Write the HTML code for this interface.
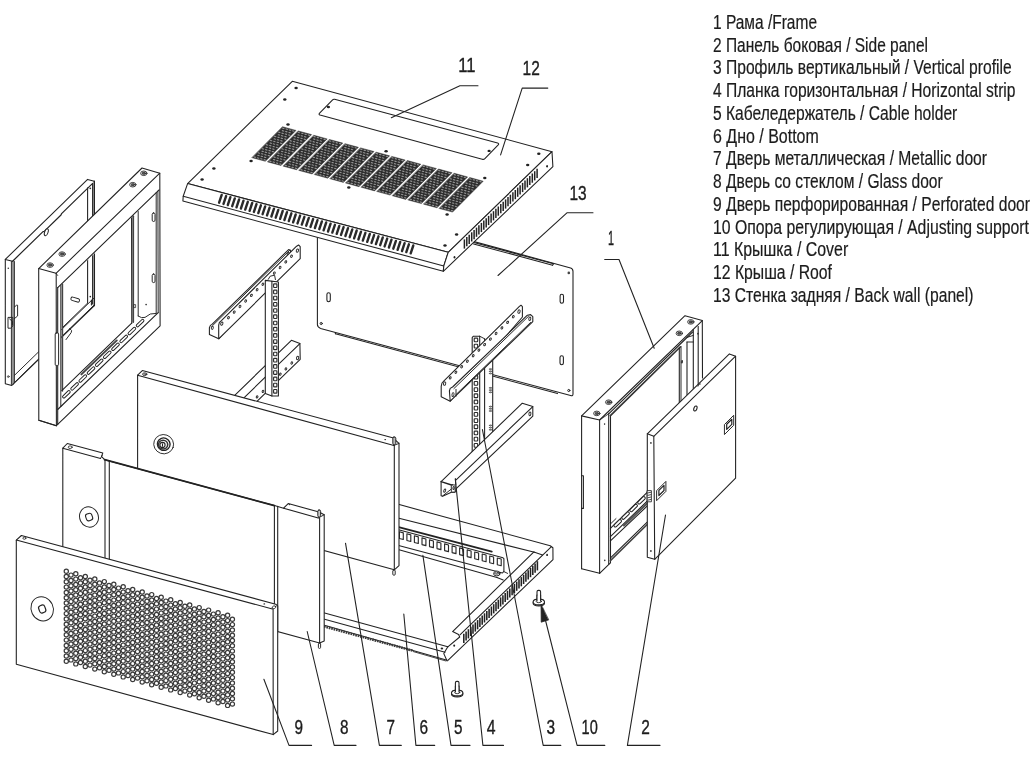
<!DOCTYPE html>
<html><head><meta charset="utf-8"><title>Exploded view</title>
<style>
html,body{margin:0;padding:0;background:#fff;}
body{width:1035px;height:763px;overflow:hidden;font-family:"Liberation Sans",sans-serif;}
svg{display:block;position:absolute;left:0;top:0;filter:grayscale(1);}
.lg text{font-family:"Liberation Sans",sans-serif;font-size:19.7px;fill:#1c1c1c;stroke:#1c1c1c;stroke-width:0.2px;}
.nm text{font-family:"Liberation Sans",sans-serif;font-size:19.5px;fill:#1c1c1c;stroke:#1c1c1c;stroke-width:0.35px;}
</style></head><body>
<svg width="1035" height="763" viewBox="0 0 1035 763" stroke-linecap="round" stroke-linejoin="round">
<rect width="1035" height="763" fill="#fff"/>
<g id="drawing">
<path d="M317.4 199 L317.4 324.6 Q317.4 327.2 320.6 328.4 L570.6 395.5 Q573 396.2 573 394 L573 271.4 Q573 268.6 570.6 267.9 L317.4 199 Z" fill="#fff" stroke="#222" stroke-width="1.08"/>
<line x1="335.4" y1="333.8" x2="557.5" y2="393.6" stroke="#222" stroke-width="1.08" />
<line x1="335.4" y1="332.6" x2="335.4" y2="333.8" stroke="#222" stroke-width="1.08" />
<line x1="472.8" y1="242.2" x2="553.5" y2="263.8" stroke="#222" stroke-width="1.08" />
<line x1="473.6" y1="243.9" x2="552.6" y2="265.2" stroke="#222" stroke-width="1.08" />
<line x1="553.5" y1="263.8" x2="552.6" y2="265.2" stroke="#222" stroke-width="1.08" />
<rect x="326.9" y="292.7" width="3.4" height="9" rx="1.7" fill="#fff" stroke="#222" stroke-width="1.08"/>
<rect x="560.1" y="294.3" width="3.4" height="9" rx="1.7" fill="#fff" stroke="#222" stroke-width="1.08"/>
<rect x="560.0" y="355.7" width="3.4" height="9" rx="1.7" fill="#fff" stroke="#222" stroke-width="1.08"/>
<ellipse cx="321.2" cy="323.5" rx="1.10" ry="1.10" fill="#fff" stroke="#222" stroke-width="0.96"/>
<ellipse cx="568.8" cy="272.9" rx="1.30" ry="1.30" fill="#444" stroke="none" stroke-width="0.96"/>
<ellipse cx="568.8" cy="390.5" rx="1.10" ry="1.10" fill="#fff" stroke="#222" stroke-width="0.96"/>
<path d="M209.4 327.6 L210.4 325.4 L212.0 324.4 L288.6 249.6 L290.6 250.2 L290.6 256.0 L218.7 338.8 L209.4 334.6 Z" fill="#fff" stroke="#222" stroke-width="1.08" />
<line x1="212.6" y1="325.6" x2="289.6" y2="250.4" stroke="#222" stroke-width="0.96" />
<ellipse cx="212.3" cy="327.8" rx="1.00" ry="1.60" fill="#fff" stroke="#2a2a2a" stroke-width="0.96" transform="rotate(10.0 212.3 327.8)"/>
<ellipse cx="288.2" cy="253.8" rx="1.00" ry="1.60" fill="#fff" stroke="#2a2a2a" stroke-width="0.96" transform="rotate(10.0 288.2 253.8)"/>
<path d="M218.7 325.2 L219.4 322.4 L221.4 320.6 L296.6 246.2 L298.6 245.0 L300.2 246.6 L300.2 258.7 L218.7 338.8 Z" fill="#fff" stroke="#222" stroke-width="1.08" />
<ellipse cx="228.5" cy="317.7" rx="0.85" ry="1.25" fill="#fff" stroke="#2a2a2a" stroke-width="0.96" transform="rotate(25.0 228.5 317.7)"/>
<ellipse cx="234.2" cy="312.1" rx="0.85" ry="1.25" fill="#fff" stroke="#2a2a2a" stroke-width="0.96" transform="rotate(25.0 234.2 312.1)"/>
<ellipse cx="240.0" cy="306.5" rx="0.85" ry="1.25" fill="#fff" stroke="#2a2a2a" stroke-width="0.96" transform="rotate(25.0 240.0 306.5)"/>
<ellipse cx="245.7" cy="301.0" rx="0.85" ry="1.25" fill="#fff" stroke="#2a2a2a" stroke-width="0.96" transform="rotate(25.0 245.7 301.0)"/>
<ellipse cx="251.4" cy="295.4" rx="0.85" ry="1.25" fill="#fff" stroke="#2a2a2a" stroke-width="0.96" transform="rotate(25.0 251.4 295.4)"/>
<ellipse cx="257.1" cy="289.8" rx="0.85" ry="1.25" fill="#fff" stroke="#2a2a2a" stroke-width="0.96" transform="rotate(25.0 257.1 289.8)"/>
<ellipse cx="262.9" cy="284.2" rx="0.85" ry="1.25" fill="#fff" stroke="#2a2a2a" stroke-width="0.96" transform="rotate(25.0 262.9 284.2)"/>
<ellipse cx="274.3" cy="273.1" rx="0.85" ry="1.25" fill="#fff" stroke="#2a2a2a" stroke-width="0.96" transform="rotate(25.0 274.3 273.1)"/>
<ellipse cx="280.1" cy="267.5" rx="0.85" ry="1.25" fill="#fff" stroke="#2a2a2a" stroke-width="0.96" transform="rotate(25.0 280.1 267.5)"/>
<ellipse cx="285.8" cy="261.9" rx="0.85" ry="1.25" fill="#fff" stroke="#2a2a2a" stroke-width="0.96" transform="rotate(25.0 285.8 261.9)"/>
<ellipse cx="291.5" cy="256.3" rx="0.85" ry="1.25" fill="#fff" stroke="#2a2a2a" stroke-width="0.96" transform="rotate(25.0 291.5 256.3)"/>
<ellipse cx="221.8" cy="323.6" rx="1.10" ry="1.70" fill="#fff" stroke="#2a2a2a" stroke-width="0.96" transform="rotate(15.0 221.8 323.6)"/>
<ellipse cx="297.4" cy="250.6" rx="1.10" ry="1.70" fill="#fff" stroke="#2a2a2a" stroke-width="0.96" transform="rotate(15.0 297.4 250.6)"/>
<path d="M291.4 340.3 L299.9 343.6 L300.2 359.3 L250.0 408.0 L225.0 404.7 Z" fill="#fff" stroke="none" stroke-width="1.08" />
<path d="M228.0 401.8 L291.4 340.3 L299.9 343.6 L300.2 359.3 L252.0 406.1" fill="none" stroke="#222" stroke-width="1.08" />
<line x1="299.9" y1="343.6" x2="240.0" y2="401.7" stroke="#222" stroke-width="1.08" />
<ellipse cx="297.6" cy="358.0" rx="1.10" ry="1.70" fill="#fff" stroke="#2a2a2a" stroke-width="0.96" transform="rotate(10.0 297.6 358.0)"/>
<ellipse cx="291.8" cy="363.0" rx="0.80" ry="1.20" fill="#fff" stroke="#2a2a2a" stroke-width="0.96" transform="rotate(25.0 291.8 363.0)"/>
<ellipse cx="285.9" cy="368.9" rx="0.80" ry="1.20" fill="#fff" stroke="#2a2a2a" stroke-width="0.96" transform="rotate(25.0 285.9 368.9)"/>
<ellipse cx="280.3" cy="374.2" rx="0.80" ry="1.20" fill="#fff" stroke="#2a2a2a" stroke-width="0.96" transform="rotate(25.0 280.3 374.2)"/>
<ellipse cx="263.0" cy="391.4" rx="0.80" ry="1.20" fill="#fff" stroke="#2a2a2a" stroke-width="0.96" transform="rotate(25.0 263.0 391.4)"/>
<ellipse cx="257.1" cy="396.9" rx="0.80" ry="1.20" fill="#fff" stroke="#2a2a2a" stroke-width="0.96" transform="rotate(25.0 257.1 396.9)"/>
<path d="M265.3 280.4 L278.4 282.0 L278.4 396.0 L271.9 396.0 L265.3 393.4 Z" fill="#fff" stroke="#222" stroke-width="1.08" />
<line x1="271.9" y1="281.2" x2="271.9" y2="396.0" stroke="#222" stroke-width="1.08" />
<rect x="273.6" y="283.9" width="3.3" height="3.6" rx="0.7" fill="#fff" stroke="#2a2a2a" stroke-width="1.14"/>
<rect x="273.6" y="290.1" width="3.3" height="3.6" rx="0.7" fill="#fff" stroke="#2a2a2a" stroke-width="1.14"/>
<rect x="273.6" y="296.3" width="3.3" height="3.6" rx="0.7" fill="#fff" stroke="#2a2a2a" stroke-width="1.14"/>
<rect x="273.6" y="302.5" width="3.3" height="3.6" rx="0.7" fill="#fff" stroke="#2a2a2a" stroke-width="1.14"/>
<rect x="273.6" y="308.7" width="3.3" height="3.6" rx="0.7" fill="#fff" stroke="#2a2a2a" stroke-width="1.14"/>
<rect x="273.6" y="314.9" width="3.3" height="3.6" rx="0.7" fill="#fff" stroke="#2a2a2a" stroke-width="1.14"/>
<rect x="273.6" y="321.2" width="3.3" height="3.6" rx="0.7" fill="#fff" stroke="#2a2a2a" stroke-width="1.14"/>
<rect x="273.6" y="327.4" width="3.3" height="3.6" rx="0.7" fill="#fff" stroke="#2a2a2a" stroke-width="1.14"/>
<rect x="273.6" y="333.6" width="3.3" height="3.6" rx="0.7" fill="#fff" stroke="#2a2a2a" stroke-width="1.14"/>
<rect x="273.6" y="339.8" width="3.3" height="3.6" rx="0.7" fill="#fff" stroke="#2a2a2a" stroke-width="1.14"/>
<rect x="273.6" y="346.0" width="3.3" height="3.6" rx="0.7" fill="#fff" stroke="#2a2a2a" stroke-width="1.14"/>
<rect x="273.6" y="352.2" width="3.3" height="3.6" rx="0.7" fill="#fff" stroke="#2a2a2a" stroke-width="1.14"/>
<rect x="273.6" y="358.4" width="3.3" height="3.6" rx="0.7" fill="#fff" stroke="#2a2a2a" stroke-width="1.14"/>
<rect x="273.6" y="364.6" width="3.3" height="3.6" rx="0.7" fill="#fff" stroke="#2a2a2a" stroke-width="1.14"/>
<rect x="273.6" y="370.8" width="3.3" height="3.6" rx="0.7" fill="#fff" stroke="#2a2a2a" stroke-width="1.14"/>
<rect x="273.6" y="377.1" width="3.3" height="3.6" rx="0.7" fill="#fff" stroke="#2a2a2a" stroke-width="1.14"/>
<rect x="273.6" y="383.3" width="3.3" height="3.6" rx="0.7" fill="#fff" stroke="#2a2a2a" stroke-width="1.14"/>
<rect x="273.6" y="389.5" width="3.3" height="3.6" rx="0.7" fill="#fff" stroke="#2a2a2a" stroke-width="1.14"/>
<path d="M268.2 279.4 L270.2 276.2 L274.6 275.2 L275.4 279.6" fill="none" stroke="#222" stroke-width="0.96" />
<path d="M472.2 337.6 L473.4 336.2 L480.0 336.2 L485.4 339.2 L492.7 339.2 L492.7 440.0 L472.2 456.0 Z" fill="#fff" stroke="none" stroke-width="1.08" />
<path d="M472.2 456.0 L472.2 337.6 L473.4 336.2 L479.7 336.2 L479.7 452.0" fill="none" stroke="#222" stroke-width="1.08" />
<line x1="479.7" y1="336.2" x2="485.0" y2="339.0" stroke="#222" stroke-width="0.96" />
<line x1="484.6" y1="339.0" x2="484.6" y2="446.0" stroke="#222" stroke-width="1.08" />
<line x1="492.7" y1="356.0" x2="492.7" y2="436.0" stroke="#222" stroke-width="1.08" />
<rect x="474.2" y="338.1" width="3.5" height="3.7" rx="0.7" fill="#fff" stroke="#2a2a2a" stroke-width="1.14"/>
<rect x="474.2" y="344.3" width="3.5" height="3.7" rx="0.7" fill="#fff" stroke="#2a2a2a" stroke-width="1.14"/>
<rect x="474.2" y="350.5" width="3.5" height="3.7" rx="0.7" fill="#fff" stroke="#2a2a2a" stroke-width="1.14"/>
<rect x="474.2" y="356.8" width="3.5" height="3.7" rx="0.7" fill="#fff" stroke="#2a2a2a" stroke-width="1.14"/>
<rect x="474.2" y="362.9" width="3.5" height="3.7" rx="0.7" fill="#fff" stroke="#2a2a2a" stroke-width="1.14"/>
<rect x="474.2" y="369.1" width="3.5" height="3.7" rx="0.7" fill="#fff" stroke="#2a2a2a" stroke-width="1.14"/>
<rect x="474.2" y="375.3" width="3.5" height="3.7" rx="0.7" fill="#fff" stroke="#2a2a2a" stroke-width="1.14"/>
<rect x="474.2" y="381.5" width="3.5" height="3.7" rx="0.7" fill="#fff" stroke="#2a2a2a" stroke-width="1.14"/>
<rect x="474.2" y="387.8" width="3.5" height="3.7" rx="0.7" fill="#fff" stroke="#2a2a2a" stroke-width="1.14"/>
<rect x="474.2" y="393.9" width="3.5" height="3.7" rx="0.7" fill="#fff" stroke="#2a2a2a" stroke-width="1.14"/>
<rect x="474.2" y="400.1" width="3.5" height="3.7" rx="0.7" fill="#fff" stroke="#2a2a2a" stroke-width="1.14"/>
<rect x="474.2" y="406.3" width="3.5" height="3.7" rx="0.7" fill="#fff" stroke="#2a2a2a" stroke-width="1.14"/>
<rect x="474.2" y="412.5" width="3.5" height="3.7" rx="0.7" fill="#fff" stroke="#2a2a2a" stroke-width="1.14"/>
<rect x="474.2" y="418.8" width="3.5" height="3.7" rx="0.7" fill="#fff" stroke="#2a2a2a" stroke-width="1.14"/>
<rect x="474.2" y="424.9" width="3.5" height="3.7" rx="0.7" fill="#fff" stroke="#2a2a2a" stroke-width="1.14"/>
<rect x="474.2" y="431.1" width="3.5" height="3.7" rx="0.7" fill="#fff" stroke="#2a2a2a" stroke-width="1.14"/>
<rect x="474.2" y="437.3" width="3.5" height="3.7" rx="0.7" fill="#fff" stroke="#2a2a2a" stroke-width="1.14"/>
<rect x="474.2" y="443.5" width="3.5" height="3.7" rx="0.7" fill="#fff" stroke="#2a2a2a" stroke-width="1.14"/>
<rect x="474.2" y="449.8" width="3.5" height="3.7" rx="0.7" fill="#fff" stroke="#2a2a2a" stroke-width="1.14"/>
<path d="M489.6 369.1 q1.6 -1.2 2.2 0 q-0.6 1.2 -2.2 0Z" fill="none" stroke="#333" stroke-width="0.72"/>
<path d="M489.6 371.3 q1.6 -1.2 2.2 0 q-0.6 1.2 -2.2 0Z" fill="none" stroke="#333" stroke-width="0.72"/>
<path d="M489.6 373.5 q1.6 -1.2 2.2 0 q-0.6 1.2 -2.2 0Z" fill="none" stroke="#333" stroke-width="0.72"/>
<path d="M489.6 387.9 q1.6 -1.2 2.2 0 q-0.6 1.2 -2.2 0Z" fill="none" stroke="#333" stroke-width="0.72"/>
<path d="M489.6 390.1 q1.6 -1.2 2.2 0 q-0.6 1.2 -2.2 0Z" fill="none" stroke="#333" stroke-width="0.72"/>
<path d="M489.6 392.3 q1.6 -1.2 2.2 0 q-0.6 1.2 -2.2 0Z" fill="none" stroke="#333" stroke-width="0.72"/>
<path d="M489.6 406.6 q1.6 -1.2 2.2 0 q-0.6 1.2 -2.2 0Z" fill="none" stroke="#333" stroke-width="0.72"/>
<path d="M489.6 408.8 q1.6 -1.2 2.2 0 q-0.6 1.2 -2.2 0Z" fill="none" stroke="#333" stroke-width="0.72"/>
<path d="M489.6 411.0 q1.6 -1.2 2.2 0 q-0.6 1.2 -2.2 0Z" fill="none" stroke="#333" stroke-width="0.72"/>
<path d="M489.6 425.4 q1.6 -1.2 2.2 0 q-0.6 1.2 -2.2 0Z" fill="none" stroke="#333" stroke-width="0.72"/>
<path d="M489.6 427.6 q1.6 -1.2 2.2 0 q-0.6 1.2 -2.2 0Z" fill="none" stroke="#333" stroke-width="0.72"/>
<path d="M489.6 429.8 q1.6 -1.2 2.2 0 q-0.6 1.2 -2.2 0Z" fill="none" stroke="#333" stroke-width="0.72"/>
<path d="M441.2 386.4 L442.0 383.0 L444.2 380.6 L519.4 306.4 L521.0 305.2 L522.4 306.6 L522.4 317.0 L450.2 401.2 L441.2 396.8 Z" fill="#fff" stroke="#222" stroke-width="1.08" />
<ellipse cx="450.2" cy="377.9" rx="0.85" ry="1.25" fill="#fff" stroke="#2a2a2a" stroke-width="0.96" transform="rotate(25.0 450.2 377.9)"/>
<ellipse cx="455.9" cy="372.3" rx="0.85" ry="1.25" fill="#fff" stroke="#2a2a2a" stroke-width="0.96" transform="rotate(25.0 455.9 372.3)"/>
<ellipse cx="461.7" cy="366.8" rx="0.85" ry="1.25" fill="#fff" stroke="#2a2a2a" stroke-width="0.96" transform="rotate(25.0 461.7 366.8)"/>
<ellipse cx="467.4" cy="361.2" rx="0.85" ry="1.25" fill="#fff" stroke="#2a2a2a" stroke-width="0.96" transform="rotate(25.0 467.4 361.2)"/>
<ellipse cx="473.2" cy="355.7" rx="0.85" ry="1.25" fill="#fff" stroke="#2a2a2a" stroke-width="0.96" transform="rotate(25.0 473.2 355.7)"/>
<ellipse cx="478.9" cy="350.1" rx="0.85" ry="1.25" fill="#fff" stroke="#2a2a2a" stroke-width="0.96" transform="rotate(25.0 478.9 350.1)"/>
<ellipse cx="484.6" cy="344.6" rx="0.85" ry="1.25" fill="#fff" stroke="#2a2a2a" stroke-width="0.96" transform="rotate(25.0 484.6 344.6)"/>
<ellipse cx="490.4" cy="339.1" rx="0.85" ry="1.25" fill="#fff" stroke="#2a2a2a" stroke-width="0.96" transform="rotate(25.0 490.4 339.1)"/>
<ellipse cx="496.1" cy="333.5" rx="0.85" ry="1.25" fill="#fff" stroke="#2a2a2a" stroke-width="0.96" transform="rotate(25.0 496.1 333.5)"/>
<ellipse cx="501.9" cy="327.9" rx="0.85" ry="1.25" fill="#fff" stroke="#2a2a2a" stroke-width="0.96" transform="rotate(25.0 501.9 327.9)"/>
<ellipse cx="507.6" cy="322.4" rx="0.85" ry="1.25" fill="#fff" stroke="#2a2a2a" stroke-width="0.96" transform="rotate(25.0 507.6 322.4)"/>
<ellipse cx="513.3" cy="316.8" rx="0.85" ry="1.25" fill="#fff" stroke="#2a2a2a" stroke-width="0.96" transform="rotate(25.0 513.3 316.8)"/>
<ellipse cx="444.6" cy="383.6" rx="1.10" ry="1.80" fill="#fff" stroke="#2a2a2a" stroke-width="0.96" transform="rotate(15.0 444.6 383.6)"/>
<ellipse cx="519.0" cy="311.6" rx="1.10" ry="1.80" fill="#fff" stroke="#2a2a2a" stroke-width="0.96" transform="rotate(15.0 519.0 311.6)"/>
<path d="M449.4 391.0 L450.2 388.4 L452.6 387.0 L527.4 315.2 L530.6 314.6 L532.8 316.6 L532.8 321.6 L450.2 401.2 Z" fill="#fff" stroke="#222" stroke-width="1.08" />
<line x1="453.9" y1="388.6" x2="528.6" y2="316.2" stroke="#222" stroke-width="0.96" />
<line x1="456.0" y1="394.6" x2="530.6" y2="322.4" stroke="#222" stroke-width="0.96" />
<line x1="456.0" y1="389.4" x2="456.0" y2="396.2" stroke="#222" stroke-width="0.96" />
<ellipse cx="453.0" cy="394.6" rx="1.00" ry="2.00" fill="#fff" stroke="#2a2a2a" stroke-width="0.96" transform="rotate(8.0 453.0 394.6)"/>
<ellipse cx="529.8" cy="318.8" rx="1.00" ry="1.80" fill="#fff" stroke="#2a2a2a" stroke-width="0.96" transform="rotate(8.0 529.8 318.8)"/>
<path d="M441.1 481.6 L522.3 403.2 L532.8 406.6 L532.8 416.2 L456.2 488.6 L455.2 492.2 L451.4 492.2 L442.6 496.2 L441.1 495.7 Z" fill="#fff" stroke="#222" stroke-width="1.08" />
<line x1="455.6" y1="480.4" x2="532.8" y2="406.6" stroke="#222" stroke-width="1.08" />
<path d="M441.1 481.6 L452.3 485.2" fill="none" stroke="#222" stroke-width="1.44" />
<line x1="442.6" y1="496.0" x2="451.6" y2="488.8" stroke="#222" stroke-width="0.96" />
<rect x="451.3" y="484.9" width="3.9" height="7.2" rx="0.8" fill="#fff" stroke="#222" stroke-width="0.96"/>
<ellipse cx="453.6" cy="488.0" rx="0.70" ry="1.60" fill="#fff" stroke="#2a2a2a" stroke-width="0.96" transform="rotate(8.0 453.6 488.0)"/>
<ellipse cx="444.7" cy="490.6" rx="0.90" ry="1.70" fill="#fff" stroke="#2a2a2a" stroke-width="0.96" transform="rotate(20.0 444.7 490.6)"/>
<line x1="455.4" y1="478.6" x2="455.8" y2="484.6" stroke="#222" stroke-width="0.96" />
<ellipse cx="529.9" cy="413.8" rx="1.00" ry="1.90" fill="#fff" stroke="#2a2a2a" stroke-width="0.96" transform="rotate(8.0 529.9 413.8)"/>
<path d="M392.0 502.6 L550.2 545.7 L552.8 547.6 L553.0 559.6 L447.1 661.0 L443.8 653.6 L320.0 618.6 L320.0 560.0 Z" fill="#fff" stroke="none" stroke-width="1.08" />
<path d="M392.0 502.6 L550.2 545.7 L552.9 547.8 L553.0 559.6 L447.9 660.4" fill="none" stroke="#222" stroke-width="1.08" />
<line x1="392.0" y1="516.6" x2="534.5" y2="552.3" stroke="#222" stroke-width="1.08" />
<line x1="392.0" y1="525.4" x2="491.8" y2="551.6" stroke="#222" stroke-width="1.80" />
<path d="M392.0 528.1 L503.0 557.8 L503.9 558.6 L503.9 571.4 L502.4 573.0 L392.0 543.8" fill="none" stroke="#222" stroke-width="1.08" />
<path d="M391.9 529.8 l3.9 1.05 v6.7 l-3.9 -1.05 Z" fill="#fff" stroke="#2a2a2a" stroke-width="1.14"/>
<path d="M399.4 531.8 l3.9 1.05 v6.7 l-3.9 -1.05 Z" fill="#fff" stroke="#2a2a2a" stroke-width="1.14"/>
<path d="M406.9 533.8 l3.9 1.05 v6.7 l-3.9 -1.05 Z" fill="#fff" stroke="#2a2a2a" stroke-width="1.14"/>
<path d="M414.4 535.8 l3.9 1.05 v6.7 l-3.9 -1.05 Z" fill="#fff" stroke="#2a2a2a" stroke-width="1.14"/>
<path d="M422.0 537.9 l3.9 1.05 v6.7 l-3.9 -1.05 Z" fill="#fff" stroke="#2a2a2a" stroke-width="1.14"/>
<path d="M429.5 539.9 l3.9 1.05 v6.7 l-3.9 -1.05 Z" fill="#fff" stroke="#2a2a2a" stroke-width="1.14"/>
<path d="M437.0 541.9 l3.9 1.05 v6.7 l-3.9 -1.05 Z" fill="#fff" stroke="#2a2a2a" stroke-width="1.14"/>
<path d="M444.6 543.9 l3.9 1.05 v6.7 l-3.9 -1.05 Z" fill="#fff" stroke="#2a2a2a" stroke-width="1.14"/>
<path d="M452.1 545.9 l3.9 1.05 v6.7 l-3.9 -1.05 Z" fill="#fff" stroke="#2a2a2a" stroke-width="1.14"/>
<path d="M459.6 547.9 l3.9 1.05 v6.7 l-3.9 -1.05 Z" fill="#fff" stroke="#2a2a2a" stroke-width="1.14"/>
<path d="M467.2 549.9 l3.9 1.05 v6.7 l-3.9 -1.05 Z" fill="#fff" stroke="#2a2a2a" stroke-width="1.14"/>
<path d="M474.7 552.0 l3.9 1.05 v6.7 l-3.9 -1.05 Z" fill="#fff" stroke="#2a2a2a" stroke-width="1.14"/>
<path d="M482.2 554.0 l3.9 1.05 v6.7 l-3.9 -1.05 Z" fill="#fff" stroke="#2a2a2a" stroke-width="1.14"/>
<path d="M489.7 556.0 l3.9 1.05 v6.7 l-3.9 -1.05 Z" fill="#fff" stroke="#2a2a2a" stroke-width="1.14"/>
<path d="M497.3 558.0 l3.9 1.05 v6.7 l-3.9 -1.05 Z" fill="#fff" stroke="#2a2a2a" stroke-width="1.14"/>
<line x1="392.0" y1="547.8" x2="497.0" y2="577.4" stroke="#222" stroke-width="1.08" />
<line x1="497.0" y1="577.4" x2="503.2" y2="580.0" stroke="#222" stroke-width="1.08" />
<ellipse cx="496.8" cy="573.8" rx="3.20" ry="2.10" fill="#fff" stroke="#222" stroke-width="0.96"/>
<ellipse cx="496.8" cy="572.6" rx="2.60" ry="1.60" fill="#fff" stroke="#222" stroke-width="0.84"/>
<ellipse cx="496.8" cy="572.4" rx="1.20" ry="0.80" fill="#fff" stroke="#222" stroke-width="0.72"/>
<line x1="551.2" y1="546.8" x2="460.2" y2="634.6" stroke="#222" stroke-width="1.08" />
<path d="M542.5 555.0 L533.9 551.9 L452.6 631.6 L458.6 634.5 L459.7 637.0 L447.8 646.8" fill="none" stroke="#222" stroke-width="1.08" />
<line x1="503.9" y1="571.6" x2="507.6" y2="573.4" stroke="#222" stroke-width="0.96" />
<line x1="537.4" y1="561.2" x2="537.4" y2="570.4" stroke="#222" stroke-width="1.56" stroke-linecap="butt"/>
<line x1="535.1" y1="563.5" x2="535.1" y2="572.7" stroke="#222" stroke-width="1.56" stroke-linecap="butt"/>
<line x1="532.8" y1="565.7" x2="532.8" y2="574.9" stroke="#222" stroke-width="1.56" stroke-linecap="butt"/>
<line x1="530.5" y1="568.0" x2="530.5" y2="577.2" stroke="#222" stroke-width="1.56" stroke-linecap="butt"/>
<line x1="528.2" y1="570.3" x2="528.2" y2="579.5" stroke="#222" stroke-width="1.56" stroke-linecap="butt"/>
<line x1="525.9" y1="572.5" x2="525.9" y2="581.7" stroke="#222" stroke-width="1.56" stroke-linecap="butt"/>
<line x1="523.6" y1="574.8" x2="523.6" y2="584.0" stroke="#222" stroke-width="1.56" stroke-linecap="butt"/>
<line x1="521.3" y1="577.1" x2="521.3" y2="586.3" stroke="#222" stroke-width="1.56" stroke-linecap="butt"/>
<line x1="519.0" y1="579.3" x2="519.0" y2="588.5" stroke="#222" stroke-width="1.56" stroke-linecap="butt"/>
<line x1="516.7" y1="581.6" x2="516.7" y2="590.8" stroke="#222" stroke-width="1.56" stroke-linecap="butt"/>
<line x1="514.4" y1="583.9" x2="514.4" y2="593.1" stroke="#222" stroke-width="1.56" stroke-linecap="butt"/>
<line x1="512.1" y1="586.1" x2="512.1" y2="595.3" stroke="#222" stroke-width="1.56" stroke-linecap="butt"/>
<line x1="509.8" y1="588.4" x2="509.8" y2="597.6" stroke="#222" stroke-width="1.56" stroke-linecap="butt"/>
<line x1="507.5" y1="590.7" x2="507.5" y2="599.9" stroke="#222" stroke-width="1.56" stroke-linecap="butt"/>
<line x1="505.2" y1="592.9" x2="505.2" y2="602.1" stroke="#222" stroke-width="1.56" stroke-linecap="butt"/>
<line x1="502.9" y1="595.2" x2="502.9" y2="604.4" stroke="#222" stroke-width="1.56" stroke-linecap="butt"/>
<line x1="500.6" y1="597.4" x2="500.6" y2="606.6" stroke="#222" stroke-width="1.56" stroke-linecap="butt"/>
<line x1="498.3" y1="599.7" x2="498.3" y2="608.9" stroke="#222" stroke-width="1.56" stroke-linecap="butt"/>
<line x1="496.0" y1="602.0" x2="496.0" y2="611.2" stroke="#222" stroke-width="1.56" stroke-linecap="butt"/>
<line x1="493.7" y1="604.2" x2="493.7" y2="613.4" stroke="#222" stroke-width="1.56" stroke-linecap="butt"/>
<line x1="491.4" y1="606.5" x2="491.4" y2="615.7" stroke="#222" stroke-width="1.56" stroke-linecap="butt"/>
<line x1="489.1" y1="608.8" x2="489.1" y2="618.0" stroke="#222" stroke-width="1.56" stroke-linecap="butt"/>
<line x1="486.8" y1="611.0" x2="486.8" y2="620.2" stroke="#222" stroke-width="1.56" stroke-linecap="butt"/>
<line x1="484.5" y1="613.3" x2="484.5" y2="622.5" stroke="#222" stroke-width="1.56" stroke-linecap="butt"/>
<line x1="482.2" y1="615.6" x2="482.2" y2="624.8" stroke="#222" stroke-width="1.56" stroke-linecap="butt"/>
<line x1="479.9" y1="617.8" x2="479.9" y2="627.0" stroke="#222" stroke-width="1.56" stroke-linecap="butt"/>
<line x1="477.6" y1="620.1" x2="477.6" y2="629.3" stroke="#222" stroke-width="1.56" stroke-linecap="butt"/>
<line x1="475.3" y1="622.4" x2="475.3" y2="631.6" stroke="#222" stroke-width="1.56" stroke-linecap="butt"/>
<line x1="473.0" y1="624.6" x2="473.0" y2="633.8" stroke="#222" stroke-width="1.56" stroke-linecap="butt"/>
<line x1="470.7" y1="626.9" x2="470.7" y2="636.1" stroke="#222" stroke-width="1.56" stroke-linecap="butt"/>
<line x1="468.4" y1="629.2" x2="468.4" y2="638.4" stroke="#222" stroke-width="1.56" stroke-linecap="butt"/>
<line x1="466.1" y1="631.4" x2="466.1" y2="640.6" stroke="#222" stroke-width="1.56" stroke-linecap="butt"/>
<line x1="463.8" y1="633.7" x2="463.8" y2="642.9" stroke="#222" stroke-width="1.56" stroke-linecap="butt"/>
<ellipse cx="547.1" cy="554.9" rx="0.90" ry="1.20" fill="#222" stroke="none" stroke-width="0.96"/>
<ellipse cx="454.2" cy="645.6" rx="0.90" ry="1.20" fill="#222" stroke="none" stroke-width="0.96"/>
<ellipse cx="441.9" cy="648.4" rx="1.30" ry="1.00" fill="#222" stroke="none" stroke-width="0.96"/>
<line x1="320.0" y1="611.8" x2="447.8" y2="646.8" stroke="#222" stroke-width="1.08" />
<line x1="320.0" y1="618.0" x2="445.1" y2="652.2" stroke="#222" stroke-width="1.08" />
<line x1="320.0" y1="623.9" x2="447.1" y2="660.3" stroke="#222" stroke-width="1.08" />
<line x1="324.0" y1="626.4" x2="413.3" y2="650.8" stroke="#3a3a3a" stroke-width="2.52" stroke-linecap="butt" stroke-dasharray="1.7 0.8"/>
<line x1="413.3" y1="651.6" x2="445.6" y2="660.9" stroke="#222" stroke-width="0.84" />
<path d="M447.8 646.8 L443.8 653.6 L447.1 661.0" fill="none" stroke="#222" stroke-width="1.08" />
<path d="M187.6 183.6 L292.3 81.3 L552.0 151.7 L448.2 252.3 Z" fill="#fff" stroke="#222" stroke-width="1.08" />
<path d="M187.6 183.6 L183.2 196.3 L182.9 201.1 L443.3 271.3 L443.8 265.9 L448.2 252.3 Z" fill="#fff" stroke="#222" stroke-width="1.08" />
<line x1="183.2" y1="196.3" x2="443.8" y2="265.9" stroke="#222" stroke-width="1.08" />
<path d="M448.2 252.3 L552.0 151.7 L552.9 166.7 L443.3 271.3 L443.8 265.9 Z" fill="#fff" stroke="#222" stroke-width="1.08" />
<ellipse cx="296.1" cy="88.1" rx="1.70" ry="1.25" fill="#222" stroke="none" stroke-width="0.96"/>
<ellipse cx="284.8" cy="99.4" rx="1.70" ry="1.25" fill="#222" stroke="none" stroke-width="0.96"/>
<ellipse cx="288.0" cy="124.5" rx="1.70" ry="1.25" fill="#222" stroke="none" stroke-width="0.96"/>
<ellipse cx="251.1" cy="161.0" rx="1.70" ry="1.25" fill="#222" stroke="none" stroke-width="0.96"/>
<ellipse cx="213.9" cy="168.5" rx="1.70" ry="1.25" fill="#222" stroke="none" stroke-width="0.96"/>
<ellipse cx="202.1" cy="179.6" rx="1.70" ry="1.25" fill="#222" stroke="none" stroke-width="0.96"/>
<ellipse cx="386.1" cy="151.2" rx="1.70" ry="1.25" fill="#222" stroke="none" stroke-width="0.96"/>
<ellipse cx="348.8" cy="187.6" rx="1.70" ry="1.25" fill="#222" stroke="none" stroke-width="0.96"/>
<ellipse cx="538.8" cy="153.7" rx="1.70" ry="1.25" fill="#222" stroke="none" stroke-width="0.96"/>
<ellipse cx="527.7" cy="165.0" rx="1.70" ry="1.25" fill="#222" stroke="none" stroke-width="0.96"/>
<ellipse cx="484.8" cy="178.0" rx="1.70" ry="1.25" fill="#222" stroke="none" stroke-width="0.96"/>
<ellipse cx="447.1" cy="214.5" rx="1.70" ry="1.25" fill="#222" stroke="none" stroke-width="0.96"/>
<ellipse cx="456.6" cy="234.5" rx="1.70" ry="1.25" fill="#222" stroke="none" stroke-width="0.96"/>
<ellipse cx="445.0" cy="245.5" rx="1.70" ry="1.25" fill="#222" stroke="none" stroke-width="0.96"/>
<ellipse cx="547.1" cy="166.2" rx="0.90" ry="1.20" fill="#222" stroke="none" stroke-width="0.96"/>
<ellipse cx="454.5" cy="257.2" rx="0.90" ry="1.20" fill="#222" stroke="none" stroke-width="0.96"/>
<path d="M334.6 99.3 L497.6 143.1 Q499.4 143.6 498.2 144.9 L484.9 158.6 Q483.8 159.7 482.2 159.2 L320 115 Q318.4 114.5 319.6 113.2 L332.6 99.8 Q333.4 99 334.6 99.3 Z" fill="#fff" stroke="#222" stroke-width="1.08"/>
<ellipse cx="328.4" cy="107.0" rx="1.60" ry="1.20" fill="#222" stroke="none" stroke-width="0.96"/>
<ellipse cx="489.1" cy="150.9" rx="1.60" ry="1.20" fill="#222" stroke="none" stroke-width="0.96"/>
<path d="M282.7 126.8 L296.0 130.4 L265.4 161.3 L252.1 157.7 Z" fill="#2e2e2e" stroke="#2e2e2e" stroke-width="0.48" />
<ellipse cx="283.3" cy="128.3" rx="1.35" ry="0.60" fill="#969696" stroke="none" stroke-width="0.96" transform="rotate(15.0 283.3 128.3)"/>
<ellipse cx="286.7" cy="129.2" rx="1.35" ry="0.60" fill="#969696" stroke="none" stroke-width="0.96" transform="rotate(15.0 286.7 129.2)"/>
<ellipse cx="290.0" cy="130.1" rx="1.35" ry="0.60" fill="#969696" stroke="none" stroke-width="0.96" transform="rotate(15.0 290.0 130.1)"/>
<ellipse cx="293.3" cy="131.0" rx="1.35" ry="0.60" fill="#969696" stroke="none" stroke-width="0.96" transform="rotate(15.0 293.3 131.0)"/>
<ellipse cx="283.0" cy="130.8" rx="1.35" ry="0.60" fill="#969696" stroke="none" stroke-width="0.96" transform="rotate(15.0 283.0 130.8)"/>
<ellipse cx="286.3" cy="131.7" rx="1.35" ry="0.60" fill="#969696" stroke="none" stroke-width="0.96" transform="rotate(15.0 286.3 131.7)"/>
<ellipse cx="289.6" cy="132.6" rx="1.35" ry="0.60" fill="#969696" stroke="none" stroke-width="0.96" transform="rotate(15.0 289.6 132.6)"/>
<ellipse cx="279.3" cy="132.4" rx="1.35" ry="0.60" fill="#969696" stroke="none" stroke-width="0.96" transform="rotate(15.0 279.3 132.4)"/>
<ellipse cx="282.6" cy="133.3" rx="1.35" ry="0.60" fill="#969696" stroke="none" stroke-width="0.96" transform="rotate(15.0 282.6 133.3)"/>
<ellipse cx="285.9" cy="134.2" rx="1.35" ry="0.60" fill="#969696" stroke="none" stroke-width="0.96" transform="rotate(15.0 285.9 134.2)"/>
<ellipse cx="289.2" cy="135.1" rx="1.35" ry="0.60" fill="#969696" stroke="none" stroke-width="0.96" transform="rotate(15.0 289.2 135.1)"/>
<ellipse cx="278.9" cy="134.9" rx="1.35" ry="0.60" fill="#969696" stroke="none" stroke-width="0.96" transform="rotate(15.0 278.9 134.9)"/>
<ellipse cx="282.2" cy="135.8" rx="1.35" ry="0.60" fill="#969696" stroke="none" stroke-width="0.96" transform="rotate(15.0 282.2 135.8)"/>
<ellipse cx="285.5" cy="136.7" rx="1.35" ry="0.60" fill="#969696" stroke="none" stroke-width="0.96" transform="rotate(15.0 285.5 136.7)"/>
<ellipse cx="275.2" cy="136.5" rx="1.35" ry="0.60" fill="#969696" stroke="none" stroke-width="0.96" transform="rotate(15.0 275.2 136.5)"/>
<ellipse cx="278.5" cy="137.4" rx="1.35" ry="0.60" fill="#969696" stroke="none" stroke-width="0.96" transform="rotate(15.0 278.5 137.4)"/>
<ellipse cx="281.8" cy="138.3" rx="1.35" ry="0.60" fill="#969696" stroke="none" stroke-width="0.96" transform="rotate(15.0 281.8 138.3)"/>
<ellipse cx="285.2" cy="139.2" rx="1.35" ry="0.60" fill="#969696" stroke="none" stroke-width="0.96" transform="rotate(15.0 285.2 139.2)"/>
<ellipse cx="274.8" cy="139.0" rx="1.35" ry="0.60" fill="#969696" stroke="none" stroke-width="0.96" transform="rotate(15.0 274.8 139.0)"/>
<ellipse cx="278.1" cy="139.9" rx="1.35" ry="0.60" fill="#969696" stroke="none" stroke-width="0.96" transform="rotate(15.0 278.1 139.9)"/>
<ellipse cx="281.5" cy="140.8" rx="1.35" ry="0.60" fill="#969696" stroke="none" stroke-width="0.96" transform="rotate(15.0 281.5 140.8)"/>
<ellipse cx="271.1" cy="140.6" rx="1.35" ry="0.60" fill="#969696" stroke="none" stroke-width="0.96" transform="rotate(15.0 271.1 140.6)"/>
<ellipse cx="274.4" cy="141.5" rx="1.35" ry="0.60" fill="#969696" stroke="none" stroke-width="0.96" transform="rotate(15.0 274.4 141.5)"/>
<ellipse cx="277.8" cy="142.4" rx="1.35" ry="0.60" fill="#969696" stroke="none" stroke-width="0.96" transform="rotate(15.0 277.8 142.4)"/>
<ellipse cx="281.1" cy="143.3" rx="1.35" ry="0.60" fill="#969696" stroke="none" stroke-width="0.96" transform="rotate(15.0 281.1 143.3)"/>
<ellipse cx="270.7" cy="143.2" rx="1.35" ry="0.60" fill="#969696" stroke="none" stroke-width="0.96" transform="rotate(15.0 270.7 143.2)"/>
<ellipse cx="274.0" cy="144.0" rx="1.35" ry="0.60" fill="#969696" stroke="none" stroke-width="0.96" transform="rotate(15.0 274.0 144.0)"/>
<ellipse cx="277.4" cy="144.9" rx="1.35" ry="0.60" fill="#969696" stroke="none" stroke-width="0.96" transform="rotate(15.0 277.4 144.9)"/>
<ellipse cx="267.0" cy="144.8" rx="1.35" ry="0.60" fill="#969696" stroke="none" stroke-width="0.96" transform="rotate(15.0 267.0 144.8)"/>
<ellipse cx="270.3" cy="145.7" rx="1.35" ry="0.60" fill="#969696" stroke="none" stroke-width="0.96" transform="rotate(15.0 270.3 145.7)"/>
<ellipse cx="273.7" cy="146.6" rx="1.35" ry="0.60" fill="#969696" stroke="none" stroke-width="0.96" transform="rotate(15.0 273.7 146.6)"/>
<ellipse cx="277.0" cy="147.5" rx="1.35" ry="0.60" fill="#969696" stroke="none" stroke-width="0.96" transform="rotate(15.0 277.0 147.5)"/>
<ellipse cx="266.6" cy="147.3" rx="1.35" ry="0.60" fill="#969696" stroke="none" stroke-width="0.96" transform="rotate(15.0 266.6 147.3)"/>
<ellipse cx="270.0" cy="148.2" rx="1.35" ry="0.60" fill="#969696" stroke="none" stroke-width="0.96" transform="rotate(15.0 270.0 148.2)"/>
<ellipse cx="273.3" cy="149.1" rx="1.35" ry="0.60" fill="#969696" stroke="none" stroke-width="0.96" transform="rotate(15.0 273.3 149.1)"/>
<ellipse cx="262.9" cy="148.9" rx="1.35" ry="0.60" fill="#969696" stroke="none" stroke-width="0.96" transform="rotate(15.0 262.9 148.9)"/>
<ellipse cx="266.3" cy="149.8" rx="1.35" ry="0.60" fill="#969696" stroke="none" stroke-width="0.96" transform="rotate(15.0 266.3 149.8)"/>
<ellipse cx="269.6" cy="150.7" rx="1.35" ry="0.60" fill="#969696" stroke="none" stroke-width="0.96" transform="rotate(15.0 269.6 150.7)"/>
<ellipse cx="272.9" cy="151.6" rx="1.35" ry="0.60" fill="#969696" stroke="none" stroke-width="0.96" transform="rotate(15.0 272.9 151.6)"/>
<ellipse cx="262.6" cy="151.4" rx="1.35" ry="0.60" fill="#969696" stroke="none" stroke-width="0.96" transform="rotate(15.0 262.6 151.4)"/>
<ellipse cx="265.9" cy="152.3" rx="1.35" ry="0.60" fill="#969696" stroke="none" stroke-width="0.96" transform="rotate(15.0 265.9 152.3)"/>
<ellipse cx="269.2" cy="153.2" rx="1.35" ry="0.60" fill="#969696" stroke="none" stroke-width="0.96" transform="rotate(15.0 269.2 153.2)"/>
<ellipse cx="258.9" cy="153.0" rx="1.35" ry="0.60" fill="#969696" stroke="none" stroke-width="0.96" transform="rotate(15.0 258.9 153.0)"/>
<ellipse cx="262.2" cy="153.9" rx="1.35" ry="0.60" fill="#969696" stroke="none" stroke-width="0.96" transform="rotate(15.0 262.2 153.9)"/>
<ellipse cx="265.5" cy="154.8" rx="1.35" ry="0.60" fill="#969696" stroke="none" stroke-width="0.96" transform="rotate(15.0 265.5 154.8)"/>
<ellipse cx="268.8" cy="155.7" rx="1.35" ry="0.60" fill="#969696" stroke="none" stroke-width="0.96" transform="rotate(15.0 268.8 155.7)"/>
<ellipse cx="258.5" cy="155.5" rx="1.35" ry="0.60" fill="#969696" stroke="none" stroke-width="0.96" transform="rotate(15.0 258.5 155.5)"/>
<ellipse cx="261.8" cy="156.4" rx="1.35" ry="0.60" fill="#969696" stroke="none" stroke-width="0.96" transform="rotate(15.0 261.8 156.4)"/>
<ellipse cx="265.1" cy="157.3" rx="1.35" ry="0.60" fill="#969696" stroke="none" stroke-width="0.96" transform="rotate(15.0 265.1 157.3)"/>
<ellipse cx="254.8" cy="157.1" rx="1.35" ry="0.60" fill="#969696" stroke="none" stroke-width="0.96" transform="rotate(15.0 254.8 157.1)"/>
<ellipse cx="258.1" cy="158.0" rx="1.35" ry="0.60" fill="#969696" stroke="none" stroke-width="0.96" transform="rotate(15.0 258.1 158.0)"/>
<ellipse cx="261.4" cy="158.9" rx="1.35" ry="0.60" fill="#969696" stroke="none" stroke-width="0.96" transform="rotate(15.0 261.4 158.9)"/>
<ellipse cx="264.8" cy="159.8" rx="1.35" ry="0.60" fill="#969696" stroke="none" stroke-width="0.96" transform="rotate(15.0 264.8 159.8)"/>
<path d="M298.3 131.0 L311.6 134.6 L281.0 165.5 L267.7 161.9 Z" fill="#2e2e2e" stroke="#2e2e2e" stroke-width="0.48" />
<ellipse cx="298.9" cy="132.5" rx="1.35" ry="0.60" fill="#969696" stroke="none" stroke-width="0.96" transform="rotate(15.0 298.9 132.5)"/>
<ellipse cx="302.3" cy="133.4" rx="1.35" ry="0.60" fill="#969696" stroke="none" stroke-width="0.96" transform="rotate(15.0 302.3 133.4)"/>
<ellipse cx="305.6" cy="134.3" rx="1.35" ry="0.60" fill="#969696" stroke="none" stroke-width="0.96" transform="rotate(15.0 305.6 134.3)"/>
<ellipse cx="308.9" cy="135.2" rx="1.35" ry="0.60" fill="#969696" stroke="none" stroke-width="0.96" transform="rotate(15.0 308.9 135.2)"/>
<ellipse cx="298.6" cy="135.0" rx="1.35" ry="0.60" fill="#969696" stroke="none" stroke-width="0.96" transform="rotate(15.0 298.6 135.0)"/>
<ellipse cx="301.9" cy="135.9" rx="1.35" ry="0.60" fill="#969696" stroke="none" stroke-width="0.96" transform="rotate(15.0 301.9 135.9)"/>
<ellipse cx="305.2" cy="136.8" rx="1.35" ry="0.60" fill="#969696" stroke="none" stroke-width="0.96" transform="rotate(15.0 305.2 136.8)"/>
<ellipse cx="294.9" cy="136.6" rx="1.35" ry="0.60" fill="#969696" stroke="none" stroke-width="0.96" transform="rotate(15.0 294.9 136.6)"/>
<ellipse cx="298.2" cy="137.5" rx="1.35" ry="0.60" fill="#969696" stroke="none" stroke-width="0.96" transform="rotate(15.0 298.2 137.5)"/>
<ellipse cx="301.5" cy="138.4" rx="1.35" ry="0.60" fill="#969696" stroke="none" stroke-width="0.96" transform="rotate(15.0 301.5 138.4)"/>
<ellipse cx="304.8" cy="139.3" rx="1.35" ry="0.60" fill="#969696" stroke="none" stroke-width="0.96" transform="rotate(15.0 304.8 139.3)"/>
<ellipse cx="294.5" cy="139.1" rx="1.35" ry="0.60" fill="#969696" stroke="none" stroke-width="0.96" transform="rotate(15.0 294.5 139.1)"/>
<ellipse cx="297.8" cy="140.0" rx="1.35" ry="0.60" fill="#969696" stroke="none" stroke-width="0.96" transform="rotate(15.0 297.8 140.0)"/>
<ellipse cx="301.1" cy="140.9" rx="1.35" ry="0.60" fill="#969696" stroke="none" stroke-width="0.96" transform="rotate(15.0 301.1 140.9)"/>
<ellipse cx="290.8" cy="140.8" rx="1.35" ry="0.60" fill="#969696" stroke="none" stroke-width="0.96" transform="rotate(15.0 290.8 140.8)"/>
<ellipse cx="294.1" cy="141.7" rx="1.35" ry="0.60" fill="#969696" stroke="none" stroke-width="0.96" transform="rotate(15.0 294.1 141.7)"/>
<ellipse cx="297.4" cy="142.6" rx="1.35" ry="0.60" fill="#969696" stroke="none" stroke-width="0.96" transform="rotate(15.0 297.4 142.6)"/>
<ellipse cx="300.8" cy="143.5" rx="1.35" ry="0.60" fill="#969696" stroke="none" stroke-width="0.96" transform="rotate(15.0 300.8 143.5)"/>
<ellipse cx="290.4" cy="143.3" rx="1.35" ry="0.60" fill="#969696" stroke="none" stroke-width="0.96" transform="rotate(15.0 290.4 143.3)"/>
<ellipse cx="293.7" cy="144.2" rx="1.35" ry="0.60" fill="#969696" stroke="none" stroke-width="0.96" transform="rotate(15.0 293.7 144.2)"/>
<ellipse cx="297.1" cy="145.1" rx="1.35" ry="0.60" fill="#969696" stroke="none" stroke-width="0.96" transform="rotate(15.0 297.1 145.1)"/>
<ellipse cx="286.7" cy="144.9" rx="1.35" ry="0.60" fill="#969696" stroke="none" stroke-width="0.96" transform="rotate(15.0 286.7 144.9)"/>
<ellipse cx="290.0" cy="145.8" rx="1.35" ry="0.60" fill="#969696" stroke="none" stroke-width="0.96" transform="rotate(15.0 290.0 145.8)"/>
<ellipse cx="293.4" cy="146.7" rx="1.35" ry="0.60" fill="#969696" stroke="none" stroke-width="0.96" transform="rotate(15.0 293.4 146.7)"/>
<ellipse cx="296.7" cy="147.6" rx="1.35" ry="0.60" fill="#969696" stroke="none" stroke-width="0.96" transform="rotate(15.0 296.7 147.6)"/>
<ellipse cx="286.3" cy="147.4" rx="1.35" ry="0.60" fill="#969696" stroke="none" stroke-width="0.96" transform="rotate(15.0 286.3 147.4)"/>
<ellipse cx="289.6" cy="148.3" rx="1.35" ry="0.60" fill="#969696" stroke="none" stroke-width="0.96" transform="rotate(15.0 289.6 148.3)"/>
<ellipse cx="293.0" cy="149.2" rx="1.35" ry="0.60" fill="#969696" stroke="none" stroke-width="0.96" transform="rotate(15.0 293.0 149.2)"/>
<ellipse cx="282.6" cy="149.0" rx="1.35" ry="0.60" fill="#969696" stroke="none" stroke-width="0.96" transform="rotate(15.0 282.6 149.0)"/>
<ellipse cx="285.9" cy="149.9" rx="1.35" ry="0.60" fill="#969696" stroke="none" stroke-width="0.96" transform="rotate(15.0 285.9 149.9)"/>
<ellipse cx="289.3" cy="150.8" rx="1.35" ry="0.60" fill="#969696" stroke="none" stroke-width="0.96" transform="rotate(15.0 289.3 150.8)"/>
<ellipse cx="292.6" cy="151.7" rx="1.35" ry="0.60" fill="#969696" stroke="none" stroke-width="0.96" transform="rotate(15.0 292.6 151.7)"/>
<ellipse cx="282.2" cy="151.5" rx="1.35" ry="0.60" fill="#969696" stroke="none" stroke-width="0.96" transform="rotate(15.0 282.2 151.5)"/>
<ellipse cx="285.6" cy="152.4" rx="1.35" ry="0.60" fill="#969696" stroke="none" stroke-width="0.96" transform="rotate(15.0 285.6 152.4)"/>
<ellipse cx="288.9" cy="153.3" rx="1.35" ry="0.60" fill="#969696" stroke="none" stroke-width="0.96" transform="rotate(15.0 288.9 153.3)"/>
<ellipse cx="278.5" cy="153.1" rx="1.35" ry="0.60" fill="#969696" stroke="none" stroke-width="0.96" transform="rotate(15.0 278.5 153.1)"/>
<ellipse cx="281.9" cy="154.0" rx="1.35" ry="0.60" fill="#969696" stroke="none" stroke-width="0.96" transform="rotate(15.0 281.9 154.0)"/>
<ellipse cx="285.2" cy="154.9" rx="1.35" ry="0.60" fill="#969696" stroke="none" stroke-width="0.96" transform="rotate(15.0 285.2 154.9)"/>
<ellipse cx="288.5" cy="155.8" rx="1.35" ry="0.60" fill="#969696" stroke="none" stroke-width="0.96" transform="rotate(15.0 288.5 155.8)"/>
<ellipse cx="278.2" cy="155.6" rx="1.35" ry="0.60" fill="#969696" stroke="none" stroke-width="0.96" transform="rotate(15.0 278.2 155.6)"/>
<ellipse cx="281.5" cy="156.5" rx="1.35" ry="0.60" fill="#969696" stroke="none" stroke-width="0.96" transform="rotate(15.0 281.5 156.5)"/>
<ellipse cx="284.8" cy="157.4" rx="1.35" ry="0.60" fill="#969696" stroke="none" stroke-width="0.96" transform="rotate(15.0 284.8 157.4)"/>
<ellipse cx="274.5" cy="157.2" rx="1.35" ry="0.60" fill="#969696" stroke="none" stroke-width="0.96" transform="rotate(15.0 274.5 157.2)"/>
<ellipse cx="277.8" cy="158.1" rx="1.35" ry="0.60" fill="#969696" stroke="none" stroke-width="0.96" transform="rotate(15.0 277.8 158.1)"/>
<ellipse cx="281.1" cy="159.0" rx="1.35" ry="0.60" fill="#969696" stroke="none" stroke-width="0.96" transform="rotate(15.0 281.1 159.0)"/>
<ellipse cx="284.4" cy="159.9" rx="1.35" ry="0.60" fill="#969696" stroke="none" stroke-width="0.96" transform="rotate(15.0 284.4 159.9)"/>
<ellipse cx="274.1" cy="159.7" rx="1.35" ry="0.60" fill="#969696" stroke="none" stroke-width="0.96" transform="rotate(15.0 274.1 159.7)"/>
<ellipse cx="277.4" cy="160.6" rx="1.35" ry="0.60" fill="#969696" stroke="none" stroke-width="0.96" transform="rotate(15.0 277.4 160.6)"/>
<ellipse cx="280.7" cy="161.5" rx="1.35" ry="0.60" fill="#969696" stroke="none" stroke-width="0.96" transform="rotate(15.0 280.7 161.5)"/>
<ellipse cx="270.4" cy="161.3" rx="1.35" ry="0.60" fill="#969696" stroke="none" stroke-width="0.96" transform="rotate(15.0 270.4 161.3)"/>
<ellipse cx="273.7" cy="162.2" rx="1.35" ry="0.60" fill="#969696" stroke="none" stroke-width="0.96" transform="rotate(15.0 273.7 162.2)"/>
<ellipse cx="277.0" cy="163.2" rx="1.35" ry="0.60" fill="#969696" stroke="none" stroke-width="0.96" transform="rotate(15.0 277.0 163.2)"/>
<ellipse cx="280.4" cy="164.1" rx="1.35" ry="0.60" fill="#969696" stroke="none" stroke-width="0.96" transform="rotate(15.0 280.4 164.1)"/>
<path d="M313.9 135.3 L327.2 138.9 L296.6 169.8 L283.3 166.2 Z" fill="#2e2e2e" stroke="#2e2e2e" stroke-width="0.48" />
<ellipse cx="314.5" cy="136.7" rx="1.35" ry="0.60" fill="#969696" stroke="none" stroke-width="0.96" transform="rotate(15.0 314.5 136.7)"/>
<ellipse cx="317.9" cy="137.6" rx="1.35" ry="0.60" fill="#969696" stroke="none" stroke-width="0.96" transform="rotate(15.0 317.9 137.6)"/>
<ellipse cx="321.2" cy="138.5" rx="1.35" ry="0.60" fill="#969696" stroke="none" stroke-width="0.96" transform="rotate(15.0 321.2 138.5)"/>
<ellipse cx="324.5" cy="139.4" rx="1.35" ry="0.60" fill="#969696" stroke="none" stroke-width="0.96" transform="rotate(15.0 324.5 139.4)"/>
<ellipse cx="314.2" cy="139.2" rx="1.35" ry="0.60" fill="#969696" stroke="none" stroke-width="0.96" transform="rotate(15.0 314.2 139.2)"/>
<ellipse cx="317.5" cy="140.2" rx="1.35" ry="0.60" fill="#969696" stroke="none" stroke-width="0.96" transform="rotate(15.0 317.5 140.2)"/>
<ellipse cx="320.8" cy="141.0" rx="1.35" ry="0.60" fill="#969696" stroke="none" stroke-width="0.96" transform="rotate(15.0 320.8 141.0)"/>
<ellipse cx="310.5" cy="140.9" rx="1.35" ry="0.60" fill="#969696" stroke="none" stroke-width="0.96" transform="rotate(15.0 310.5 140.9)"/>
<ellipse cx="313.8" cy="141.8" rx="1.35" ry="0.60" fill="#969696" stroke="none" stroke-width="0.96" transform="rotate(15.0 313.8 141.8)"/>
<ellipse cx="317.1" cy="142.7" rx="1.35" ry="0.60" fill="#969696" stroke="none" stroke-width="0.96" transform="rotate(15.0 317.1 142.7)"/>
<ellipse cx="320.4" cy="143.6" rx="1.35" ry="0.60" fill="#969696" stroke="none" stroke-width="0.96" transform="rotate(15.0 320.4 143.6)"/>
<ellipse cx="310.1" cy="143.4" rx="1.35" ry="0.60" fill="#969696" stroke="none" stroke-width="0.96" transform="rotate(15.0 310.1 143.4)"/>
<ellipse cx="313.4" cy="144.3" rx="1.35" ry="0.60" fill="#969696" stroke="none" stroke-width="0.96" transform="rotate(15.0 313.4 144.3)"/>
<ellipse cx="316.7" cy="145.2" rx="1.35" ry="0.60" fill="#969696" stroke="none" stroke-width="0.96" transform="rotate(15.0 316.7 145.2)"/>
<ellipse cx="306.4" cy="145.0" rx="1.35" ry="0.60" fill="#969696" stroke="none" stroke-width="0.96" transform="rotate(15.0 306.4 145.0)"/>
<ellipse cx="309.7" cy="145.9" rx="1.35" ry="0.60" fill="#969696" stroke="none" stroke-width="0.96" transform="rotate(15.0 309.7 145.9)"/>
<ellipse cx="313.0" cy="146.8" rx="1.35" ry="0.60" fill="#969696" stroke="none" stroke-width="0.96" transform="rotate(15.0 313.0 146.8)"/>
<ellipse cx="316.4" cy="147.7" rx="1.35" ry="0.60" fill="#969696" stroke="none" stroke-width="0.96" transform="rotate(15.0 316.4 147.7)"/>
<ellipse cx="306.0" cy="147.5" rx="1.35" ry="0.60" fill="#969696" stroke="none" stroke-width="0.96" transform="rotate(15.0 306.0 147.5)"/>
<ellipse cx="309.3" cy="148.4" rx="1.35" ry="0.60" fill="#969696" stroke="none" stroke-width="0.96" transform="rotate(15.0 309.3 148.4)"/>
<ellipse cx="312.7" cy="149.3" rx="1.35" ry="0.60" fill="#969696" stroke="none" stroke-width="0.96" transform="rotate(15.0 312.7 149.3)"/>
<ellipse cx="302.3" cy="149.1" rx="1.35" ry="0.60" fill="#969696" stroke="none" stroke-width="0.96" transform="rotate(15.0 302.3 149.1)"/>
<ellipse cx="305.6" cy="150.0" rx="1.35" ry="0.60" fill="#969696" stroke="none" stroke-width="0.96" transform="rotate(15.0 305.6 150.0)"/>
<ellipse cx="309.0" cy="150.9" rx="1.35" ry="0.60" fill="#969696" stroke="none" stroke-width="0.96" transform="rotate(15.0 309.0 150.9)"/>
<ellipse cx="312.3" cy="151.8" rx="1.35" ry="0.60" fill="#969696" stroke="none" stroke-width="0.96" transform="rotate(15.0 312.3 151.8)"/>
<ellipse cx="301.9" cy="151.6" rx="1.35" ry="0.60" fill="#969696" stroke="none" stroke-width="0.96" transform="rotate(15.0 301.9 151.6)"/>
<ellipse cx="305.2" cy="152.5" rx="1.35" ry="0.60" fill="#969696" stroke="none" stroke-width="0.96" transform="rotate(15.0 305.2 152.5)"/>
<ellipse cx="308.6" cy="153.4" rx="1.35" ry="0.60" fill="#969696" stroke="none" stroke-width="0.96" transform="rotate(15.0 308.6 153.4)"/>
<ellipse cx="298.2" cy="153.2" rx="1.35" ry="0.60" fill="#969696" stroke="none" stroke-width="0.96" transform="rotate(15.0 298.2 153.2)"/>
<ellipse cx="301.5" cy="154.1" rx="1.35" ry="0.60" fill="#969696" stroke="none" stroke-width="0.96" transform="rotate(15.0 301.5 154.1)"/>
<ellipse cx="304.9" cy="155.0" rx="1.35" ry="0.60" fill="#969696" stroke="none" stroke-width="0.96" transform="rotate(15.0 304.9 155.0)"/>
<ellipse cx="308.2" cy="155.9" rx="1.35" ry="0.60" fill="#969696" stroke="none" stroke-width="0.96" transform="rotate(15.0 308.2 155.9)"/>
<ellipse cx="297.8" cy="155.7" rx="1.35" ry="0.60" fill="#969696" stroke="none" stroke-width="0.96" transform="rotate(15.0 297.8 155.7)"/>
<ellipse cx="301.2" cy="156.6" rx="1.35" ry="0.60" fill="#969696" stroke="none" stroke-width="0.96" transform="rotate(15.0 301.2 156.6)"/>
<ellipse cx="304.5" cy="157.5" rx="1.35" ry="0.60" fill="#969696" stroke="none" stroke-width="0.96" transform="rotate(15.0 304.5 157.5)"/>
<ellipse cx="294.1" cy="157.3" rx="1.35" ry="0.60" fill="#969696" stroke="none" stroke-width="0.96" transform="rotate(15.0 294.1 157.3)"/>
<ellipse cx="297.5" cy="158.2" rx="1.35" ry="0.60" fill="#969696" stroke="none" stroke-width="0.96" transform="rotate(15.0 297.5 158.2)"/>
<ellipse cx="300.8" cy="159.1" rx="1.35" ry="0.60" fill="#969696" stroke="none" stroke-width="0.96" transform="rotate(15.0 300.8 159.1)"/>
<ellipse cx="304.1" cy="160.0" rx="1.35" ry="0.60" fill="#969696" stroke="none" stroke-width="0.96" transform="rotate(15.0 304.1 160.0)"/>
<ellipse cx="293.8" cy="159.8" rx="1.35" ry="0.60" fill="#969696" stroke="none" stroke-width="0.96" transform="rotate(15.0 293.8 159.8)"/>
<ellipse cx="297.1" cy="160.8" rx="1.35" ry="0.60" fill="#969696" stroke="none" stroke-width="0.96" transform="rotate(15.0 297.1 160.8)"/>
<ellipse cx="300.4" cy="161.6" rx="1.35" ry="0.60" fill="#969696" stroke="none" stroke-width="0.96" transform="rotate(15.0 300.4 161.6)"/>
<ellipse cx="290.1" cy="161.5" rx="1.35" ry="0.60" fill="#969696" stroke="none" stroke-width="0.96" transform="rotate(15.0 290.1 161.5)"/>
<ellipse cx="293.4" cy="162.4" rx="1.35" ry="0.60" fill="#969696" stroke="none" stroke-width="0.96" transform="rotate(15.0 293.4 162.4)"/>
<ellipse cx="296.7" cy="163.3" rx="1.35" ry="0.60" fill="#969696" stroke="none" stroke-width="0.96" transform="rotate(15.0 296.7 163.3)"/>
<ellipse cx="300.0" cy="164.2" rx="1.35" ry="0.60" fill="#969696" stroke="none" stroke-width="0.96" transform="rotate(15.0 300.0 164.2)"/>
<ellipse cx="289.7" cy="164.0" rx="1.35" ry="0.60" fill="#969696" stroke="none" stroke-width="0.96" transform="rotate(15.0 289.7 164.0)"/>
<ellipse cx="293.0" cy="164.9" rx="1.35" ry="0.60" fill="#969696" stroke="none" stroke-width="0.96" transform="rotate(15.0 293.0 164.9)"/>
<ellipse cx="296.3" cy="165.8" rx="1.35" ry="0.60" fill="#969696" stroke="none" stroke-width="0.96" transform="rotate(15.0 296.3 165.8)"/>
<ellipse cx="286.0" cy="165.6" rx="1.35" ry="0.60" fill="#969696" stroke="none" stroke-width="0.96" transform="rotate(15.0 286.0 165.6)"/>
<ellipse cx="289.3" cy="166.5" rx="1.35" ry="0.60" fill="#969696" stroke="none" stroke-width="0.96" transform="rotate(15.0 289.3 166.5)"/>
<ellipse cx="292.6" cy="167.4" rx="1.35" ry="0.60" fill="#969696" stroke="none" stroke-width="0.96" transform="rotate(15.0 292.6 167.4)"/>
<ellipse cx="296.0" cy="168.3" rx="1.35" ry="0.60" fill="#969696" stroke="none" stroke-width="0.96" transform="rotate(15.0 296.0 168.3)"/>
<path d="M329.5 139.5 L342.8 143.1 L312.2 174.0 L298.9 170.4 Z" fill="#2e2e2e" stroke="#2e2e2e" stroke-width="0.48" />
<ellipse cx="330.1" cy="141.0" rx="1.35" ry="0.60" fill="#969696" stroke="none" stroke-width="0.96" transform="rotate(15.0 330.1 141.0)"/>
<ellipse cx="333.5" cy="141.9" rx="1.35" ry="0.60" fill="#969696" stroke="none" stroke-width="0.96" transform="rotate(15.0 333.5 141.9)"/>
<ellipse cx="336.8" cy="142.8" rx="1.35" ry="0.60" fill="#969696" stroke="none" stroke-width="0.96" transform="rotate(15.0 336.8 142.8)"/>
<ellipse cx="340.1" cy="143.7" rx="1.35" ry="0.60" fill="#969696" stroke="none" stroke-width="0.96" transform="rotate(15.0 340.1 143.7)"/>
<ellipse cx="329.8" cy="143.5" rx="1.35" ry="0.60" fill="#969696" stroke="none" stroke-width="0.96" transform="rotate(15.0 329.8 143.5)"/>
<ellipse cx="333.1" cy="144.4" rx="1.35" ry="0.60" fill="#969696" stroke="none" stroke-width="0.96" transform="rotate(15.0 333.1 144.4)"/>
<ellipse cx="336.4" cy="145.3" rx="1.35" ry="0.60" fill="#969696" stroke="none" stroke-width="0.96" transform="rotate(15.0 336.4 145.3)"/>
<ellipse cx="326.1" cy="145.1" rx="1.35" ry="0.60" fill="#969696" stroke="none" stroke-width="0.96" transform="rotate(15.0 326.1 145.1)"/>
<ellipse cx="329.4" cy="146.0" rx="1.35" ry="0.60" fill="#969696" stroke="none" stroke-width="0.96" transform="rotate(15.0 329.4 146.0)"/>
<ellipse cx="332.7" cy="146.9" rx="1.35" ry="0.60" fill="#969696" stroke="none" stroke-width="0.96" transform="rotate(15.0 332.7 146.9)"/>
<ellipse cx="336.0" cy="147.8" rx="1.35" ry="0.60" fill="#969696" stroke="none" stroke-width="0.96" transform="rotate(15.0 336.0 147.8)"/>
<ellipse cx="325.7" cy="147.6" rx="1.35" ry="0.60" fill="#969696" stroke="none" stroke-width="0.96" transform="rotate(15.0 325.7 147.6)"/>
<ellipse cx="329.0" cy="148.5" rx="1.35" ry="0.60" fill="#969696" stroke="none" stroke-width="0.96" transform="rotate(15.0 329.0 148.5)"/>
<ellipse cx="332.3" cy="149.4" rx="1.35" ry="0.60" fill="#969696" stroke="none" stroke-width="0.96" transform="rotate(15.0 332.3 149.4)"/>
<ellipse cx="322.0" cy="149.2" rx="1.35" ry="0.60" fill="#969696" stroke="none" stroke-width="0.96" transform="rotate(15.0 322.0 149.2)"/>
<ellipse cx="325.3" cy="150.1" rx="1.35" ry="0.60" fill="#969696" stroke="none" stroke-width="0.96" transform="rotate(15.0 325.3 150.1)"/>
<ellipse cx="328.6" cy="151.0" rx="1.35" ry="0.60" fill="#969696" stroke="none" stroke-width="0.96" transform="rotate(15.0 328.6 151.0)"/>
<ellipse cx="332.0" cy="151.9" rx="1.35" ry="0.60" fill="#969696" stroke="none" stroke-width="0.96" transform="rotate(15.0 332.0 151.9)"/>
<ellipse cx="321.6" cy="151.7" rx="1.35" ry="0.60" fill="#969696" stroke="none" stroke-width="0.96" transform="rotate(15.0 321.6 151.7)"/>
<ellipse cx="324.9" cy="152.6" rx="1.35" ry="0.60" fill="#969696" stroke="none" stroke-width="0.96" transform="rotate(15.0 324.9 152.6)"/>
<ellipse cx="328.3" cy="153.5" rx="1.35" ry="0.60" fill="#969696" stroke="none" stroke-width="0.96" transform="rotate(15.0 328.3 153.5)"/>
<ellipse cx="317.9" cy="153.3" rx="1.35" ry="0.60" fill="#969696" stroke="none" stroke-width="0.96" transform="rotate(15.0 317.9 153.3)"/>
<ellipse cx="321.2" cy="154.2" rx="1.35" ry="0.60" fill="#969696" stroke="none" stroke-width="0.96" transform="rotate(15.0 321.2 154.2)"/>
<ellipse cx="324.6" cy="155.1" rx="1.35" ry="0.60" fill="#969696" stroke="none" stroke-width="0.96" transform="rotate(15.0 324.6 155.1)"/>
<ellipse cx="327.9" cy="156.0" rx="1.35" ry="0.60" fill="#969696" stroke="none" stroke-width="0.96" transform="rotate(15.0 327.9 156.0)"/>
<ellipse cx="317.5" cy="155.8" rx="1.35" ry="0.60" fill="#969696" stroke="none" stroke-width="0.96" transform="rotate(15.0 317.5 155.8)"/>
<ellipse cx="320.8" cy="156.7" rx="1.35" ry="0.60" fill="#969696" stroke="none" stroke-width="0.96" transform="rotate(15.0 320.8 156.7)"/>
<ellipse cx="324.2" cy="157.6" rx="1.35" ry="0.60" fill="#969696" stroke="none" stroke-width="0.96" transform="rotate(15.0 324.2 157.6)"/>
<ellipse cx="313.8" cy="157.4" rx="1.35" ry="0.60" fill="#969696" stroke="none" stroke-width="0.96" transform="rotate(15.0 313.8 157.4)"/>
<ellipse cx="317.1" cy="158.3" rx="1.35" ry="0.60" fill="#969696" stroke="none" stroke-width="0.96" transform="rotate(15.0 317.1 158.3)"/>
<ellipse cx="320.5" cy="159.2" rx="1.35" ry="0.60" fill="#969696" stroke="none" stroke-width="0.96" transform="rotate(15.0 320.5 159.2)"/>
<ellipse cx="323.8" cy="160.2" rx="1.35" ry="0.60" fill="#969696" stroke="none" stroke-width="0.96" transform="rotate(15.0 323.8 160.2)"/>
<ellipse cx="313.4" cy="160.0" rx="1.35" ry="0.60" fill="#969696" stroke="none" stroke-width="0.96" transform="rotate(15.0 313.4 160.0)"/>
<ellipse cx="316.8" cy="160.9" rx="1.35" ry="0.60" fill="#969696" stroke="none" stroke-width="0.96" transform="rotate(15.0 316.8 160.9)"/>
<ellipse cx="320.1" cy="161.8" rx="1.35" ry="0.60" fill="#969696" stroke="none" stroke-width="0.96" transform="rotate(15.0 320.1 161.8)"/>
<ellipse cx="309.7" cy="161.6" rx="1.35" ry="0.60" fill="#969696" stroke="none" stroke-width="0.96" transform="rotate(15.0 309.7 161.6)"/>
<ellipse cx="313.1" cy="162.5" rx="1.35" ry="0.60" fill="#969696" stroke="none" stroke-width="0.96" transform="rotate(15.0 313.1 162.5)"/>
<ellipse cx="316.4" cy="163.4" rx="1.35" ry="0.60" fill="#969696" stroke="none" stroke-width="0.96" transform="rotate(15.0 316.4 163.4)"/>
<ellipse cx="319.7" cy="164.3" rx="1.35" ry="0.60" fill="#969696" stroke="none" stroke-width="0.96" transform="rotate(15.0 319.7 164.3)"/>
<ellipse cx="309.4" cy="164.1" rx="1.35" ry="0.60" fill="#969696" stroke="none" stroke-width="0.96" transform="rotate(15.0 309.4 164.1)"/>
<ellipse cx="312.7" cy="165.0" rx="1.35" ry="0.60" fill="#969696" stroke="none" stroke-width="0.96" transform="rotate(15.0 312.7 165.0)"/>
<ellipse cx="316.0" cy="165.9" rx="1.35" ry="0.60" fill="#969696" stroke="none" stroke-width="0.96" transform="rotate(15.0 316.0 165.9)"/>
<ellipse cx="305.7" cy="165.7" rx="1.35" ry="0.60" fill="#969696" stroke="none" stroke-width="0.96" transform="rotate(15.0 305.7 165.7)"/>
<ellipse cx="309.0" cy="166.6" rx="1.35" ry="0.60" fill="#969696" stroke="none" stroke-width="0.96" transform="rotate(15.0 309.0 166.6)"/>
<ellipse cx="312.3" cy="167.5" rx="1.35" ry="0.60" fill="#969696" stroke="none" stroke-width="0.96" transform="rotate(15.0 312.3 167.5)"/>
<ellipse cx="315.6" cy="168.4" rx="1.35" ry="0.60" fill="#969696" stroke="none" stroke-width="0.96" transform="rotate(15.0 315.6 168.4)"/>
<ellipse cx="305.3" cy="168.2" rx="1.35" ry="0.60" fill="#969696" stroke="none" stroke-width="0.96" transform="rotate(15.0 305.3 168.2)"/>
<ellipse cx="308.6" cy="169.1" rx="1.35" ry="0.60" fill="#969696" stroke="none" stroke-width="0.96" transform="rotate(15.0 308.6 169.1)"/>
<ellipse cx="311.9" cy="170.0" rx="1.35" ry="0.60" fill="#969696" stroke="none" stroke-width="0.96" transform="rotate(15.0 311.9 170.0)"/>
<ellipse cx="301.6" cy="169.8" rx="1.35" ry="0.60" fill="#969696" stroke="none" stroke-width="0.96" transform="rotate(15.0 301.6 169.8)"/>
<ellipse cx="304.9" cy="170.7" rx="1.35" ry="0.60" fill="#969696" stroke="none" stroke-width="0.96" transform="rotate(15.0 304.9 170.7)"/>
<ellipse cx="308.2" cy="171.6" rx="1.35" ry="0.60" fill="#969696" stroke="none" stroke-width="0.96" transform="rotate(15.0 308.2 171.6)"/>
<ellipse cx="311.6" cy="172.5" rx="1.35" ry="0.60" fill="#969696" stroke="none" stroke-width="0.96" transform="rotate(15.0 311.6 172.5)"/>
<path d="M345.1 143.7 L358.4 147.3 L327.8 178.2 L314.5 174.6 Z" fill="#2e2e2e" stroke="#2e2e2e" stroke-width="0.48" />
<ellipse cx="345.7" cy="145.2" rx="1.35" ry="0.60" fill="#969696" stroke="none" stroke-width="0.96" transform="rotate(15.0 345.7 145.2)"/>
<ellipse cx="349.1" cy="146.1" rx="1.35" ry="0.60" fill="#969696" stroke="none" stroke-width="0.96" transform="rotate(15.0 349.1 146.1)"/>
<ellipse cx="352.4" cy="147.0" rx="1.35" ry="0.60" fill="#969696" stroke="none" stroke-width="0.96" transform="rotate(15.0 352.4 147.0)"/>
<ellipse cx="355.7" cy="147.9" rx="1.35" ry="0.60" fill="#969696" stroke="none" stroke-width="0.96" transform="rotate(15.0 355.7 147.9)"/>
<ellipse cx="345.4" cy="147.7" rx="1.35" ry="0.60" fill="#969696" stroke="none" stroke-width="0.96" transform="rotate(15.0 345.4 147.7)"/>
<ellipse cx="348.7" cy="148.6" rx="1.35" ry="0.60" fill="#969696" stroke="none" stroke-width="0.96" transform="rotate(15.0 348.7 148.6)"/>
<ellipse cx="352.0" cy="149.5" rx="1.35" ry="0.60" fill="#969696" stroke="none" stroke-width="0.96" transform="rotate(15.0 352.0 149.5)"/>
<ellipse cx="341.7" cy="149.3" rx="1.35" ry="0.60" fill="#969696" stroke="none" stroke-width="0.96" transform="rotate(15.0 341.7 149.3)"/>
<ellipse cx="345.0" cy="150.2" rx="1.35" ry="0.60" fill="#969696" stroke="none" stroke-width="0.96" transform="rotate(15.0 345.0 150.2)"/>
<ellipse cx="348.3" cy="151.1" rx="1.35" ry="0.60" fill="#969696" stroke="none" stroke-width="0.96" transform="rotate(15.0 348.3 151.1)"/>
<ellipse cx="351.6" cy="152.0" rx="1.35" ry="0.60" fill="#969696" stroke="none" stroke-width="0.96" transform="rotate(15.0 351.6 152.0)"/>
<ellipse cx="341.3" cy="151.8" rx="1.35" ry="0.60" fill="#969696" stroke="none" stroke-width="0.96" transform="rotate(15.0 341.3 151.8)"/>
<ellipse cx="344.6" cy="152.7" rx="1.35" ry="0.60" fill="#969696" stroke="none" stroke-width="0.96" transform="rotate(15.0 344.6 152.7)"/>
<ellipse cx="347.9" cy="153.6" rx="1.35" ry="0.60" fill="#969696" stroke="none" stroke-width="0.96" transform="rotate(15.0 347.9 153.6)"/>
<ellipse cx="337.6" cy="153.4" rx="1.35" ry="0.60" fill="#969696" stroke="none" stroke-width="0.96" transform="rotate(15.0 337.6 153.4)"/>
<ellipse cx="340.9" cy="154.3" rx="1.35" ry="0.60" fill="#969696" stroke="none" stroke-width="0.96" transform="rotate(15.0 340.9 154.3)"/>
<ellipse cx="344.2" cy="155.2" rx="1.35" ry="0.60" fill="#969696" stroke="none" stroke-width="0.96" transform="rotate(15.0 344.2 155.2)"/>
<ellipse cx="347.6" cy="156.1" rx="1.35" ry="0.60" fill="#969696" stroke="none" stroke-width="0.96" transform="rotate(15.0 347.6 156.1)"/>
<ellipse cx="337.2" cy="155.9" rx="1.35" ry="0.60" fill="#969696" stroke="none" stroke-width="0.96" transform="rotate(15.0 337.2 155.9)"/>
<ellipse cx="340.5" cy="156.9" rx="1.35" ry="0.60" fill="#969696" stroke="none" stroke-width="0.96" transform="rotate(15.0 340.5 156.9)"/>
<ellipse cx="343.9" cy="157.8" rx="1.35" ry="0.60" fill="#969696" stroke="none" stroke-width="0.96" transform="rotate(15.0 343.9 157.8)"/>
<ellipse cx="333.5" cy="157.6" rx="1.35" ry="0.60" fill="#969696" stroke="none" stroke-width="0.96" transform="rotate(15.0 333.5 157.6)"/>
<ellipse cx="336.8" cy="158.5" rx="1.35" ry="0.60" fill="#969696" stroke="none" stroke-width="0.96" transform="rotate(15.0 336.8 158.5)"/>
<ellipse cx="340.2" cy="159.4" rx="1.35" ry="0.60" fill="#969696" stroke="none" stroke-width="0.96" transform="rotate(15.0 340.2 159.4)"/>
<ellipse cx="343.5" cy="160.3" rx="1.35" ry="0.60" fill="#969696" stroke="none" stroke-width="0.96" transform="rotate(15.0 343.5 160.3)"/>
<ellipse cx="333.1" cy="160.1" rx="1.35" ry="0.60" fill="#969696" stroke="none" stroke-width="0.96" transform="rotate(15.0 333.1 160.1)"/>
<ellipse cx="336.4" cy="161.0" rx="1.35" ry="0.60" fill="#969696" stroke="none" stroke-width="0.96" transform="rotate(15.0 336.4 161.0)"/>
<ellipse cx="339.8" cy="161.9" rx="1.35" ry="0.60" fill="#969696" stroke="none" stroke-width="0.96" transform="rotate(15.0 339.8 161.9)"/>
<ellipse cx="329.4" cy="161.7" rx="1.35" ry="0.60" fill="#969696" stroke="none" stroke-width="0.96" transform="rotate(15.0 329.4 161.7)"/>
<ellipse cx="332.7" cy="162.6" rx="1.35" ry="0.60" fill="#969696" stroke="none" stroke-width="0.96" transform="rotate(15.0 332.7 162.6)"/>
<ellipse cx="336.1" cy="163.5" rx="1.35" ry="0.60" fill="#969696" stroke="none" stroke-width="0.96" transform="rotate(15.0 336.1 163.5)"/>
<ellipse cx="339.4" cy="164.4" rx="1.35" ry="0.60" fill="#969696" stroke="none" stroke-width="0.96" transform="rotate(15.0 339.4 164.4)"/>
<ellipse cx="329.0" cy="164.2" rx="1.35" ry="0.60" fill="#969696" stroke="none" stroke-width="0.96" transform="rotate(15.0 329.0 164.2)"/>
<ellipse cx="332.4" cy="165.1" rx="1.35" ry="0.60" fill="#969696" stroke="none" stroke-width="0.96" transform="rotate(15.0 332.4 165.1)"/>
<ellipse cx="335.7" cy="166.0" rx="1.35" ry="0.60" fill="#969696" stroke="none" stroke-width="0.96" transform="rotate(15.0 335.7 166.0)"/>
<ellipse cx="325.3" cy="165.8" rx="1.35" ry="0.60" fill="#969696" stroke="none" stroke-width="0.96" transform="rotate(15.0 325.3 165.8)"/>
<ellipse cx="328.7" cy="166.7" rx="1.35" ry="0.60" fill="#969696" stroke="none" stroke-width="0.96" transform="rotate(15.0 328.7 166.7)"/>
<ellipse cx="332.0" cy="167.6" rx="1.35" ry="0.60" fill="#969696" stroke="none" stroke-width="0.96" transform="rotate(15.0 332.0 167.6)"/>
<ellipse cx="335.3" cy="168.5" rx="1.35" ry="0.60" fill="#969696" stroke="none" stroke-width="0.96" transform="rotate(15.0 335.3 168.5)"/>
<ellipse cx="325.0" cy="168.3" rx="1.35" ry="0.60" fill="#969696" stroke="none" stroke-width="0.96" transform="rotate(15.0 325.0 168.3)"/>
<ellipse cx="328.3" cy="169.2" rx="1.35" ry="0.60" fill="#969696" stroke="none" stroke-width="0.96" transform="rotate(15.0 328.3 169.2)"/>
<ellipse cx="331.6" cy="170.1" rx="1.35" ry="0.60" fill="#969696" stroke="none" stroke-width="0.96" transform="rotate(15.0 331.6 170.1)"/>
<ellipse cx="321.3" cy="169.9" rx="1.35" ry="0.60" fill="#969696" stroke="none" stroke-width="0.96" transform="rotate(15.0 321.3 169.9)"/>
<ellipse cx="324.6" cy="170.8" rx="1.35" ry="0.60" fill="#969696" stroke="none" stroke-width="0.96" transform="rotate(15.0 324.6 170.8)"/>
<ellipse cx="327.9" cy="171.7" rx="1.35" ry="0.60" fill="#969696" stroke="none" stroke-width="0.96" transform="rotate(15.0 327.9 171.7)"/>
<ellipse cx="331.2" cy="172.6" rx="1.35" ry="0.60" fill="#969696" stroke="none" stroke-width="0.96" transform="rotate(15.0 331.2 172.6)"/>
<ellipse cx="320.9" cy="172.4" rx="1.35" ry="0.60" fill="#969696" stroke="none" stroke-width="0.96" transform="rotate(15.0 320.9 172.4)"/>
<ellipse cx="324.2" cy="173.3" rx="1.35" ry="0.60" fill="#969696" stroke="none" stroke-width="0.96" transform="rotate(15.0 324.2 173.3)"/>
<ellipse cx="327.5" cy="174.2" rx="1.35" ry="0.60" fill="#969696" stroke="none" stroke-width="0.96" transform="rotate(15.0 327.5 174.2)"/>
<ellipse cx="317.2" cy="174.0" rx="1.35" ry="0.60" fill="#969696" stroke="none" stroke-width="0.96" transform="rotate(15.0 317.2 174.0)"/>
<ellipse cx="320.5" cy="174.9" rx="1.35" ry="0.60" fill="#969696" stroke="none" stroke-width="0.96" transform="rotate(15.0 320.5 174.9)"/>
<ellipse cx="323.8" cy="175.8" rx="1.35" ry="0.60" fill="#969696" stroke="none" stroke-width="0.96" transform="rotate(15.0 323.8 175.8)"/>
<ellipse cx="327.2" cy="176.7" rx="1.35" ry="0.60" fill="#969696" stroke="none" stroke-width="0.96" transform="rotate(15.0 327.2 176.7)"/>
<path d="M360.7 147.9 L374.0 151.5 L343.4 182.4 L330.1 178.8 Z" fill="#2e2e2e" stroke="#2e2e2e" stroke-width="0.48" />
<ellipse cx="361.3" cy="149.4" rx="1.35" ry="0.60" fill="#969696" stroke="none" stroke-width="0.96" transform="rotate(15.0 361.3 149.4)"/>
<ellipse cx="364.7" cy="150.3" rx="1.35" ry="0.60" fill="#969696" stroke="none" stroke-width="0.96" transform="rotate(15.0 364.7 150.3)"/>
<ellipse cx="368.0" cy="151.2" rx="1.35" ry="0.60" fill="#969696" stroke="none" stroke-width="0.96" transform="rotate(15.0 368.0 151.2)"/>
<ellipse cx="371.3" cy="152.1" rx="1.35" ry="0.60" fill="#969696" stroke="none" stroke-width="0.96" transform="rotate(15.0 371.3 152.1)"/>
<ellipse cx="361.0" cy="151.9" rx="1.35" ry="0.60" fill="#969696" stroke="none" stroke-width="0.96" transform="rotate(15.0 361.0 151.9)"/>
<ellipse cx="364.3" cy="152.8" rx="1.35" ry="0.60" fill="#969696" stroke="none" stroke-width="0.96" transform="rotate(15.0 364.3 152.8)"/>
<ellipse cx="367.6" cy="153.7" rx="1.35" ry="0.60" fill="#969696" stroke="none" stroke-width="0.96" transform="rotate(15.0 367.6 153.7)"/>
<ellipse cx="357.3" cy="153.5" rx="1.35" ry="0.60" fill="#969696" stroke="none" stroke-width="0.96" transform="rotate(15.0 357.3 153.5)"/>
<ellipse cx="360.6" cy="154.4" rx="1.35" ry="0.60" fill="#969696" stroke="none" stroke-width="0.96" transform="rotate(15.0 360.6 154.4)"/>
<ellipse cx="363.9" cy="155.3" rx="1.35" ry="0.60" fill="#969696" stroke="none" stroke-width="0.96" transform="rotate(15.0 363.9 155.3)"/>
<ellipse cx="367.2" cy="156.2" rx="1.35" ry="0.60" fill="#969696" stroke="none" stroke-width="0.96" transform="rotate(15.0 367.2 156.2)"/>
<ellipse cx="356.9" cy="156.1" rx="1.35" ry="0.60" fill="#969696" stroke="none" stroke-width="0.96" transform="rotate(15.0 356.9 156.1)"/>
<ellipse cx="360.2" cy="157.0" rx="1.35" ry="0.60" fill="#969696" stroke="none" stroke-width="0.96" transform="rotate(15.0 360.2 157.0)"/>
<ellipse cx="363.5" cy="157.9" rx="1.35" ry="0.60" fill="#969696" stroke="none" stroke-width="0.96" transform="rotate(15.0 363.5 157.9)"/>
<ellipse cx="353.2" cy="157.7" rx="1.35" ry="0.60" fill="#969696" stroke="none" stroke-width="0.96" transform="rotate(15.0 353.2 157.7)"/>
<ellipse cx="356.5" cy="158.6" rx="1.35" ry="0.60" fill="#969696" stroke="none" stroke-width="0.96" transform="rotate(15.0 356.5 158.6)"/>
<ellipse cx="359.8" cy="159.5" rx="1.35" ry="0.60" fill="#969696" stroke="none" stroke-width="0.96" transform="rotate(15.0 359.8 159.5)"/>
<ellipse cx="363.2" cy="160.4" rx="1.35" ry="0.60" fill="#969696" stroke="none" stroke-width="0.96" transform="rotate(15.0 363.2 160.4)"/>
<ellipse cx="352.8" cy="160.2" rx="1.35" ry="0.60" fill="#969696" stroke="none" stroke-width="0.96" transform="rotate(15.0 352.8 160.2)"/>
<ellipse cx="356.1" cy="161.1" rx="1.35" ry="0.60" fill="#969696" stroke="none" stroke-width="0.96" transform="rotate(15.0 356.1 161.1)"/>
<ellipse cx="359.5" cy="162.0" rx="1.35" ry="0.60" fill="#969696" stroke="none" stroke-width="0.96" transform="rotate(15.0 359.5 162.0)"/>
<ellipse cx="349.1" cy="161.8" rx="1.35" ry="0.60" fill="#969696" stroke="none" stroke-width="0.96" transform="rotate(15.0 349.1 161.8)"/>
<ellipse cx="352.4" cy="162.7" rx="1.35" ry="0.60" fill="#969696" stroke="none" stroke-width="0.96" transform="rotate(15.0 352.4 162.7)"/>
<ellipse cx="355.8" cy="163.6" rx="1.35" ry="0.60" fill="#969696" stroke="none" stroke-width="0.96" transform="rotate(15.0 355.8 163.6)"/>
<ellipse cx="359.1" cy="164.5" rx="1.35" ry="0.60" fill="#969696" stroke="none" stroke-width="0.96" transform="rotate(15.0 359.1 164.5)"/>
<ellipse cx="348.7" cy="164.3" rx="1.35" ry="0.60" fill="#969696" stroke="none" stroke-width="0.96" transform="rotate(15.0 348.7 164.3)"/>
<ellipse cx="352.0" cy="165.2" rx="1.35" ry="0.60" fill="#969696" stroke="none" stroke-width="0.96" transform="rotate(15.0 352.0 165.2)"/>
<ellipse cx="355.4" cy="166.1" rx="1.35" ry="0.60" fill="#969696" stroke="none" stroke-width="0.96" transform="rotate(15.0 355.4 166.1)"/>
<ellipse cx="345.0" cy="165.9" rx="1.35" ry="0.60" fill="#969696" stroke="none" stroke-width="0.96" transform="rotate(15.0 345.0 165.9)"/>
<ellipse cx="348.3" cy="166.8" rx="1.35" ry="0.60" fill="#969696" stroke="none" stroke-width="0.96" transform="rotate(15.0 348.3 166.8)"/>
<ellipse cx="351.7" cy="167.7" rx="1.35" ry="0.60" fill="#969696" stroke="none" stroke-width="0.96" transform="rotate(15.0 351.7 167.7)"/>
<ellipse cx="355.0" cy="168.6" rx="1.35" ry="0.60" fill="#969696" stroke="none" stroke-width="0.96" transform="rotate(15.0 355.0 168.6)"/>
<ellipse cx="344.6" cy="168.4" rx="1.35" ry="0.60" fill="#969696" stroke="none" stroke-width="0.96" transform="rotate(15.0 344.6 168.4)"/>
<ellipse cx="348.0" cy="169.3" rx="1.35" ry="0.60" fill="#969696" stroke="none" stroke-width="0.96" transform="rotate(15.0 348.0 169.3)"/>
<ellipse cx="351.3" cy="170.2" rx="1.35" ry="0.60" fill="#969696" stroke="none" stroke-width="0.96" transform="rotate(15.0 351.3 170.2)"/>
<ellipse cx="340.9" cy="170.0" rx="1.35" ry="0.60" fill="#969696" stroke="none" stroke-width="0.96" transform="rotate(15.0 340.9 170.0)"/>
<ellipse cx="344.3" cy="170.9" rx="1.35" ry="0.60" fill="#969696" stroke="none" stroke-width="0.96" transform="rotate(15.0 344.3 170.9)"/>
<ellipse cx="347.6" cy="171.8" rx="1.35" ry="0.60" fill="#969696" stroke="none" stroke-width="0.96" transform="rotate(15.0 347.6 171.8)"/>
<ellipse cx="350.9" cy="172.7" rx="1.35" ry="0.60" fill="#969696" stroke="none" stroke-width="0.96" transform="rotate(15.0 350.9 172.7)"/>
<ellipse cx="340.6" cy="172.5" rx="1.35" ry="0.60" fill="#969696" stroke="none" stroke-width="0.96" transform="rotate(15.0 340.6 172.5)"/>
<ellipse cx="343.9" cy="173.4" rx="1.35" ry="0.60" fill="#969696" stroke="none" stroke-width="0.96" transform="rotate(15.0 343.9 173.4)"/>
<ellipse cx="347.2" cy="174.3" rx="1.35" ry="0.60" fill="#969696" stroke="none" stroke-width="0.96" transform="rotate(15.0 347.2 174.3)"/>
<ellipse cx="336.9" cy="174.1" rx="1.35" ry="0.60" fill="#969696" stroke="none" stroke-width="0.96" transform="rotate(15.0 336.9 174.1)"/>
<ellipse cx="340.2" cy="175.0" rx="1.35" ry="0.60" fill="#969696" stroke="none" stroke-width="0.96" transform="rotate(15.0 340.2 175.0)"/>
<ellipse cx="343.5" cy="175.9" rx="1.35" ry="0.60" fill="#969696" stroke="none" stroke-width="0.96" transform="rotate(15.0 343.5 175.9)"/>
<ellipse cx="346.8" cy="176.8" rx="1.35" ry="0.60" fill="#969696" stroke="none" stroke-width="0.96" transform="rotate(15.0 346.8 176.8)"/>
<ellipse cx="336.5" cy="176.7" rx="1.35" ry="0.60" fill="#969696" stroke="none" stroke-width="0.96" transform="rotate(15.0 336.5 176.7)"/>
<ellipse cx="339.8" cy="177.6" rx="1.35" ry="0.60" fill="#969696" stroke="none" stroke-width="0.96" transform="rotate(15.0 339.8 177.6)"/>
<ellipse cx="343.1" cy="178.5" rx="1.35" ry="0.60" fill="#969696" stroke="none" stroke-width="0.96" transform="rotate(15.0 343.1 178.5)"/>
<ellipse cx="332.8" cy="178.3" rx="1.35" ry="0.60" fill="#969696" stroke="none" stroke-width="0.96" transform="rotate(15.0 332.8 178.3)"/>
<ellipse cx="336.1" cy="179.2" rx="1.35" ry="0.60" fill="#969696" stroke="none" stroke-width="0.96" transform="rotate(15.0 336.1 179.2)"/>
<ellipse cx="339.4" cy="180.1" rx="1.35" ry="0.60" fill="#969696" stroke="none" stroke-width="0.96" transform="rotate(15.0 339.4 180.1)"/>
<ellipse cx="342.8" cy="181.0" rx="1.35" ry="0.60" fill="#969696" stroke="none" stroke-width="0.96" transform="rotate(15.0 342.8 181.0)"/>
<path d="M376.3 152.2 L389.6 155.8 L359.0 186.7 L345.7 183.1 Z" fill="#2e2e2e" stroke="#2e2e2e" stroke-width="0.48" />
<ellipse cx="376.9" cy="153.7" rx="1.35" ry="0.60" fill="#969696" stroke="none" stroke-width="0.96" transform="rotate(15.0 376.9 153.7)"/>
<ellipse cx="380.3" cy="154.6" rx="1.35" ry="0.60" fill="#969696" stroke="none" stroke-width="0.96" transform="rotate(15.0 380.3 154.6)"/>
<ellipse cx="383.6" cy="155.5" rx="1.35" ry="0.60" fill="#969696" stroke="none" stroke-width="0.96" transform="rotate(15.0 383.6 155.5)"/>
<ellipse cx="386.9" cy="156.4" rx="1.35" ry="0.60" fill="#969696" stroke="none" stroke-width="0.96" transform="rotate(15.0 386.9 156.4)"/>
<ellipse cx="376.6" cy="156.2" rx="1.35" ry="0.60" fill="#969696" stroke="none" stroke-width="0.96" transform="rotate(15.0 376.6 156.2)"/>
<ellipse cx="379.9" cy="157.1" rx="1.35" ry="0.60" fill="#969696" stroke="none" stroke-width="0.96" transform="rotate(15.0 379.9 157.1)"/>
<ellipse cx="383.2" cy="158.0" rx="1.35" ry="0.60" fill="#969696" stroke="none" stroke-width="0.96" transform="rotate(15.0 383.2 158.0)"/>
<ellipse cx="372.9" cy="157.8" rx="1.35" ry="0.60" fill="#969696" stroke="none" stroke-width="0.96" transform="rotate(15.0 372.9 157.8)"/>
<ellipse cx="376.2" cy="158.7" rx="1.35" ry="0.60" fill="#969696" stroke="none" stroke-width="0.96" transform="rotate(15.0 376.2 158.7)"/>
<ellipse cx="379.5" cy="159.6" rx="1.35" ry="0.60" fill="#969696" stroke="none" stroke-width="0.96" transform="rotate(15.0 379.5 159.6)"/>
<ellipse cx="382.8" cy="160.5" rx="1.35" ry="0.60" fill="#969696" stroke="none" stroke-width="0.96" transform="rotate(15.0 382.8 160.5)"/>
<ellipse cx="372.5" cy="160.3" rx="1.35" ry="0.60" fill="#969696" stroke="none" stroke-width="0.96" transform="rotate(15.0 372.5 160.3)"/>
<ellipse cx="375.8" cy="161.2" rx="1.35" ry="0.60" fill="#969696" stroke="none" stroke-width="0.96" transform="rotate(15.0 375.8 161.2)"/>
<ellipse cx="379.1" cy="162.1" rx="1.35" ry="0.60" fill="#969696" stroke="none" stroke-width="0.96" transform="rotate(15.0 379.1 162.1)"/>
<ellipse cx="368.8" cy="161.9" rx="1.35" ry="0.60" fill="#969696" stroke="none" stroke-width="0.96" transform="rotate(15.0 368.8 161.9)"/>
<ellipse cx="372.1" cy="162.8" rx="1.35" ry="0.60" fill="#969696" stroke="none" stroke-width="0.96" transform="rotate(15.0 372.1 162.8)"/>
<ellipse cx="375.4" cy="163.7" rx="1.35" ry="0.60" fill="#969696" stroke="none" stroke-width="0.96" transform="rotate(15.0 375.4 163.7)"/>
<ellipse cx="378.8" cy="164.6" rx="1.35" ry="0.60" fill="#969696" stroke="none" stroke-width="0.96" transform="rotate(15.0 378.8 164.6)"/>
<ellipse cx="368.4" cy="164.4" rx="1.35" ry="0.60" fill="#969696" stroke="none" stroke-width="0.96" transform="rotate(15.0 368.4 164.4)"/>
<ellipse cx="371.7" cy="165.3" rx="1.35" ry="0.60" fill="#969696" stroke="none" stroke-width="0.96" transform="rotate(15.0 371.7 165.3)"/>
<ellipse cx="375.1" cy="166.2" rx="1.35" ry="0.60" fill="#969696" stroke="none" stroke-width="0.96" transform="rotate(15.0 375.1 166.2)"/>
<ellipse cx="364.7" cy="166.0" rx="1.35" ry="0.60" fill="#969696" stroke="none" stroke-width="0.96" transform="rotate(15.0 364.7 166.0)"/>
<ellipse cx="368.0" cy="166.9" rx="1.35" ry="0.60" fill="#969696" stroke="none" stroke-width="0.96" transform="rotate(15.0 368.0 166.9)"/>
<ellipse cx="371.4" cy="167.8" rx="1.35" ry="0.60" fill="#969696" stroke="none" stroke-width="0.96" transform="rotate(15.0 371.4 167.8)"/>
<ellipse cx="374.7" cy="168.7" rx="1.35" ry="0.60" fill="#969696" stroke="none" stroke-width="0.96" transform="rotate(15.0 374.7 168.7)"/>
<ellipse cx="364.3" cy="168.5" rx="1.35" ry="0.60" fill="#969696" stroke="none" stroke-width="0.96" transform="rotate(15.0 364.3 168.5)"/>
<ellipse cx="367.6" cy="169.4" rx="1.35" ry="0.60" fill="#969696" stroke="none" stroke-width="0.96" transform="rotate(15.0 367.6 169.4)"/>
<ellipse cx="371.0" cy="170.3" rx="1.35" ry="0.60" fill="#969696" stroke="none" stroke-width="0.96" transform="rotate(15.0 371.0 170.3)"/>
<ellipse cx="360.6" cy="170.1" rx="1.35" ry="0.60" fill="#969696" stroke="none" stroke-width="0.96" transform="rotate(15.0 360.6 170.1)"/>
<ellipse cx="363.9" cy="171.0" rx="1.35" ry="0.60" fill="#969696" stroke="none" stroke-width="0.96" transform="rotate(15.0 363.9 171.0)"/>
<ellipse cx="367.3" cy="171.9" rx="1.35" ry="0.60" fill="#969696" stroke="none" stroke-width="0.96" transform="rotate(15.0 367.3 171.9)"/>
<ellipse cx="370.6" cy="172.8" rx="1.35" ry="0.60" fill="#969696" stroke="none" stroke-width="0.96" transform="rotate(15.0 370.6 172.8)"/>
<ellipse cx="360.2" cy="172.7" rx="1.35" ry="0.60" fill="#969696" stroke="none" stroke-width="0.96" transform="rotate(15.0 360.2 172.7)"/>
<ellipse cx="363.6" cy="173.6" rx="1.35" ry="0.60" fill="#969696" stroke="none" stroke-width="0.96" transform="rotate(15.0 363.6 173.6)"/>
<ellipse cx="366.9" cy="174.4" rx="1.35" ry="0.60" fill="#969696" stroke="none" stroke-width="0.96" transform="rotate(15.0 366.9 174.4)"/>
<ellipse cx="356.5" cy="174.3" rx="1.35" ry="0.60" fill="#969696" stroke="none" stroke-width="0.96" transform="rotate(15.0 356.5 174.3)"/>
<ellipse cx="359.9" cy="175.2" rx="1.35" ry="0.60" fill="#969696" stroke="none" stroke-width="0.96" transform="rotate(15.0 359.9 175.2)"/>
<ellipse cx="363.2" cy="176.1" rx="1.35" ry="0.60" fill="#969696" stroke="none" stroke-width="0.96" transform="rotate(15.0 363.2 176.1)"/>
<ellipse cx="366.5" cy="177.0" rx="1.35" ry="0.60" fill="#969696" stroke="none" stroke-width="0.96" transform="rotate(15.0 366.5 177.0)"/>
<ellipse cx="356.2" cy="176.8" rx="1.35" ry="0.60" fill="#969696" stroke="none" stroke-width="0.96" transform="rotate(15.0 356.2 176.8)"/>
<ellipse cx="359.5" cy="177.7" rx="1.35" ry="0.60" fill="#969696" stroke="none" stroke-width="0.96" transform="rotate(15.0 359.5 177.7)"/>
<ellipse cx="362.8" cy="178.6" rx="1.35" ry="0.60" fill="#969696" stroke="none" stroke-width="0.96" transform="rotate(15.0 362.8 178.6)"/>
<ellipse cx="352.5" cy="178.4" rx="1.35" ry="0.60" fill="#969696" stroke="none" stroke-width="0.96" transform="rotate(15.0 352.5 178.4)"/>
<ellipse cx="355.8" cy="179.3" rx="1.35" ry="0.60" fill="#969696" stroke="none" stroke-width="0.96" transform="rotate(15.0 355.8 179.3)"/>
<ellipse cx="359.1" cy="180.2" rx="1.35" ry="0.60" fill="#969696" stroke="none" stroke-width="0.96" transform="rotate(15.0 359.1 180.2)"/>
<ellipse cx="362.4" cy="181.1" rx="1.35" ry="0.60" fill="#969696" stroke="none" stroke-width="0.96" transform="rotate(15.0 362.4 181.1)"/>
<ellipse cx="352.1" cy="180.9" rx="1.35" ry="0.60" fill="#969696" stroke="none" stroke-width="0.96" transform="rotate(15.0 352.1 180.9)"/>
<ellipse cx="355.4" cy="181.8" rx="1.35" ry="0.60" fill="#969696" stroke="none" stroke-width="0.96" transform="rotate(15.0 355.4 181.8)"/>
<ellipse cx="358.7" cy="182.7" rx="1.35" ry="0.60" fill="#969696" stroke="none" stroke-width="0.96" transform="rotate(15.0 358.7 182.7)"/>
<ellipse cx="348.4" cy="182.5" rx="1.35" ry="0.60" fill="#969696" stroke="none" stroke-width="0.96" transform="rotate(15.0 348.4 182.5)"/>
<ellipse cx="351.7" cy="183.4" rx="1.35" ry="0.60" fill="#969696" stroke="none" stroke-width="0.96" transform="rotate(15.0 351.7 183.4)"/>
<ellipse cx="355.0" cy="184.3" rx="1.35" ry="0.60" fill="#969696" stroke="none" stroke-width="0.96" transform="rotate(15.0 355.0 184.3)"/>
<ellipse cx="358.4" cy="185.2" rx="1.35" ry="0.60" fill="#969696" stroke="none" stroke-width="0.96" transform="rotate(15.0 358.4 185.2)"/>
<path d="M391.9 156.4 L405.2 160.0 L374.6 190.9 L361.3 187.3 Z" fill="#2e2e2e" stroke="#2e2e2e" stroke-width="0.48" />
<ellipse cx="392.5" cy="157.9" rx="1.35" ry="0.60" fill="#969696" stroke="none" stroke-width="0.96" transform="rotate(15.0 392.5 157.9)"/>
<ellipse cx="395.9" cy="158.8" rx="1.35" ry="0.60" fill="#969696" stroke="none" stroke-width="0.96" transform="rotate(15.0 395.9 158.8)"/>
<ellipse cx="399.2" cy="159.7" rx="1.35" ry="0.60" fill="#969696" stroke="none" stroke-width="0.96" transform="rotate(15.0 399.2 159.7)"/>
<ellipse cx="402.5" cy="160.6" rx="1.35" ry="0.60" fill="#969696" stroke="none" stroke-width="0.96" transform="rotate(15.0 402.5 160.6)"/>
<ellipse cx="392.2" cy="160.4" rx="1.35" ry="0.60" fill="#969696" stroke="none" stroke-width="0.96" transform="rotate(15.0 392.2 160.4)"/>
<ellipse cx="395.5" cy="161.3" rx="1.35" ry="0.60" fill="#969696" stroke="none" stroke-width="0.96" transform="rotate(15.0 395.5 161.3)"/>
<ellipse cx="398.8" cy="162.2" rx="1.35" ry="0.60" fill="#969696" stroke="none" stroke-width="0.96" transform="rotate(15.0 398.8 162.2)"/>
<ellipse cx="388.5" cy="162.0" rx="1.35" ry="0.60" fill="#969696" stroke="none" stroke-width="0.96" transform="rotate(15.0 388.5 162.0)"/>
<ellipse cx="391.8" cy="162.9" rx="1.35" ry="0.60" fill="#969696" stroke="none" stroke-width="0.96" transform="rotate(15.0 391.8 162.9)"/>
<ellipse cx="395.1" cy="163.8" rx="1.35" ry="0.60" fill="#969696" stroke="none" stroke-width="0.96" transform="rotate(15.0 395.1 163.8)"/>
<ellipse cx="398.4" cy="164.7" rx="1.35" ry="0.60" fill="#969696" stroke="none" stroke-width="0.96" transform="rotate(15.0 398.4 164.7)"/>
<ellipse cx="388.1" cy="164.5" rx="1.35" ry="0.60" fill="#969696" stroke="none" stroke-width="0.96" transform="rotate(15.0 388.1 164.5)"/>
<ellipse cx="391.4" cy="165.4" rx="1.35" ry="0.60" fill="#969696" stroke="none" stroke-width="0.96" transform="rotate(15.0 391.4 165.4)"/>
<ellipse cx="394.7" cy="166.3" rx="1.35" ry="0.60" fill="#969696" stroke="none" stroke-width="0.96" transform="rotate(15.0 394.7 166.3)"/>
<ellipse cx="384.4" cy="166.1" rx="1.35" ry="0.60" fill="#969696" stroke="none" stroke-width="0.96" transform="rotate(15.0 384.4 166.1)"/>
<ellipse cx="387.7" cy="167.0" rx="1.35" ry="0.60" fill="#969696" stroke="none" stroke-width="0.96" transform="rotate(15.0 387.7 167.0)"/>
<ellipse cx="391.0" cy="167.9" rx="1.35" ry="0.60" fill="#969696" stroke="none" stroke-width="0.96" transform="rotate(15.0 391.0 167.9)"/>
<ellipse cx="394.4" cy="168.8" rx="1.35" ry="0.60" fill="#969696" stroke="none" stroke-width="0.96" transform="rotate(15.0 394.4 168.8)"/>
<ellipse cx="384.0" cy="168.6" rx="1.35" ry="0.60" fill="#969696" stroke="none" stroke-width="0.96" transform="rotate(15.0 384.0 168.6)"/>
<ellipse cx="387.3" cy="169.5" rx="1.35" ry="0.60" fill="#969696" stroke="none" stroke-width="0.96" transform="rotate(15.0 387.3 169.5)"/>
<ellipse cx="390.7" cy="170.4" rx="1.35" ry="0.60" fill="#969696" stroke="none" stroke-width="0.96" transform="rotate(15.0 390.7 170.4)"/>
<ellipse cx="380.3" cy="170.2" rx="1.35" ry="0.60" fill="#969696" stroke="none" stroke-width="0.96" transform="rotate(15.0 380.3 170.2)"/>
<ellipse cx="383.6" cy="171.1" rx="1.35" ry="0.60" fill="#969696" stroke="none" stroke-width="0.96" transform="rotate(15.0 383.6 171.1)"/>
<ellipse cx="387.0" cy="172.1" rx="1.35" ry="0.60" fill="#969696" stroke="none" stroke-width="0.96" transform="rotate(15.0 387.0 172.1)"/>
<ellipse cx="390.3" cy="172.9" rx="1.35" ry="0.60" fill="#969696" stroke="none" stroke-width="0.96" transform="rotate(15.0 390.3 172.9)"/>
<ellipse cx="379.9" cy="172.8" rx="1.35" ry="0.60" fill="#969696" stroke="none" stroke-width="0.96" transform="rotate(15.0 379.9 172.8)"/>
<ellipse cx="383.2" cy="173.7" rx="1.35" ry="0.60" fill="#969696" stroke="none" stroke-width="0.96" transform="rotate(15.0 383.2 173.7)"/>
<ellipse cx="386.6" cy="174.6" rx="1.35" ry="0.60" fill="#969696" stroke="none" stroke-width="0.96" transform="rotate(15.0 386.6 174.6)"/>
<ellipse cx="376.2" cy="174.4" rx="1.35" ry="0.60" fill="#969696" stroke="none" stroke-width="0.96" transform="rotate(15.0 376.2 174.4)"/>
<ellipse cx="379.5" cy="175.3" rx="1.35" ry="0.60" fill="#969696" stroke="none" stroke-width="0.96" transform="rotate(15.0 379.5 175.3)"/>
<ellipse cx="382.9" cy="176.2" rx="1.35" ry="0.60" fill="#969696" stroke="none" stroke-width="0.96" transform="rotate(15.0 382.9 176.2)"/>
<ellipse cx="386.2" cy="177.1" rx="1.35" ry="0.60" fill="#969696" stroke="none" stroke-width="0.96" transform="rotate(15.0 386.2 177.1)"/>
<ellipse cx="375.8" cy="176.9" rx="1.35" ry="0.60" fill="#969696" stroke="none" stroke-width="0.96" transform="rotate(15.0 375.8 176.9)"/>
<ellipse cx="379.2" cy="177.8" rx="1.35" ry="0.60" fill="#969696" stroke="none" stroke-width="0.96" transform="rotate(15.0 379.2 177.8)"/>
<ellipse cx="382.5" cy="178.7" rx="1.35" ry="0.60" fill="#969696" stroke="none" stroke-width="0.96" transform="rotate(15.0 382.5 178.7)"/>
<ellipse cx="372.1" cy="178.5" rx="1.35" ry="0.60" fill="#969696" stroke="none" stroke-width="0.96" transform="rotate(15.0 372.1 178.5)"/>
<ellipse cx="375.5" cy="179.4" rx="1.35" ry="0.60" fill="#969696" stroke="none" stroke-width="0.96" transform="rotate(15.0 375.5 179.4)"/>
<ellipse cx="378.8" cy="180.3" rx="1.35" ry="0.60" fill="#969696" stroke="none" stroke-width="0.96" transform="rotate(15.0 378.8 180.3)"/>
<ellipse cx="382.1" cy="181.2" rx="1.35" ry="0.60" fill="#969696" stroke="none" stroke-width="0.96" transform="rotate(15.0 382.1 181.2)"/>
<ellipse cx="371.8" cy="181.0" rx="1.35" ry="0.60" fill="#969696" stroke="none" stroke-width="0.96" transform="rotate(15.0 371.8 181.0)"/>
<ellipse cx="375.1" cy="181.9" rx="1.35" ry="0.60" fill="#969696" stroke="none" stroke-width="0.96" transform="rotate(15.0 375.1 181.9)"/>
<ellipse cx="378.4" cy="182.8" rx="1.35" ry="0.60" fill="#969696" stroke="none" stroke-width="0.96" transform="rotate(15.0 378.4 182.8)"/>
<ellipse cx="368.1" cy="182.6" rx="1.35" ry="0.60" fill="#969696" stroke="none" stroke-width="0.96" transform="rotate(15.0 368.1 182.6)"/>
<ellipse cx="371.4" cy="183.5" rx="1.35" ry="0.60" fill="#969696" stroke="none" stroke-width="0.96" transform="rotate(15.0 371.4 183.5)"/>
<ellipse cx="374.7" cy="184.4" rx="1.35" ry="0.60" fill="#969696" stroke="none" stroke-width="0.96" transform="rotate(15.0 374.7 184.4)"/>
<ellipse cx="378.0" cy="185.3" rx="1.35" ry="0.60" fill="#969696" stroke="none" stroke-width="0.96" transform="rotate(15.0 378.0 185.3)"/>
<ellipse cx="367.7" cy="185.1" rx="1.35" ry="0.60" fill="#969696" stroke="none" stroke-width="0.96" transform="rotate(15.0 367.7 185.1)"/>
<ellipse cx="371.0" cy="186.0" rx="1.35" ry="0.60" fill="#969696" stroke="none" stroke-width="0.96" transform="rotate(15.0 371.0 186.0)"/>
<ellipse cx="374.3" cy="186.9" rx="1.35" ry="0.60" fill="#969696" stroke="none" stroke-width="0.96" transform="rotate(15.0 374.3 186.9)"/>
<ellipse cx="364.0" cy="186.7" rx="1.35" ry="0.60" fill="#969696" stroke="none" stroke-width="0.96" transform="rotate(15.0 364.0 186.7)"/>
<ellipse cx="367.3" cy="187.6" rx="1.35" ry="0.60" fill="#969696" stroke="none" stroke-width="0.96" transform="rotate(15.0 367.3 187.6)"/>
<ellipse cx="370.6" cy="188.5" rx="1.35" ry="0.60" fill="#969696" stroke="none" stroke-width="0.96" transform="rotate(15.0 370.6 188.5)"/>
<ellipse cx="374.0" cy="189.4" rx="1.35" ry="0.60" fill="#969696" stroke="none" stroke-width="0.96" transform="rotate(15.0 374.0 189.4)"/>
<path d="M407.5 160.6 L420.8 164.2 L390.2 195.1 L376.9 191.5 Z" fill="#2e2e2e" stroke="#2e2e2e" stroke-width="0.48" />
<ellipse cx="408.1" cy="162.1" rx="1.35" ry="0.60" fill="#969696" stroke="none" stroke-width="0.96" transform="rotate(15.0 408.1 162.1)"/>
<ellipse cx="411.5" cy="163.0" rx="1.35" ry="0.60" fill="#969696" stroke="none" stroke-width="0.96" transform="rotate(15.0 411.5 163.0)"/>
<ellipse cx="414.8" cy="163.9" rx="1.35" ry="0.60" fill="#969696" stroke="none" stroke-width="0.96" transform="rotate(15.0 414.8 163.9)"/>
<ellipse cx="418.1" cy="164.8" rx="1.35" ry="0.60" fill="#969696" stroke="none" stroke-width="0.96" transform="rotate(15.0 418.1 164.8)"/>
<ellipse cx="407.8" cy="164.6" rx="1.35" ry="0.60" fill="#969696" stroke="none" stroke-width="0.96" transform="rotate(15.0 407.8 164.6)"/>
<ellipse cx="411.1" cy="165.5" rx="1.35" ry="0.60" fill="#969696" stroke="none" stroke-width="0.96" transform="rotate(15.0 411.1 165.5)"/>
<ellipse cx="414.4" cy="166.4" rx="1.35" ry="0.60" fill="#969696" stroke="none" stroke-width="0.96" transform="rotate(15.0 414.4 166.4)"/>
<ellipse cx="404.1" cy="166.2" rx="1.35" ry="0.60" fill="#969696" stroke="none" stroke-width="0.96" transform="rotate(15.0 404.1 166.2)"/>
<ellipse cx="407.4" cy="167.1" rx="1.35" ry="0.60" fill="#969696" stroke="none" stroke-width="0.96" transform="rotate(15.0 407.4 167.1)"/>
<ellipse cx="410.7" cy="168.0" rx="1.35" ry="0.60" fill="#969696" stroke="none" stroke-width="0.96" transform="rotate(15.0 410.7 168.0)"/>
<ellipse cx="414.0" cy="168.9" rx="1.35" ry="0.60" fill="#969696" stroke="none" stroke-width="0.96" transform="rotate(15.0 414.0 168.9)"/>
<ellipse cx="403.7" cy="168.8" rx="1.35" ry="0.60" fill="#969696" stroke="none" stroke-width="0.96" transform="rotate(15.0 403.7 168.8)"/>
<ellipse cx="407.0" cy="169.7" rx="1.35" ry="0.60" fill="#969696" stroke="none" stroke-width="0.96" transform="rotate(15.0 407.0 169.7)"/>
<ellipse cx="410.3" cy="170.5" rx="1.35" ry="0.60" fill="#969696" stroke="none" stroke-width="0.96" transform="rotate(15.0 410.3 170.5)"/>
<ellipse cx="400.0" cy="170.4" rx="1.35" ry="0.60" fill="#969696" stroke="none" stroke-width="0.96" transform="rotate(15.0 400.0 170.4)"/>
<ellipse cx="403.3" cy="171.3" rx="1.35" ry="0.60" fill="#969696" stroke="none" stroke-width="0.96" transform="rotate(15.0 403.3 171.3)"/>
<ellipse cx="406.6" cy="172.2" rx="1.35" ry="0.60" fill="#969696" stroke="none" stroke-width="0.96" transform="rotate(15.0 406.6 172.2)"/>
<ellipse cx="410.0" cy="173.1" rx="1.35" ry="0.60" fill="#969696" stroke="none" stroke-width="0.96" transform="rotate(15.0 410.0 173.1)"/>
<ellipse cx="399.6" cy="172.9" rx="1.35" ry="0.60" fill="#969696" stroke="none" stroke-width="0.96" transform="rotate(15.0 399.6 172.9)"/>
<ellipse cx="402.9" cy="173.8" rx="1.35" ry="0.60" fill="#969696" stroke="none" stroke-width="0.96" transform="rotate(15.0 402.9 173.8)"/>
<ellipse cx="406.3" cy="174.7" rx="1.35" ry="0.60" fill="#969696" stroke="none" stroke-width="0.96" transform="rotate(15.0 406.3 174.7)"/>
<ellipse cx="395.9" cy="174.5" rx="1.35" ry="0.60" fill="#969696" stroke="none" stroke-width="0.96" transform="rotate(15.0 395.9 174.5)"/>
<ellipse cx="399.2" cy="175.4" rx="1.35" ry="0.60" fill="#969696" stroke="none" stroke-width="0.96" transform="rotate(15.0 399.2 175.4)"/>
<ellipse cx="402.6" cy="176.3" rx="1.35" ry="0.60" fill="#969696" stroke="none" stroke-width="0.96" transform="rotate(15.0 402.6 176.3)"/>
<ellipse cx="405.9" cy="177.2" rx="1.35" ry="0.60" fill="#969696" stroke="none" stroke-width="0.96" transform="rotate(15.0 405.9 177.2)"/>
<ellipse cx="395.5" cy="177.0" rx="1.35" ry="0.60" fill="#969696" stroke="none" stroke-width="0.96" transform="rotate(15.0 395.5 177.0)"/>
<ellipse cx="398.8" cy="177.9" rx="1.35" ry="0.60" fill="#969696" stroke="none" stroke-width="0.96" transform="rotate(15.0 398.8 177.9)"/>
<ellipse cx="402.2" cy="178.8" rx="1.35" ry="0.60" fill="#969696" stroke="none" stroke-width="0.96" transform="rotate(15.0 402.2 178.8)"/>
<ellipse cx="391.8" cy="178.6" rx="1.35" ry="0.60" fill="#969696" stroke="none" stroke-width="0.96" transform="rotate(15.0 391.8 178.6)"/>
<ellipse cx="395.1" cy="179.5" rx="1.35" ry="0.60" fill="#969696" stroke="none" stroke-width="0.96" transform="rotate(15.0 395.1 179.5)"/>
<ellipse cx="398.5" cy="180.4" rx="1.35" ry="0.60" fill="#969696" stroke="none" stroke-width="0.96" transform="rotate(15.0 398.5 180.4)"/>
<ellipse cx="401.8" cy="181.3" rx="1.35" ry="0.60" fill="#969696" stroke="none" stroke-width="0.96" transform="rotate(15.0 401.8 181.3)"/>
<ellipse cx="391.4" cy="181.1" rx="1.35" ry="0.60" fill="#969696" stroke="none" stroke-width="0.96" transform="rotate(15.0 391.4 181.1)"/>
<ellipse cx="394.8" cy="182.0" rx="1.35" ry="0.60" fill="#969696" stroke="none" stroke-width="0.96" transform="rotate(15.0 394.8 182.0)"/>
<ellipse cx="398.1" cy="182.9" rx="1.35" ry="0.60" fill="#969696" stroke="none" stroke-width="0.96" transform="rotate(15.0 398.1 182.9)"/>
<ellipse cx="387.7" cy="182.7" rx="1.35" ry="0.60" fill="#969696" stroke="none" stroke-width="0.96" transform="rotate(15.0 387.7 182.7)"/>
<ellipse cx="391.1" cy="183.6" rx="1.35" ry="0.60" fill="#969696" stroke="none" stroke-width="0.96" transform="rotate(15.0 391.1 183.6)"/>
<ellipse cx="394.4" cy="184.5" rx="1.35" ry="0.60" fill="#969696" stroke="none" stroke-width="0.96" transform="rotate(15.0 394.4 184.5)"/>
<ellipse cx="397.7" cy="185.4" rx="1.35" ry="0.60" fill="#969696" stroke="none" stroke-width="0.96" transform="rotate(15.0 397.7 185.4)"/>
<ellipse cx="387.4" cy="185.2" rx="1.35" ry="0.60" fill="#969696" stroke="none" stroke-width="0.96" transform="rotate(15.0 387.4 185.2)"/>
<ellipse cx="390.7" cy="186.1" rx="1.35" ry="0.60" fill="#969696" stroke="none" stroke-width="0.96" transform="rotate(15.0 390.7 186.1)"/>
<ellipse cx="394.0" cy="187.0" rx="1.35" ry="0.60" fill="#969696" stroke="none" stroke-width="0.96" transform="rotate(15.0 394.0 187.0)"/>
<ellipse cx="383.7" cy="186.8" rx="1.35" ry="0.60" fill="#969696" stroke="none" stroke-width="0.96" transform="rotate(15.0 383.7 186.8)"/>
<ellipse cx="387.0" cy="187.7" rx="1.35" ry="0.60" fill="#969696" stroke="none" stroke-width="0.96" transform="rotate(15.0 387.0 187.7)"/>
<ellipse cx="390.3" cy="188.6" rx="1.35" ry="0.60" fill="#969696" stroke="none" stroke-width="0.96" transform="rotate(15.0 390.3 188.6)"/>
<ellipse cx="393.6" cy="189.5" rx="1.35" ry="0.60" fill="#969696" stroke="none" stroke-width="0.96" transform="rotate(15.0 393.6 189.5)"/>
<ellipse cx="383.3" cy="189.3" rx="1.35" ry="0.60" fill="#969696" stroke="none" stroke-width="0.96" transform="rotate(15.0 383.3 189.3)"/>
<ellipse cx="386.6" cy="190.2" rx="1.35" ry="0.60" fill="#969696" stroke="none" stroke-width="0.96" transform="rotate(15.0 386.6 190.2)"/>
<ellipse cx="389.9" cy="191.1" rx="1.35" ry="0.60" fill="#969696" stroke="none" stroke-width="0.96" transform="rotate(15.0 389.9 191.1)"/>
<ellipse cx="379.6" cy="191.0" rx="1.35" ry="0.60" fill="#969696" stroke="none" stroke-width="0.96" transform="rotate(15.0 379.6 191.0)"/>
<ellipse cx="382.9" cy="191.9" rx="1.35" ry="0.60" fill="#969696" stroke="none" stroke-width="0.96" transform="rotate(15.0 382.9 191.9)"/>
<ellipse cx="386.2" cy="192.8" rx="1.35" ry="0.60" fill="#969696" stroke="none" stroke-width="0.96" transform="rotate(15.0 386.2 192.8)"/>
<ellipse cx="389.6" cy="193.7" rx="1.35" ry="0.60" fill="#969696" stroke="none" stroke-width="0.96" transform="rotate(15.0 389.6 193.7)"/>
<path d="M423.1 164.9 L436.4 168.5 L405.8 199.4 L392.5 195.8 Z" fill="#2e2e2e" stroke="#2e2e2e" stroke-width="0.48" />
<ellipse cx="423.7" cy="166.3" rx="1.35" ry="0.60" fill="#969696" stroke="none" stroke-width="0.96" transform="rotate(15.0 423.7 166.3)"/>
<ellipse cx="427.1" cy="167.2" rx="1.35" ry="0.60" fill="#969696" stroke="none" stroke-width="0.96" transform="rotate(15.0 427.1 167.2)"/>
<ellipse cx="430.4" cy="168.2" rx="1.35" ry="0.60" fill="#969696" stroke="none" stroke-width="0.96" transform="rotate(15.0 430.4 168.2)"/>
<ellipse cx="433.7" cy="169.1" rx="1.35" ry="0.60" fill="#969696" stroke="none" stroke-width="0.96" transform="rotate(15.0 433.7 169.1)"/>
<ellipse cx="423.4" cy="168.9" rx="1.35" ry="0.60" fill="#969696" stroke="none" stroke-width="0.96" transform="rotate(15.0 423.4 168.9)"/>
<ellipse cx="426.7" cy="169.8" rx="1.35" ry="0.60" fill="#969696" stroke="none" stroke-width="0.96" transform="rotate(15.0 426.7 169.8)"/>
<ellipse cx="430.0" cy="170.7" rx="1.35" ry="0.60" fill="#969696" stroke="none" stroke-width="0.96" transform="rotate(15.0 430.0 170.7)"/>
<ellipse cx="419.7" cy="170.5" rx="1.35" ry="0.60" fill="#969696" stroke="none" stroke-width="0.96" transform="rotate(15.0 419.7 170.5)"/>
<ellipse cx="423.0" cy="171.4" rx="1.35" ry="0.60" fill="#969696" stroke="none" stroke-width="0.96" transform="rotate(15.0 423.0 171.4)"/>
<ellipse cx="426.3" cy="172.3" rx="1.35" ry="0.60" fill="#969696" stroke="none" stroke-width="0.96" transform="rotate(15.0 426.3 172.3)"/>
<ellipse cx="429.6" cy="173.2" rx="1.35" ry="0.60" fill="#969696" stroke="none" stroke-width="0.96" transform="rotate(15.0 429.6 173.2)"/>
<ellipse cx="419.3" cy="173.0" rx="1.35" ry="0.60" fill="#969696" stroke="none" stroke-width="0.96" transform="rotate(15.0 419.3 173.0)"/>
<ellipse cx="422.6" cy="173.9" rx="1.35" ry="0.60" fill="#969696" stroke="none" stroke-width="0.96" transform="rotate(15.0 422.6 173.9)"/>
<ellipse cx="425.9" cy="174.8" rx="1.35" ry="0.60" fill="#969696" stroke="none" stroke-width="0.96" transform="rotate(15.0 425.9 174.8)"/>
<ellipse cx="415.6" cy="174.6" rx="1.35" ry="0.60" fill="#969696" stroke="none" stroke-width="0.96" transform="rotate(15.0 415.6 174.6)"/>
<ellipse cx="418.9" cy="175.5" rx="1.35" ry="0.60" fill="#969696" stroke="none" stroke-width="0.96" transform="rotate(15.0 418.9 175.5)"/>
<ellipse cx="422.2" cy="176.4" rx="1.35" ry="0.60" fill="#969696" stroke="none" stroke-width="0.96" transform="rotate(15.0 422.2 176.4)"/>
<ellipse cx="425.6" cy="177.3" rx="1.35" ry="0.60" fill="#969696" stroke="none" stroke-width="0.96" transform="rotate(15.0 425.6 177.3)"/>
<ellipse cx="415.2" cy="177.1" rx="1.35" ry="0.60" fill="#969696" stroke="none" stroke-width="0.96" transform="rotate(15.0 415.2 177.1)"/>
<ellipse cx="418.5" cy="178.0" rx="1.35" ry="0.60" fill="#969696" stroke="none" stroke-width="0.96" transform="rotate(15.0 418.5 178.0)"/>
<ellipse cx="421.9" cy="178.9" rx="1.35" ry="0.60" fill="#969696" stroke="none" stroke-width="0.96" transform="rotate(15.0 421.9 178.9)"/>
<ellipse cx="411.5" cy="178.7" rx="1.35" ry="0.60" fill="#969696" stroke="none" stroke-width="0.96" transform="rotate(15.0 411.5 178.7)"/>
<ellipse cx="414.8" cy="179.6" rx="1.35" ry="0.60" fill="#969696" stroke="none" stroke-width="0.96" transform="rotate(15.0 414.8 179.6)"/>
<ellipse cx="418.2" cy="180.5" rx="1.35" ry="0.60" fill="#969696" stroke="none" stroke-width="0.96" transform="rotate(15.0 418.2 180.5)"/>
<ellipse cx="421.5" cy="181.4" rx="1.35" ry="0.60" fill="#969696" stroke="none" stroke-width="0.96" transform="rotate(15.0 421.5 181.4)"/>
<ellipse cx="411.1" cy="181.2" rx="1.35" ry="0.60" fill="#969696" stroke="none" stroke-width="0.96" transform="rotate(15.0 411.1 181.2)"/>
<ellipse cx="414.4" cy="182.1" rx="1.35" ry="0.60" fill="#969696" stroke="none" stroke-width="0.96" transform="rotate(15.0 414.4 182.1)"/>
<ellipse cx="417.8" cy="183.0" rx="1.35" ry="0.60" fill="#969696" stroke="none" stroke-width="0.96" transform="rotate(15.0 417.8 183.0)"/>
<ellipse cx="407.4" cy="182.8" rx="1.35" ry="0.60" fill="#969696" stroke="none" stroke-width="0.96" transform="rotate(15.0 407.4 182.8)"/>
<ellipse cx="410.7" cy="183.7" rx="1.35" ry="0.60" fill="#969696" stroke="none" stroke-width="0.96" transform="rotate(15.0 410.7 183.7)"/>
<ellipse cx="414.1" cy="184.6" rx="1.35" ry="0.60" fill="#969696" stroke="none" stroke-width="0.96" transform="rotate(15.0 414.1 184.6)"/>
<ellipse cx="417.4" cy="185.5" rx="1.35" ry="0.60" fill="#969696" stroke="none" stroke-width="0.96" transform="rotate(15.0 417.4 185.5)"/>
<ellipse cx="407.0" cy="185.3" rx="1.35" ry="0.60" fill="#969696" stroke="none" stroke-width="0.96" transform="rotate(15.0 407.0 185.3)"/>
<ellipse cx="410.4" cy="186.2" rx="1.35" ry="0.60" fill="#969696" stroke="none" stroke-width="0.96" transform="rotate(15.0 410.4 186.2)"/>
<ellipse cx="413.7" cy="187.1" rx="1.35" ry="0.60" fill="#969696" stroke="none" stroke-width="0.96" transform="rotate(15.0 413.7 187.1)"/>
<ellipse cx="403.3" cy="186.9" rx="1.35" ry="0.60" fill="#969696" stroke="none" stroke-width="0.96" transform="rotate(15.0 403.3 186.9)"/>
<ellipse cx="406.7" cy="187.8" rx="1.35" ry="0.60" fill="#969696" stroke="none" stroke-width="0.96" transform="rotate(15.0 406.7 187.8)"/>
<ellipse cx="410.0" cy="188.8" rx="1.35" ry="0.60" fill="#969696" stroke="none" stroke-width="0.96" transform="rotate(15.0 410.0 188.8)"/>
<ellipse cx="413.3" cy="189.7" rx="1.35" ry="0.60" fill="#969696" stroke="none" stroke-width="0.96" transform="rotate(15.0 413.3 189.7)"/>
<ellipse cx="403.0" cy="189.5" rx="1.35" ry="0.60" fill="#969696" stroke="none" stroke-width="0.96" transform="rotate(15.0 403.0 189.5)"/>
<ellipse cx="406.3" cy="190.4" rx="1.35" ry="0.60" fill="#969696" stroke="none" stroke-width="0.96" transform="rotate(15.0 406.3 190.4)"/>
<ellipse cx="409.6" cy="191.3" rx="1.35" ry="0.60" fill="#969696" stroke="none" stroke-width="0.96" transform="rotate(15.0 409.6 191.3)"/>
<ellipse cx="399.3" cy="191.1" rx="1.35" ry="0.60" fill="#969696" stroke="none" stroke-width="0.96" transform="rotate(15.0 399.3 191.1)"/>
<ellipse cx="402.6" cy="192.0" rx="1.35" ry="0.60" fill="#969696" stroke="none" stroke-width="0.96" transform="rotate(15.0 402.6 192.0)"/>
<ellipse cx="405.9" cy="192.9" rx="1.35" ry="0.60" fill="#969696" stroke="none" stroke-width="0.96" transform="rotate(15.0 405.9 192.9)"/>
<ellipse cx="409.2" cy="193.8" rx="1.35" ry="0.60" fill="#969696" stroke="none" stroke-width="0.96" transform="rotate(15.0 409.2 193.8)"/>
<ellipse cx="398.9" cy="193.6" rx="1.35" ry="0.60" fill="#969696" stroke="none" stroke-width="0.96" transform="rotate(15.0 398.9 193.6)"/>
<ellipse cx="402.2" cy="194.5" rx="1.35" ry="0.60" fill="#969696" stroke="none" stroke-width="0.96" transform="rotate(15.0 402.2 194.5)"/>
<ellipse cx="405.5" cy="195.4" rx="1.35" ry="0.60" fill="#969696" stroke="none" stroke-width="0.96" transform="rotate(15.0 405.5 195.4)"/>
<ellipse cx="395.2" cy="195.2" rx="1.35" ry="0.60" fill="#969696" stroke="none" stroke-width="0.96" transform="rotate(15.0 395.2 195.2)"/>
<ellipse cx="398.5" cy="196.1" rx="1.35" ry="0.60" fill="#969696" stroke="none" stroke-width="0.96" transform="rotate(15.0 398.5 196.1)"/>
<ellipse cx="401.8" cy="197.0" rx="1.35" ry="0.60" fill="#969696" stroke="none" stroke-width="0.96" transform="rotate(15.0 401.8 197.0)"/>
<ellipse cx="405.2" cy="197.9" rx="1.35" ry="0.60" fill="#969696" stroke="none" stroke-width="0.96" transform="rotate(15.0 405.2 197.9)"/>
<path d="M438.7 169.1 L452.0 172.7 L421.4 203.6 L408.1 200.0 Z" fill="#2e2e2e" stroke="#2e2e2e" stroke-width="0.48" />
<ellipse cx="439.3" cy="170.6" rx="1.35" ry="0.60" fill="#969696" stroke="none" stroke-width="0.96" transform="rotate(15.0 439.3 170.6)"/>
<ellipse cx="442.7" cy="171.5" rx="1.35" ry="0.60" fill="#969696" stroke="none" stroke-width="0.96" transform="rotate(15.0 442.7 171.5)"/>
<ellipse cx="446.0" cy="172.4" rx="1.35" ry="0.60" fill="#969696" stroke="none" stroke-width="0.96" transform="rotate(15.0 446.0 172.4)"/>
<ellipse cx="449.3" cy="173.3" rx="1.35" ry="0.60" fill="#969696" stroke="none" stroke-width="0.96" transform="rotate(15.0 449.3 173.3)"/>
<ellipse cx="439.0" cy="173.1" rx="1.35" ry="0.60" fill="#969696" stroke="none" stroke-width="0.96" transform="rotate(15.0 439.0 173.1)"/>
<ellipse cx="442.3" cy="174.0" rx="1.35" ry="0.60" fill="#969696" stroke="none" stroke-width="0.96" transform="rotate(15.0 442.3 174.0)"/>
<ellipse cx="445.6" cy="174.9" rx="1.35" ry="0.60" fill="#969696" stroke="none" stroke-width="0.96" transform="rotate(15.0 445.6 174.9)"/>
<ellipse cx="435.3" cy="174.7" rx="1.35" ry="0.60" fill="#969696" stroke="none" stroke-width="0.96" transform="rotate(15.0 435.3 174.7)"/>
<ellipse cx="438.6" cy="175.6" rx="1.35" ry="0.60" fill="#969696" stroke="none" stroke-width="0.96" transform="rotate(15.0 438.6 175.6)"/>
<ellipse cx="441.9" cy="176.5" rx="1.35" ry="0.60" fill="#969696" stroke="none" stroke-width="0.96" transform="rotate(15.0 441.9 176.5)"/>
<ellipse cx="445.2" cy="177.4" rx="1.35" ry="0.60" fill="#969696" stroke="none" stroke-width="0.96" transform="rotate(15.0 445.2 177.4)"/>
<ellipse cx="434.9" cy="177.2" rx="1.35" ry="0.60" fill="#969696" stroke="none" stroke-width="0.96" transform="rotate(15.0 434.9 177.2)"/>
<ellipse cx="438.2" cy="178.1" rx="1.35" ry="0.60" fill="#969696" stroke="none" stroke-width="0.96" transform="rotate(15.0 438.2 178.1)"/>
<ellipse cx="441.5" cy="179.0" rx="1.35" ry="0.60" fill="#969696" stroke="none" stroke-width="0.96" transform="rotate(15.0 441.5 179.0)"/>
<ellipse cx="431.2" cy="178.8" rx="1.35" ry="0.60" fill="#969696" stroke="none" stroke-width="0.96" transform="rotate(15.0 431.2 178.8)"/>
<ellipse cx="434.5" cy="179.7" rx="1.35" ry="0.60" fill="#969696" stroke="none" stroke-width="0.96" transform="rotate(15.0 434.5 179.7)"/>
<ellipse cx="437.8" cy="180.6" rx="1.35" ry="0.60" fill="#969696" stroke="none" stroke-width="0.96" transform="rotate(15.0 437.8 180.6)"/>
<ellipse cx="441.2" cy="181.5" rx="1.35" ry="0.60" fill="#969696" stroke="none" stroke-width="0.96" transform="rotate(15.0 441.2 181.5)"/>
<ellipse cx="430.8" cy="181.3" rx="1.35" ry="0.60" fill="#969696" stroke="none" stroke-width="0.96" transform="rotate(15.0 430.8 181.3)"/>
<ellipse cx="434.1" cy="182.2" rx="1.35" ry="0.60" fill="#969696" stroke="none" stroke-width="0.96" transform="rotate(15.0 434.1 182.2)"/>
<ellipse cx="437.5" cy="183.1" rx="1.35" ry="0.60" fill="#969696" stroke="none" stroke-width="0.96" transform="rotate(15.0 437.5 183.1)"/>
<ellipse cx="427.1" cy="182.9" rx="1.35" ry="0.60" fill="#969696" stroke="none" stroke-width="0.96" transform="rotate(15.0 427.1 182.9)"/>
<ellipse cx="430.4" cy="183.8" rx="1.35" ry="0.60" fill="#969696" stroke="none" stroke-width="0.96" transform="rotate(15.0 430.4 183.8)"/>
<ellipse cx="433.8" cy="184.7" rx="1.35" ry="0.60" fill="#969696" stroke="none" stroke-width="0.96" transform="rotate(15.0 433.8 184.7)"/>
<ellipse cx="437.1" cy="185.6" rx="1.35" ry="0.60" fill="#969696" stroke="none" stroke-width="0.96" transform="rotate(15.0 437.1 185.6)"/>
<ellipse cx="426.7" cy="185.4" rx="1.35" ry="0.60" fill="#969696" stroke="none" stroke-width="0.96" transform="rotate(15.0 426.7 185.4)"/>
<ellipse cx="430.0" cy="186.3" rx="1.35" ry="0.60" fill="#969696" stroke="none" stroke-width="0.96" transform="rotate(15.0 430.0 186.3)"/>
<ellipse cx="433.4" cy="187.2" rx="1.35" ry="0.60" fill="#969696" stroke="none" stroke-width="0.96" transform="rotate(15.0 433.4 187.2)"/>
<ellipse cx="423.0" cy="187.1" rx="1.35" ry="0.60" fill="#969696" stroke="none" stroke-width="0.96" transform="rotate(15.0 423.0 187.1)"/>
<ellipse cx="426.3" cy="188.0" rx="1.35" ry="0.60" fill="#969696" stroke="none" stroke-width="0.96" transform="rotate(15.0 426.3 188.0)"/>
<ellipse cx="429.7" cy="188.9" rx="1.35" ry="0.60" fill="#969696" stroke="none" stroke-width="0.96" transform="rotate(15.0 429.7 188.9)"/>
<ellipse cx="433.0" cy="189.8" rx="1.35" ry="0.60" fill="#969696" stroke="none" stroke-width="0.96" transform="rotate(15.0 433.0 189.8)"/>
<ellipse cx="422.6" cy="189.6" rx="1.35" ry="0.60" fill="#969696" stroke="none" stroke-width="0.96" transform="rotate(15.0 422.6 189.6)"/>
<ellipse cx="426.0" cy="190.5" rx="1.35" ry="0.60" fill="#969696" stroke="none" stroke-width="0.96" transform="rotate(15.0 426.0 190.5)"/>
<ellipse cx="429.3" cy="191.4" rx="1.35" ry="0.60" fill="#969696" stroke="none" stroke-width="0.96" transform="rotate(15.0 429.3 191.4)"/>
<ellipse cx="418.9" cy="191.2" rx="1.35" ry="0.60" fill="#969696" stroke="none" stroke-width="0.96" transform="rotate(15.0 418.9 191.2)"/>
<ellipse cx="422.3" cy="192.1" rx="1.35" ry="0.60" fill="#969696" stroke="none" stroke-width="0.96" transform="rotate(15.0 422.3 192.1)"/>
<ellipse cx="425.6" cy="193.0" rx="1.35" ry="0.60" fill="#969696" stroke="none" stroke-width="0.96" transform="rotate(15.0 425.6 193.0)"/>
<ellipse cx="428.9" cy="193.9" rx="1.35" ry="0.60" fill="#969696" stroke="none" stroke-width="0.96" transform="rotate(15.0 428.9 193.9)"/>
<ellipse cx="418.6" cy="193.7" rx="1.35" ry="0.60" fill="#969696" stroke="none" stroke-width="0.96" transform="rotate(15.0 418.6 193.7)"/>
<ellipse cx="421.9" cy="194.6" rx="1.35" ry="0.60" fill="#969696" stroke="none" stroke-width="0.96" transform="rotate(15.0 421.9 194.6)"/>
<ellipse cx="425.2" cy="195.5" rx="1.35" ry="0.60" fill="#969696" stroke="none" stroke-width="0.96" transform="rotate(15.0 425.2 195.5)"/>
<ellipse cx="414.9" cy="195.3" rx="1.35" ry="0.60" fill="#969696" stroke="none" stroke-width="0.96" transform="rotate(15.0 414.9 195.3)"/>
<ellipse cx="418.2" cy="196.2" rx="1.35" ry="0.60" fill="#969696" stroke="none" stroke-width="0.96" transform="rotate(15.0 418.2 196.2)"/>
<ellipse cx="421.5" cy="197.1" rx="1.35" ry="0.60" fill="#969696" stroke="none" stroke-width="0.96" transform="rotate(15.0 421.5 197.1)"/>
<ellipse cx="424.8" cy="198.0" rx="1.35" ry="0.60" fill="#969696" stroke="none" stroke-width="0.96" transform="rotate(15.0 424.8 198.0)"/>
<ellipse cx="414.5" cy="197.8" rx="1.35" ry="0.60" fill="#969696" stroke="none" stroke-width="0.96" transform="rotate(15.0 414.5 197.8)"/>
<ellipse cx="417.8" cy="198.7" rx="1.35" ry="0.60" fill="#969696" stroke="none" stroke-width="0.96" transform="rotate(15.0 417.8 198.7)"/>
<ellipse cx="421.1" cy="199.6" rx="1.35" ry="0.60" fill="#969696" stroke="none" stroke-width="0.96" transform="rotate(15.0 421.1 199.6)"/>
<ellipse cx="410.8" cy="199.4" rx="1.35" ry="0.60" fill="#969696" stroke="none" stroke-width="0.96" transform="rotate(15.0 410.8 199.4)"/>
<ellipse cx="414.1" cy="200.3" rx="1.35" ry="0.60" fill="#969696" stroke="none" stroke-width="0.96" transform="rotate(15.0 414.1 200.3)"/>
<ellipse cx="417.4" cy="201.2" rx="1.35" ry="0.60" fill="#969696" stroke="none" stroke-width="0.96" transform="rotate(15.0 417.4 201.2)"/>
<ellipse cx="420.8" cy="202.1" rx="1.35" ry="0.60" fill="#969696" stroke="none" stroke-width="0.96" transform="rotate(15.0 420.8 202.1)"/>
<path d="M454.3 173.3 L467.6 176.9 L437.0 207.8 L423.7 204.2 Z" fill="#2e2e2e" stroke="#2e2e2e" stroke-width="0.48" />
<ellipse cx="454.9" cy="174.8" rx="1.35" ry="0.60" fill="#969696" stroke="none" stroke-width="0.96" transform="rotate(15.0 454.9 174.8)"/>
<ellipse cx="458.3" cy="175.7" rx="1.35" ry="0.60" fill="#969696" stroke="none" stroke-width="0.96" transform="rotate(15.0 458.3 175.7)"/>
<ellipse cx="461.6" cy="176.6" rx="1.35" ry="0.60" fill="#969696" stroke="none" stroke-width="0.96" transform="rotate(15.0 461.6 176.6)"/>
<ellipse cx="464.9" cy="177.5" rx="1.35" ry="0.60" fill="#969696" stroke="none" stroke-width="0.96" transform="rotate(15.0 464.9 177.5)"/>
<ellipse cx="454.6" cy="177.3" rx="1.35" ry="0.60" fill="#969696" stroke="none" stroke-width="0.96" transform="rotate(15.0 454.6 177.3)"/>
<ellipse cx="457.9" cy="178.2" rx="1.35" ry="0.60" fill="#969696" stroke="none" stroke-width="0.96" transform="rotate(15.0 457.9 178.2)"/>
<ellipse cx="461.2" cy="179.1" rx="1.35" ry="0.60" fill="#969696" stroke="none" stroke-width="0.96" transform="rotate(15.0 461.2 179.1)"/>
<ellipse cx="450.9" cy="178.9" rx="1.35" ry="0.60" fill="#969696" stroke="none" stroke-width="0.96" transform="rotate(15.0 450.9 178.9)"/>
<ellipse cx="454.2" cy="179.8" rx="1.35" ry="0.60" fill="#969696" stroke="none" stroke-width="0.96" transform="rotate(15.0 454.2 179.8)"/>
<ellipse cx="457.5" cy="180.7" rx="1.35" ry="0.60" fill="#969696" stroke="none" stroke-width="0.96" transform="rotate(15.0 457.5 180.7)"/>
<ellipse cx="460.8" cy="181.6" rx="1.35" ry="0.60" fill="#969696" stroke="none" stroke-width="0.96" transform="rotate(15.0 460.8 181.6)"/>
<ellipse cx="450.5" cy="181.4" rx="1.35" ry="0.60" fill="#969696" stroke="none" stroke-width="0.96" transform="rotate(15.0 450.5 181.4)"/>
<ellipse cx="453.8" cy="182.3" rx="1.35" ry="0.60" fill="#969696" stroke="none" stroke-width="0.96" transform="rotate(15.0 453.8 182.3)"/>
<ellipse cx="457.1" cy="183.2" rx="1.35" ry="0.60" fill="#969696" stroke="none" stroke-width="0.96" transform="rotate(15.0 457.1 183.2)"/>
<ellipse cx="446.8" cy="183.0" rx="1.35" ry="0.60" fill="#969696" stroke="none" stroke-width="0.96" transform="rotate(15.0 446.8 183.0)"/>
<ellipse cx="450.1" cy="183.9" rx="1.35" ry="0.60" fill="#969696" stroke="none" stroke-width="0.96" transform="rotate(15.0 450.1 183.9)"/>
<ellipse cx="453.4" cy="184.8" rx="1.35" ry="0.60" fill="#969696" stroke="none" stroke-width="0.96" transform="rotate(15.0 453.4 184.8)"/>
<ellipse cx="456.8" cy="185.8" rx="1.35" ry="0.60" fill="#969696" stroke="none" stroke-width="0.96" transform="rotate(15.0 456.8 185.8)"/>
<ellipse cx="446.4" cy="185.6" rx="1.35" ry="0.60" fill="#969696" stroke="none" stroke-width="0.96" transform="rotate(15.0 446.4 185.6)"/>
<ellipse cx="449.7" cy="186.5" rx="1.35" ry="0.60" fill="#969696" stroke="none" stroke-width="0.96" transform="rotate(15.0 449.7 186.5)"/>
<ellipse cx="453.1" cy="187.4" rx="1.35" ry="0.60" fill="#969696" stroke="none" stroke-width="0.96" transform="rotate(15.0 453.1 187.4)"/>
<ellipse cx="442.7" cy="187.2" rx="1.35" ry="0.60" fill="#969696" stroke="none" stroke-width="0.96" transform="rotate(15.0 442.7 187.2)"/>
<ellipse cx="446.0" cy="188.1" rx="1.35" ry="0.60" fill="#969696" stroke="none" stroke-width="0.96" transform="rotate(15.0 446.0 188.1)"/>
<ellipse cx="449.4" cy="189.0" rx="1.35" ry="0.60" fill="#969696" stroke="none" stroke-width="0.96" transform="rotate(15.0 449.4 189.0)"/>
<ellipse cx="452.7" cy="189.9" rx="1.35" ry="0.60" fill="#969696" stroke="none" stroke-width="0.96" transform="rotate(15.0 452.7 189.9)"/>
<ellipse cx="442.3" cy="189.7" rx="1.35" ry="0.60" fill="#969696" stroke="none" stroke-width="0.96" transform="rotate(15.0 442.3 189.7)"/>
<ellipse cx="445.6" cy="190.6" rx="1.35" ry="0.60" fill="#969696" stroke="none" stroke-width="0.96" transform="rotate(15.0 445.6 190.6)"/>
<ellipse cx="449.0" cy="191.5" rx="1.35" ry="0.60" fill="#969696" stroke="none" stroke-width="0.96" transform="rotate(15.0 449.0 191.5)"/>
<ellipse cx="438.6" cy="191.3" rx="1.35" ry="0.60" fill="#969696" stroke="none" stroke-width="0.96" transform="rotate(15.0 438.6 191.3)"/>
<ellipse cx="441.9" cy="192.2" rx="1.35" ry="0.60" fill="#969696" stroke="none" stroke-width="0.96" transform="rotate(15.0 441.9 192.2)"/>
<ellipse cx="445.3" cy="193.1" rx="1.35" ry="0.60" fill="#969696" stroke="none" stroke-width="0.96" transform="rotate(15.0 445.3 193.1)"/>
<ellipse cx="448.6" cy="194.0" rx="1.35" ry="0.60" fill="#969696" stroke="none" stroke-width="0.96" transform="rotate(15.0 448.6 194.0)"/>
<ellipse cx="438.2" cy="193.8" rx="1.35" ry="0.60" fill="#969696" stroke="none" stroke-width="0.96" transform="rotate(15.0 438.2 193.8)"/>
<ellipse cx="441.6" cy="194.7" rx="1.35" ry="0.60" fill="#969696" stroke="none" stroke-width="0.96" transform="rotate(15.0 441.6 194.7)"/>
<ellipse cx="444.9" cy="195.6" rx="1.35" ry="0.60" fill="#969696" stroke="none" stroke-width="0.96" transform="rotate(15.0 444.9 195.6)"/>
<ellipse cx="434.5" cy="195.4" rx="1.35" ry="0.60" fill="#969696" stroke="none" stroke-width="0.96" transform="rotate(15.0 434.5 195.4)"/>
<ellipse cx="437.9" cy="196.3" rx="1.35" ry="0.60" fill="#969696" stroke="none" stroke-width="0.96" transform="rotate(15.0 437.9 196.3)"/>
<ellipse cx="441.2" cy="197.2" rx="1.35" ry="0.60" fill="#969696" stroke="none" stroke-width="0.96" transform="rotate(15.0 441.2 197.2)"/>
<ellipse cx="444.5" cy="198.1" rx="1.35" ry="0.60" fill="#969696" stroke="none" stroke-width="0.96" transform="rotate(15.0 444.5 198.1)"/>
<ellipse cx="434.2" cy="197.9" rx="1.35" ry="0.60" fill="#969696" stroke="none" stroke-width="0.96" transform="rotate(15.0 434.2 197.9)"/>
<ellipse cx="437.5" cy="198.8" rx="1.35" ry="0.60" fill="#969696" stroke="none" stroke-width="0.96" transform="rotate(15.0 437.5 198.8)"/>
<ellipse cx="440.8" cy="199.7" rx="1.35" ry="0.60" fill="#969696" stroke="none" stroke-width="0.96" transform="rotate(15.0 440.8 199.7)"/>
<ellipse cx="430.5" cy="199.5" rx="1.35" ry="0.60" fill="#969696" stroke="none" stroke-width="0.96" transform="rotate(15.0 430.5 199.5)"/>
<ellipse cx="433.8" cy="200.4" rx="1.35" ry="0.60" fill="#969696" stroke="none" stroke-width="0.96" transform="rotate(15.0 433.8 200.4)"/>
<ellipse cx="437.1" cy="201.3" rx="1.35" ry="0.60" fill="#969696" stroke="none" stroke-width="0.96" transform="rotate(15.0 437.1 201.3)"/>
<ellipse cx="440.4" cy="202.2" rx="1.35" ry="0.60" fill="#969696" stroke="none" stroke-width="0.96" transform="rotate(15.0 440.4 202.2)"/>
<ellipse cx="430.1" cy="202.0" rx="1.35" ry="0.60" fill="#969696" stroke="none" stroke-width="0.96" transform="rotate(15.0 430.1 202.0)"/>
<ellipse cx="433.4" cy="202.9" rx="1.35" ry="0.60" fill="#969696" stroke="none" stroke-width="0.96" transform="rotate(15.0 433.4 202.9)"/>
<ellipse cx="436.7" cy="203.8" rx="1.35" ry="0.60" fill="#969696" stroke="none" stroke-width="0.96" transform="rotate(15.0 436.7 203.8)"/>
<ellipse cx="426.4" cy="203.6" rx="1.35" ry="0.60" fill="#969696" stroke="none" stroke-width="0.96" transform="rotate(15.0 426.4 203.6)"/>
<ellipse cx="429.7" cy="204.5" rx="1.35" ry="0.60" fill="#969696" stroke="none" stroke-width="0.96" transform="rotate(15.0 429.7 204.5)"/>
<ellipse cx="433.0" cy="205.4" rx="1.35" ry="0.60" fill="#969696" stroke="none" stroke-width="0.96" transform="rotate(15.0 433.0 205.4)"/>
<ellipse cx="436.4" cy="206.3" rx="1.35" ry="0.60" fill="#969696" stroke="none" stroke-width="0.96" transform="rotate(15.0 436.4 206.3)"/>
<path d="M469.9 177.6 L483.2 181.2 L452.6 212.1 L439.3 208.5 Z" fill="#2e2e2e" stroke="#2e2e2e" stroke-width="0.48" />
<ellipse cx="470.5" cy="179.0" rx="1.35" ry="0.60" fill="#969696" stroke="none" stroke-width="0.96" transform="rotate(15.0 470.5 179.0)"/>
<ellipse cx="473.9" cy="179.9" rx="1.35" ry="0.60" fill="#969696" stroke="none" stroke-width="0.96" transform="rotate(15.0 473.9 179.9)"/>
<ellipse cx="477.2" cy="180.8" rx="1.35" ry="0.60" fill="#969696" stroke="none" stroke-width="0.96" transform="rotate(15.0 477.2 180.8)"/>
<ellipse cx="480.5" cy="181.7" rx="1.35" ry="0.60" fill="#969696" stroke="none" stroke-width="0.96" transform="rotate(15.0 480.5 181.7)"/>
<ellipse cx="470.2" cy="181.6" rx="1.35" ry="0.60" fill="#969696" stroke="none" stroke-width="0.96" transform="rotate(15.0 470.2 181.6)"/>
<ellipse cx="473.5" cy="182.5" rx="1.35" ry="0.60" fill="#969696" stroke="none" stroke-width="0.96" transform="rotate(15.0 473.5 182.5)"/>
<ellipse cx="476.8" cy="183.3" rx="1.35" ry="0.60" fill="#969696" stroke="none" stroke-width="0.96" transform="rotate(15.0 476.8 183.3)"/>
<ellipse cx="466.5" cy="183.2" rx="1.35" ry="0.60" fill="#969696" stroke="none" stroke-width="0.96" transform="rotate(15.0 466.5 183.2)"/>
<ellipse cx="469.8" cy="184.1" rx="1.35" ry="0.60" fill="#969696" stroke="none" stroke-width="0.96" transform="rotate(15.0 469.8 184.1)"/>
<ellipse cx="473.1" cy="185.0" rx="1.35" ry="0.60" fill="#969696" stroke="none" stroke-width="0.96" transform="rotate(15.0 473.1 185.0)"/>
<ellipse cx="476.4" cy="185.9" rx="1.35" ry="0.60" fill="#969696" stroke="none" stroke-width="0.96" transform="rotate(15.0 476.4 185.9)"/>
<ellipse cx="466.1" cy="185.7" rx="1.35" ry="0.60" fill="#969696" stroke="none" stroke-width="0.96" transform="rotate(15.0 466.1 185.7)"/>
<ellipse cx="469.4" cy="186.6" rx="1.35" ry="0.60" fill="#969696" stroke="none" stroke-width="0.96" transform="rotate(15.0 469.4 186.6)"/>
<ellipse cx="472.7" cy="187.5" rx="1.35" ry="0.60" fill="#969696" stroke="none" stroke-width="0.96" transform="rotate(15.0 472.7 187.5)"/>
<ellipse cx="462.4" cy="187.3" rx="1.35" ry="0.60" fill="#969696" stroke="none" stroke-width="0.96" transform="rotate(15.0 462.4 187.3)"/>
<ellipse cx="465.7" cy="188.2" rx="1.35" ry="0.60" fill="#969696" stroke="none" stroke-width="0.96" transform="rotate(15.0 465.7 188.2)"/>
<ellipse cx="469.0" cy="189.1" rx="1.35" ry="0.60" fill="#969696" stroke="none" stroke-width="0.96" transform="rotate(15.0 469.0 189.1)"/>
<ellipse cx="472.4" cy="190.0" rx="1.35" ry="0.60" fill="#969696" stroke="none" stroke-width="0.96" transform="rotate(15.0 472.4 190.0)"/>
<ellipse cx="462.0" cy="189.8" rx="1.35" ry="0.60" fill="#969696" stroke="none" stroke-width="0.96" transform="rotate(15.0 462.0 189.8)"/>
<ellipse cx="465.3" cy="190.7" rx="1.35" ry="0.60" fill="#969696" stroke="none" stroke-width="0.96" transform="rotate(15.0 465.3 190.7)"/>
<ellipse cx="468.7" cy="191.6" rx="1.35" ry="0.60" fill="#969696" stroke="none" stroke-width="0.96" transform="rotate(15.0 468.7 191.6)"/>
<ellipse cx="458.3" cy="191.4" rx="1.35" ry="0.60" fill="#969696" stroke="none" stroke-width="0.96" transform="rotate(15.0 458.3 191.4)"/>
<ellipse cx="461.6" cy="192.3" rx="1.35" ry="0.60" fill="#969696" stroke="none" stroke-width="0.96" transform="rotate(15.0 461.6 192.3)"/>
<ellipse cx="465.0" cy="193.2" rx="1.35" ry="0.60" fill="#969696" stroke="none" stroke-width="0.96" transform="rotate(15.0 465.0 193.2)"/>
<ellipse cx="468.3" cy="194.1" rx="1.35" ry="0.60" fill="#969696" stroke="none" stroke-width="0.96" transform="rotate(15.0 468.3 194.1)"/>
<ellipse cx="457.9" cy="193.9" rx="1.35" ry="0.60" fill="#969696" stroke="none" stroke-width="0.96" transform="rotate(15.0 457.9 193.9)"/>
<ellipse cx="461.2" cy="194.8" rx="1.35" ry="0.60" fill="#969696" stroke="none" stroke-width="0.96" transform="rotate(15.0 461.2 194.8)"/>
<ellipse cx="464.6" cy="195.7" rx="1.35" ry="0.60" fill="#969696" stroke="none" stroke-width="0.96" transform="rotate(15.0 464.6 195.7)"/>
<ellipse cx="454.2" cy="195.5" rx="1.35" ry="0.60" fill="#969696" stroke="none" stroke-width="0.96" transform="rotate(15.0 454.2 195.5)"/>
<ellipse cx="457.5" cy="196.4" rx="1.35" ry="0.60" fill="#969696" stroke="none" stroke-width="0.96" transform="rotate(15.0 457.5 196.4)"/>
<ellipse cx="460.9" cy="197.3" rx="1.35" ry="0.60" fill="#969696" stroke="none" stroke-width="0.96" transform="rotate(15.0 460.9 197.3)"/>
<ellipse cx="464.2" cy="198.2" rx="1.35" ry="0.60" fill="#969696" stroke="none" stroke-width="0.96" transform="rotate(15.0 464.2 198.2)"/>
<ellipse cx="453.8" cy="198.0" rx="1.35" ry="0.60" fill="#969696" stroke="none" stroke-width="0.96" transform="rotate(15.0 453.8 198.0)"/>
<ellipse cx="457.2" cy="198.9" rx="1.35" ry="0.60" fill="#969696" stroke="none" stroke-width="0.96" transform="rotate(15.0 457.2 198.9)"/>
<ellipse cx="460.5" cy="199.8" rx="1.35" ry="0.60" fill="#969696" stroke="none" stroke-width="0.96" transform="rotate(15.0 460.5 199.8)"/>
<ellipse cx="450.1" cy="199.6" rx="1.35" ry="0.60" fill="#969696" stroke="none" stroke-width="0.96" transform="rotate(15.0 450.1 199.6)"/>
<ellipse cx="453.5" cy="200.5" rx="1.35" ry="0.60" fill="#969696" stroke="none" stroke-width="0.96" transform="rotate(15.0 453.5 200.5)"/>
<ellipse cx="456.8" cy="201.4" rx="1.35" ry="0.60" fill="#969696" stroke="none" stroke-width="0.96" transform="rotate(15.0 456.8 201.4)"/>
<ellipse cx="460.1" cy="202.3" rx="1.35" ry="0.60" fill="#969696" stroke="none" stroke-width="0.96" transform="rotate(15.0 460.1 202.3)"/>
<ellipse cx="449.8" cy="202.2" rx="1.35" ry="0.60" fill="#969696" stroke="none" stroke-width="0.96" transform="rotate(15.0 449.8 202.2)"/>
<ellipse cx="453.1" cy="203.1" rx="1.35" ry="0.60" fill="#969696" stroke="none" stroke-width="0.96" transform="rotate(15.0 453.1 203.1)"/>
<ellipse cx="456.4" cy="203.9" rx="1.35" ry="0.60" fill="#969696" stroke="none" stroke-width="0.96" transform="rotate(15.0 456.4 203.9)"/>
<ellipse cx="446.1" cy="203.8" rx="1.35" ry="0.60" fill="#969696" stroke="none" stroke-width="0.96" transform="rotate(15.0 446.1 203.8)"/>
<ellipse cx="449.4" cy="204.7" rx="1.35" ry="0.60" fill="#969696" stroke="none" stroke-width="0.96" transform="rotate(15.0 449.4 204.7)"/>
<ellipse cx="452.7" cy="205.6" rx="1.35" ry="0.60" fill="#969696" stroke="none" stroke-width="0.96" transform="rotate(15.0 452.7 205.6)"/>
<ellipse cx="456.0" cy="206.5" rx="1.35" ry="0.60" fill="#969696" stroke="none" stroke-width="0.96" transform="rotate(15.0 456.0 206.5)"/>
<ellipse cx="445.7" cy="206.3" rx="1.35" ry="0.60" fill="#969696" stroke="none" stroke-width="0.96" transform="rotate(15.0 445.7 206.3)"/>
<ellipse cx="449.0" cy="207.2" rx="1.35" ry="0.60" fill="#969696" stroke="none" stroke-width="0.96" transform="rotate(15.0 449.0 207.2)"/>
<ellipse cx="452.3" cy="208.1" rx="1.35" ry="0.60" fill="#969696" stroke="none" stroke-width="0.96" transform="rotate(15.0 452.3 208.1)"/>
<ellipse cx="442.0" cy="207.9" rx="1.35" ry="0.60" fill="#969696" stroke="none" stroke-width="0.96" transform="rotate(15.0 442.0 207.9)"/>
<ellipse cx="445.3" cy="208.8" rx="1.35" ry="0.60" fill="#969696" stroke="none" stroke-width="0.96" transform="rotate(15.0 445.3 208.8)"/>
<ellipse cx="448.6" cy="209.7" rx="1.35" ry="0.60" fill="#969696" stroke="none" stroke-width="0.96" transform="rotate(15.0 448.6 209.7)"/>
<ellipse cx="452.0" cy="210.6" rx="1.35" ry="0.60" fill="#969696" stroke="none" stroke-width="0.96" transform="rotate(15.0 452.0 210.6)"/>
<line x1="221.7" y1="194.9" x2="219.1" y2="202.7" stroke="#2a2a2a" stroke-width="2.40" />
<line x1="226.1" y1="196.1" x2="223.5" y2="203.9" stroke="#2a2a2a" stroke-width="2.40" />
<line x1="230.4" y1="197.2" x2="227.8" y2="205.0" stroke="#2a2a2a" stroke-width="2.40" />
<line x1="234.8" y1="198.4" x2="232.2" y2="206.2" stroke="#2a2a2a" stroke-width="2.40" />
<line x1="239.1" y1="199.5" x2="236.5" y2="207.3" stroke="#2a2a2a" stroke-width="2.40" />
<line x1="243.5" y1="200.7" x2="240.9" y2="208.5" stroke="#2a2a2a" stroke-width="2.40" />
<line x1="247.8" y1="201.8" x2="245.2" y2="209.6" stroke="#2a2a2a" stroke-width="2.40" />
<line x1="252.2" y1="203.0" x2="249.6" y2="210.8" stroke="#2a2a2a" stroke-width="2.40" />
<line x1="256.5" y1="204.1" x2="253.9" y2="211.9" stroke="#2a2a2a" stroke-width="2.40" />
<line x1="260.9" y1="205.3" x2="258.3" y2="213.1" stroke="#2a2a2a" stroke-width="2.40" />
<line x1="265.2" y1="206.4" x2="262.6" y2="214.2" stroke="#2a2a2a" stroke-width="2.40" />
<line x1="269.6" y1="207.6" x2="267.0" y2="215.4" stroke="#2a2a2a" stroke-width="2.40" />
<line x1="274.0" y1="208.7" x2="271.4" y2="216.5" stroke="#2a2a2a" stroke-width="2.40" />
<line x1="278.3" y1="209.9" x2="275.7" y2="217.7" stroke="#2a2a2a" stroke-width="2.40" />
<line x1="282.7" y1="211.0" x2="280.1" y2="218.8" stroke="#2a2a2a" stroke-width="2.40" />
<line x1="287.0" y1="212.2" x2="284.4" y2="220.0" stroke="#2a2a2a" stroke-width="2.40" />
<line x1="291.4" y1="213.3" x2="288.8" y2="221.1" stroke="#2a2a2a" stroke-width="2.40" />
<line x1="295.7" y1="214.5" x2="293.1" y2="222.3" stroke="#2a2a2a" stroke-width="2.40" />
<line x1="300.1" y1="215.6" x2="297.5" y2="223.4" stroke="#2a2a2a" stroke-width="2.40" />
<line x1="304.4" y1="216.8" x2="301.8" y2="224.6" stroke="#2a2a2a" stroke-width="2.40" />
<line x1="308.8" y1="217.9" x2="306.2" y2="225.7" stroke="#2a2a2a" stroke-width="2.40" />
<line x1="313.1" y1="219.1" x2="310.5" y2="226.9" stroke="#2a2a2a" stroke-width="2.40" />
<line x1="317.5" y1="220.2" x2="314.9" y2="228.0" stroke="#2a2a2a" stroke-width="2.40" />
<line x1="321.9" y1="221.4" x2="319.3" y2="229.2" stroke="#2a2a2a" stroke-width="2.40" />
<line x1="326.2" y1="222.5" x2="323.6" y2="230.3" stroke="#2a2a2a" stroke-width="2.40" />
<line x1="330.6" y1="223.7" x2="328.0" y2="231.5" stroke="#2a2a2a" stroke-width="2.40" />
<line x1="334.9" y1="224.8" x2="332.3" y2="232.6" stroke="#2a2a2a" stroke-width="2.40" />
<line x1="339.3" y1="226.0" x2="336.7" y2="233.8" stroke="#2a2a2a" stroke-width="2.40" />
<line x1="343.6" y1="227.1" x2="341.0" y2="234.9" stroke="#2a2a2a" stroke-width="2.40" />
<line x1="348.0" y1="228.2" x2="345.4" y2="236.0" stroke="#2a2a2a" stroke-width="2.40" />
<line x1="352.3" y1="229.4" x2="349.7" y2="237.2" stroke="#2a2a2a" stroke-width="2.40" />
<line x1="356.7" y1="230.5" x2="354.1" y2="238.3" stroke="#2a2a2a" stroke-width="2.40" />
<line x1="361.0" y1="231.7" x2="358.4" y2="239.5" stroke="#2a2a2a" stroke-width="2.40" />
<line x1="365.4" y1="232.8" x2="362.8" y2="240.6" stroke="#2a2a2a" stroke-width="2.40" />
<line x1="369.8" y1="234.0" x2="367.2" y2="241.8" stroke="#2a2a2a" stroke-width="2.40" />
<line x1="374.1" y1="235.1" x2="371.5" y2="242.9" stroke="#2a2a2a" stroke-width="2.40" />
<line x1="378.5" y1="236.3" x2="375.9" y2="244.1" stroke="#2a2a2a" stroke-width="2.40" />
<line x1="382.8" y1="237.4" x2="380.2" y2="245.2" stroke="#2a2a2a" stroke-width="2.40" />
<line x1="387.2" y1="238.6" x2="384.6" y2="246.4" stroke="#2a2a2a" stroke-width="2.40" />
<line x1="391.5" y1="239.7" x2="388.9" y2="247.5" stroke="#2a2a2a" stroke-width="2.40" />
<line x1="395.9" y1="240.9" x2="393.3" y2="248.7" stroke="#2a2a2a" stroke-width="2.40" />
<line x1="400.2" y1="242.0" x2="397.6" y2="249.8" stroke="#2a2a2a" stroke-width="2.40" />
<line x1="404.6" y1="243.2" x2="402.0" y2="251.0" stroke="#2a2a2a" stroke-width="2.40" />
<line x1="408.9" y1="244.3" x2="406.3" y2="252.1" stroke="#2a2a2a" stroke-width="2.40" />
<line x1="413.3" y1="245.5" x2="410.7" y2="253.3" stroke="#2a2a2a" stroke-width="2.40" />
<line x1="464.4" y1="239.4" x2="464.4" y2="248.6" stroke="#222" stroke-width="1.50" stroke-linecap="butt"/>
<line x1="466.8" y1="237.0" x2="466.8" y2="246.2" stroke="#222" stroke-width="1.50" stroke-linecap="butt"/>
<line x1="469.2" y1="234.7" x2="469.2" y2="243.9" stroke="#222" stroke-width="1.50" stroke-linecap="butt"/>
<line x1="471.7" y1="232.3" x2="471.7" y2="241.5" stroke="#222" stroke-width="1.50" stroke-linecap="butt"/>
<line x1="474.1" y1="230.0" x2="474.1" y2="239.2" stroke="#222" stroke-width="1.50" stroke-linecap="butt"/>
<line x1="476.5" y1="227.6" x2="476.5" y2="236.8" stroke="#222" stroke-width="1.50" stroke-linecap="butt"/>
<line x1="478.9" y1="225.3" x2="478.9" y2="234.5" stroke="#222" stroke-width="1.50" stroke-linecap="butt"/>
<line x1="481.4" y1="222.9" x2="481.4" y2="232.1" stroke="#222" stroke-width="1.50" stroke-linecap="butt"/>
<line x1="483.8" y1="220.6" x2="483.8" y2="229.8" stroke="#222" stroke-width="1.50" stroke-linecap="butt"/>
<line x1="486.2" y1="218.2" x2="486.2" y2="227.4" stroke="#222" stroke-width="1.50" stroke-linecap="butt"/>
<line x1="488.6" y1="215.9" x2="488.6" y2="225.1" stroke="#222" stroke-width="1.50" stroke-linecap="butt"/>
<line x1="491.1" y1="213.5" x2="491.1" y2="222.7" stroke="#222" stroke-width="1.50" stroke-linecap="butt"/>
<line x1="493.5" y1="211.2" x2="493.5" y2="220.4" stroke="#222" stroke-width="1.50" stroke-linecap="butt"/>
<line x1="495.9" y1="208.8" x2="495.9" y2="218.0" stroke="#222" stroke-width="1.50" stroke-linecap="butt"/>
<line x1="498.3" y1="206.5" x2="498.3" y2="215.7" stroke="#222" stroke-width="1.50" stroke-linecap="butt"/>
<line x1="500.8" y1="204.1" x2="500.8" y2="213.3" stroke="#222" stroke-width="1.50" stroke-linecap="butt"/>
<line x1="503.2" y1="201.7" x2="503.2" y2="210.9" stroke="#222" stroke-width="1.50" stroke-linecap="butt"/>
<line x1="505.6" y1="199.4" x2="505.6" y2="208.6" stroke="#222" stroke-width="1.50" stroke-linecap="butt"/>
<line x1="508.0" y1="197.0" x2="508.0" y2="206.2" stroke="#222" stroke-width="1.50" stroke-linecap="butt"/>
<line x1="510.4" y1="194.7" x2="510.4" y2="203.9" stroke="#222" stroke-width="1.50" stroke-linecap="butt"/>
<line x1="512.9" y1="192.3" x2="512.9" y2="201.5" stroke="#222" stroke-width="1.50" stroke-linecap="butt"/>
<line x1="515.3" y1="190.0" x2="515.3" y2="199.2" stroke="#222" stroke-width="1.50" stroke-linecap="butt"/>
<line x1="517.7" y1="187.6" x2="517.7" y2="196.8" stroke="#222" stroke-width="1.50" stroke-linecap="butt"/>
<line x1="520.1" y1="185.3" x2="520.1" y2="194.5" stroke="#222" stroke-width="1.50" stroke-linecap="butt"/>
<line x1="522.6" y1="182.9" x2="522.6" y2="192.1" stroke="#222" stroke-width="1.50" stroke-linecap="butt"/>
<line x1="525.0" y1="180.6" x2="525.0" y2="189.8" stroke="#222" stroke-width="1.50" stroke-linecap="butt"/>
<line x1="527.4" y1="178.2" x2="527.4" y2="187.4" stroke="#222" stroke-width="1.50" stroke-linecap="butt"/>
<line x1="529.8" y1="175.9" x2="529.8" y2="185.1" stroke="#222" stroke-width="1.50" stroke-linecap="butt"/>
<line x1="532.3" y1="173.5" x2="532.3" y2="182.7" stroke="#222" stroke-width="1.50" stroke-linecap="butt"/>
<line x1="534.7" y1="171.2" x2="534.7" y2="180.4" stroke="#222" stroke-width="1.50" stroke-linecap="butt"/>
<line x1="537.1" y1="168.8" x2="537.1" y2="178.0" stroke="#222" stroke-width="1.50" stroke-linecap="butt"/>
<path d="M5.3 259.4 L87.6 179.4 L94.3 181.2 L94.4 305.5 L14.4 382.8 L11.8 385.5 L5.3 383.7 Z" fill="#fff" stroke="#222" stroke-width="1.08" />
<path d="M12.6 261.2 L43.0 231.6 L44.2 231.4 L61.0 215.0 L61.6 213.6 L92.4 183.6" fill="none" stroke="#222" stroke-width="1.20" />
<line x1="5.3" y1="259.4" x2="12.6" y2="261.2" stroke="#222" stroke-width="1.08" />
<line x1="92.6" y1="183.4" x2="92.6" y2="304.0" stroke="#222" stroke-width="1.08" />
<line x1="87.6" y1="187.7" x2="87.6" y2="303.0" stroke="#222" stroke-width="1.08" />
<line x1="94.3" y1="181.2" x2="94.4" y2="305.5" stroke="#222" stroke-width="1.32" />
<line x1="91.4" y1="300.0" x2="91.4" y2="305.0" stroke="#222" stroke-width="1.08" />
<ellipse cx="90.3" cy="188.3" rx="0.90" ry="0.90" fill="#333" stroke="none" stroke-width="0.96"/>
<line x1="11.4" y1="261.5" x2="11.4" y2="384.5" stroke="#222" stroke-width="0.96" />
<line x1="13.0" y1="261.5" x2="13.0" y2="384.5" stroke="#222" stroke-width="0.96" />
<line x1="14.4" y1="261.5" x2="14.4" y2="382.8" stroke="#222" stroke-width="0.96" />
<ellipse cx="8.3" cy="268.3" rx="0.80" ry="0.80" fill="#333" stroke="none" stroke-width="0.96"/>
<ellipse cx="8.3" cy="376.6" rx="0.90" ry="0.90" fill="#fff" stroke="#222" stroke-width="0.72"/>
<ellipse cx="46.3" cy="232.3" rx="1.70" ry="3.60" fill="#fff" stroke="#222" stroke-width="0.96" transform="rotate(20.0 46.3 232.3)"/>
<path d="M14.4 307.0 L16.6 305.2 L17.6 305.2 L17.6 316.0 L14.4 318.6" fill="none" stroke="#222" stroke-width="0.96" />
<path d="M8.4 317.4 L12.8 317.4 L12.8 326.0 L10.8 328.2 L8.4 328.2 Z" fill="none" stroke="#222" stroke-width="0.96" />
<path d="M9.6 319.0 L12.4 321.4 L12.4 324.6" fill="none" stroke="#222" stroke-width="0.96" />
<line x1="14.4" y1="375.4" x2="94.4" y2="297.6" stroke="#222" stroke-width="0.96" />
<line x1="14.4" y1="382.6" x2="94.4" y2="304.8" stroke="#222" stroke-width="0.96" />
<path d="M87.6 303.1 L62.8 327.2" fill="none" stroke="#222" stroke-width="0.96" />
<path d="M69.6 328.4 L71.6 330.6 L71.2 332.6 L66.0 339.6" fill="none" stroke="#222" stroke-width="0.96" />
<rect x="70.8" y="297.9" width="8.8" height="3.4" rx="1.5" fill="#fff" stroke="#222" stroke-width="0.96" transform="rotate(17 75.2 299.6)"/>
<ellipse cx="90.3" cy="296.6" rx="0.80" ry="0.90" fill="#222" stroke="none" stroke-width="0.96"/>
<path d="M38.7 268.6 L142.0 168.0 L159.8 173.2 L160.1 325.8 L57.7 424.4 L56.4 425.7 L38.8 420.3 Z M60.8 286.0 L131.6 217.7 L131.6 323.4 L61.8 390.6 Z" fill="#fff" fill-rule="evenodd" stroke="none"/>
<path d="M38.7 268.6 L142.0 168.0 L159.8 173.2 L160.1 325.8 L57.7 424.4 L56.4 425.7 L38.8 420.3 Z" fill="none" stroke="#222" stroke-width="1.08" />
<path d="M38.7 268.6 L56.0 273.3 L159.8 173.2" fill="none" stroke="#222" stroke-width="1.08" />
<line x1="56.2" y1="273.3" x2="56.4" y2="425.7" stroke="#222" stroke-width="1.08" />
<line x1="57.7" y1="287.6" x2="57.7" y2="424.4" stroke="#222" stroke-width="1.08" />
<line x1="38.8" y1="420.3" x2="56.4" y2="425.7" stroke="#222" stroke-width="1.08" />
<line x1="57.7" y1="287.6" x2="159.1" y2="189.9" stroke="#222" stroke-width="1.08" />
<line x1="56.0" y1="273.3" x2="57.7" y2="275.5" stroke="#222" stroke-width="0.84" />
<line x1="60.8" y1="285.5" x2="60.8" y2="406.5" stroke="#222" stroke-width="0.96" />
<line x1="62.4" y1="284.0" x2="62.4" y2="391.0" stroke="#444" stroke-width="1.56" />
<rect x="55.2" y="333" width="3.4" height="32.4" rx="1" fill="#fff" stroke="#222" stroke-width="0.96"/>
<line x1="157.9" y1="191.2" x2="158.2" y2="312.7" stroke="#222" stroke-width="0.96" />
<line x1="156.2" y1="193.0" x2="156.2" y2="313.4" stroke="#222" stroke-width="0.96" />
<line x1="131.5" y1="217.8" x2="131.7" y2="323.4" stroke="#222" stroke-width="0.96" />
<line x1="133.2" y1="216.2" x2="133.2" y2="322.0" stroke="#444" stroke-width="1.80" />
<line x1="138.2" y1="211.5" x2="138.2" y2="316.0" stroke="#222" stroke-width="0.96" />
<rect x="152.2" y="212.9" width="2.8" height="8.6" rx="1.4" fill="#fff" stroke="#222" stroke-width="0.96"/>
<rect x="152.2" y="274.0" width="2.8" height="8.6" rx="1.4" fill="#fff" stroke="#222" stroke-width="0.96"/>
<ellipse cx="146.1" cy="304.6" rx="0.80" ry="0.80" fill="#222" stroke="none" stroke-width="0.96"/>
<rect x="134.2" y="304.6" width="1.4" height="3" fill="#fff" stroke="#222" stroke-width="0.72"/>
<path d="M138.2 316.0 L141.5 317.6 L145.0 317.4 L150.3 314.0 L156.2 313.4" fill="none" stroke="#222" stroke-width="0.96" />
<line x1="57.7" y1="409.5" x2="158.2" y2="312.7" stroke="#222" stroke-width="1.08" />
<line x1="61.8" y1="390.6" x2="131.7" y2="323.2" stroke="#222" stroke-width="1.08" />
<line x1="60.8" y1="406.5" x2="61.8" y2="405.5" stroke="#222" stroke-width="0.84" />
<line x1="81.4" y1="374.4" x2="116.8" y2="340.4" stroke="#444" stroke-width="1.92" />
<rect x="61.6" y="393.0" width="9.6" height="2.6" rx="1.3" fill="#fff" stroke="#222" stroke-width="0.96" transform="rotate(-44 66.4 394.3)"/>
<rect x="69.8" y="385.1" width="9.6" height="2.6" rx="1.3" fill="#fff" stroke="#222" stroke-width="0.96" transform="rotate(-44 74.6 386.4)"/>
<rect x="78.0" y="377.2" width="9.6" height="2.6" rx="1.3" fill="#fff" stroke="#222" stroke-width="0.96" transform="rotate(-44 82.8 378.5)"/>
<rect x="86.2" y="369.3" width="9.6" height="2.6" rx="1.3" fill="#fff" stroke="#222" stroke-width="0.96" transform="rotate(-44 91.0 370.6)"/>
<rect x="94.4" y="361.4" width="9.6" height="2.6" rx="1.3" fill="#fff" stroke="#222" stroke-width="0.96" transform="rotate(-44 99.2 362.7)"/>
<rect x="102.5" y="353.4" width="9.6" height="2.6" rx="1.3" fill="#fff" stroke="#222" stroke-width="0.96" transform="rotate(-44 107.3 354.8)"/>
<rect x="110.7" y="345.5" width="9.6" height="2.6" rx="1.3" fill="#fff" stroke="#222" stroke-width="0.96" transform="rotate(-44 115.5 346.8)"/>
<rect x="118.9" y="337.6" width="9.6" height="2.6" rx="1.3" fill="#fff" stroke="#222" stroke-width="0.96" transform="rotate(-44 123.7 338.9)"/>
<rect x="127.1" y="329.7" width="9.6" height="2.6" rx="1.3" fill="#fff" stroke="#222" stroke-width="0.96" transform="rotate(-44 131.9 331.0)"/>
<rect x="135.3" y="321.8" width="9.6" height="2.6" rx="1.3" fill="#fff" stroke="#222" stroke-width="0.96" transform="rotate(-44 140.1 323.1)"/>
<ellipse cx="143.8" cy="173.3" rx="3.20" ry="2.30" fill="#fff" stroke="#222" stroke-width="0.84"/>
<ellipse cx="143.8" cy="173.3" rx="1.76" ry="1.26" fill="#555" stroke="#222" stroke-width="0.60"/>
<ellipse cx="132.8" cy="184.7" rx="3.20" ry="2.30" fill="#fff" stroke="#222" stroke-width="0.84"/>
<ellipse cx="132.8" cy="184.7" rx="1.76" ry="1.26" fill="#555" stroke="#222" stroke-width="0.60"/>
<ellipse cx="62.1" cy="254.1" rx="3.20" ry="2.30" fill="#fff" stroke="#222" stroke-width="0.84"/>
<ellipse cx="62.1" cy="254.1" rx="1.76" ry="1.26" fill="#555" stroke="#222" stroke-width="0.60"/>
<ellipse cx="50.1" cy="265.1" rx="3.20" ry="2.30" fill="#fff" stroke="#222" stroke-width="0.84"/>
<ellipse cx="50.1" cy="265.1" rx="1.76" ry="1.26" fill="#555" stroke="#222" stroke-width="0.60"/>
<path d="M137.6 375.2 L142.3 370.6 L392.6 437.7 L399.0 443.4 L399.0 565.6 L394.3 569.8 L137.6 499.6 Z" fill="#fff" stroke="#222" stroke-width="1.08" />
<line x1="137.6" y1="375.2" x2="393.9" y2="445.4" stroke="#222" stroke-width="1.08" />
<line x1="394.3" y1="445.4" x2="394.3" y2="569.8" stroke="#222" stroke-width="1.08" />
<line x1="393.9" y1="445.4" x2="399.0" y2="443.4" stroke="#222" stroke-width="0.96" />
<ellipse cx="144.7" cy="374.2" rx="2.20" ry="1.40" fill="#fff" stroke="#222" stroke-width="0.84"/>
<ellipse cx="144.7" cy="374.2" rx="1.00" ry="0.60" fill="#fff" stroke="#222" stroke-width="0.60"/>
<ellipse cx="385.2" cy="439.6" rx="0.90" ry="0.70" fill="#222" stroke="none" stroke-width="0.96"/>
<rect x="392.8" y="437" width="3" height="7.6" rx="1.2" fill="#bbb" stroke="#222" stroke-width="0.96"/>
<rect x="392.8" y="570" width="2.4" height="5.2" rx="1" fill="#fff" stroke="#222" stroke-width="0.96"/>
<ellipse cx="163.7" cy="444.2" rx="10.00" ry="9.60" fill="#fff" stroke="#222" stroke-width="0.84" transform="rotate(20.0 163.7 444.2)"/>
<ellipse cx="163.7" cy="444.2" rx="6.40" ry="6.20" fill="#fff" stroke="#222" stroke-width="1.32" transform="rotate(20.0 163.7 444.2)"/>
<ellipse cx="163.1" cy="444.6" rx="4.60" ry="4.40" fill="#fff" stroke="#333" stroke-width="1.56"/>
<ellipse cx="162.5" cy="445.0" rx="2.60" ry="2.60" fill="#fff" stroke="#222" stroke-width="1.08"/>
<line x1="162.5" y1="443.8" x2="162.5" y2="446.2" stroke="#222" stroke-width="1.08" />
<path d="M62.8 448.2 L67.3 443.5 L102.8 452.9 L101.6 456.6 L104.6 459.7 L274.4 505.6 L283.6 508.2 L288.2 503.6 L319.0 512.0 L324.2 514.8 L324.2 641.0 L319.6 643.0 L62.8 572.8 Z" fill="#fff" stroke="#222" stroke-width="1.08" />
<line x1="62.8" y1="448.2" x2="100.6" y2="458.4" stroke="#222" stroke-width="1.08" />
<line x1="100.6" y1="458.4" x2="102.0" y2="455.4" stroke="#222" stroke-width="0.96" />
<line x1="105.0" y1="460.0" x2="105.0" y2="584.3" stroke="#222" stroke-width="1.08" />
<line x1="109.3" y1="461.0" x2="109.3" y2="585.4" stroke="#222" stroke-width="1.08" />
<line x1="104.6" y1="459.7" x2="274.4" y2="505.6" stroke="#222" stroke-width="1.80" />
<ellipse cx="70.2" cy="447.2" rx="2.00" ry="1.30" fill="#fff" stroke="#222" stroke-width="0.84"/>
<line x1="274.4" y1="505.6" x2="274.4" y2="630.6" stroke="#222" stroke-width="1.08" />
<line x1="277.7" y1="506.4" x2="277.7" y2="631.6" stroke="#222" stroke-width="1.08" />
<line x1="283.6" y1="508.2" x2="318.3" y2="517.9" stroke="#222" stroke-width="1.08" />
<line x1="319.6" y1="517.9" x2="319.6" y2="643.0" stroke="#222" stroke-width="1.08" />
<line x1="318.3" y1="517.9" x2="324.2" y2="514.8" stroke="#222" stroke-width="0.96" />
<ellipse cx="289.4" cy="504.6" rx="0.80" ry="0.60" fill="#222" stroke="none" stroke-width="0.96"/>
<rect x="317.8" y="510" width="2.8" height="7" rx="1.2" fill="#ccc" stroke="#222" stroke-width="0.96"/>
<rect x="318.4" y="643" width="2.2" height="5.4" rx="1" fill="#fff" stroke="#222" stroke-width="0.96"/>
<ellipse cx="89.0" cy="517.0" rx="9.30" ry="10.30" fill="#fff" stroke="#222" stroke-width="0.96" transform="rotate(-25.0 89.0 517.0)"/>
<rect x="85.9" y="513.6" width="6.4" height="7" rx="2.2" fill="#fff" stroke="#222" stroke-width="1.08" transform="rotate(-20 89.0 517.0)"/>
<path d="M16.3 540.1 L21.4 535.5 L275.7 604.2 L277.7 606.0 L277.7 731.0 L273.2 734.6 L16.3 664.3 Z" fill="#fff" stroke="#222" stroke-width="1.08" />
<line x1="16.3" y1="540.1" x2="272.4" y2="609.0" stroke="#222" stroke-width="1.08" />
<line x1="273.1" y1="609.4" x2="273.2" y2="734.6" stroke="#222" stroke-width="1.08" />
<ellipse cx="24.4" cy="538.2" rx="1.50" ry="1.10" fill="#fff" stroke="#222" stroke-width="0.84"/>
<ellipse cx="264.3" cy="603.9" rx="0.90" ry="0.70" fill="#222" stroke="none" stroke-width="0.96"/>
<ellipse cx="274.0" cy="607.3" rx="2.00" ry="1.30" fill="#fff" stroke="#222" stroke-width="0.84" transform="rotate(-25.0 274.0 607.3)"/>
<ellipse cx="42.2" cy="608.8" rx="11.00" ry="12.30" fill="#fff" stroke="#222" stroke-width="0.96" transform="rotate(-25.0 42.2 608.8)"/>
<rect x="39.0" y="605.2" width="6.4" height="7.6" rx="2.4" fill="#fff" stroke="#222" stroke-width="1.20" transform="rotate(-20 42.2 609)"/>
<g fill="none" stroke="#3a3a3a" stroke-width="1.20"><circle cx="66.3" cy="571.2" r="2.12"/><circle cx="66.3" cy="576.5" r="2.12"/><circle cx="66.3" cy="581.8" r="2.12"/><circle cx="66.3" cy="587.1" r="2.12"/><circle cx="66.3" cy="592.4" r="2.12"/><circle cx="66.3" cy="597.7" r="2.12"/><circle cx="66.3" cy="603.0" r="2.12"/><circle cx="66.3" cy="608.3" r="2.12"/><circle cx="66.3" cy="613.6" r="2.12"/><circle cx="66.3" cy="618.9" r="2.12"/><circle cx="66.3" cy="624.2" r="2.12"/><circle cx="66.3" cy="629.5" r="2.12"/><circle cx="66.3" cy="634.8" r="2.12"/><circle cx="66.3" cy="640.1" r="2.12"/><circle cx="66.3" cy="645.4" r="2.12"/><circle cx="66.3" cy="650.7" r="2.12"/><circle cx="66.3" cy="656.0" r="2.12"/><circle cx="66.3" cy="661.3" r="2.12"/><circle cx="71.0" cy="575.1" r="2.12"/><circle cx="71.0" cy="580.4" r="2.12"/><circle cx="71.0" cy="585.7" r="2.12"/><circle cx="71.0" cy="591.0" r="2.12"/><circle cx="71.0" cy="596.3" r="2.12"/><circle cx="71.0" cy="601.6" r="2.12"/><circle cx="71.0" cy="606.9" r="2.12"/><circle cx="71.0" cy="612.2" r="2.12"/><circle cx="71.0" cy="617.5" r="2.12"/><circle cx="71.0" cy="622.8" r="2.12"/><circle cx="71.0" cy="628.1" r="2.12"/><circle cx="71.0" cy="633.4" r="2.12"/><circle cx="71.0" cy="638.7" r="2.12"/><circle cx="71.0" cy="644.0" r="2.12"/><circle cx="71.0" cy="649.3" r="2.12"/><circle cx="71.0" cy="654.6" r="2.12"/><circle cx="71.0" cy="659.9" r="2.12"/><circle cx="75.8" cy="573.8" r="2.12"/><circle cx="75.8" cy="579.1" r="2.12"/><circle cx="75.8" cy="584.4" r="2.12"/><circle cx="75.8" cy="589.7" r="2.12"/><circle cx="75.8" cy="595.0" r="2.12"/><circle cx="75.8" cy="600.3" r="2.12"/><circle cx="75.8" cy="605.6" r="2.12"/><circle cx="75.8" cy="610.9" r="2.12"/><circle cx="75.8" cy="616.2" r="2.12"/><circle cx="75.8" cy="621.5" r="2.12"/><circle cx="75.8" cy="626.8" r="2.12"/><circle cx="75.8" cy="632.1" r="2.12"/><circle cx="75.8" cy="637.4" r="2.12"/><circle cx="75.8" cy="642.7" r="2.12"/><circle cx="75.8" cy="648.0" r="2.12"/><circle cx="75.8" cy="653.3" r="2.12"/><circle cx="75.8" cy="658.6" r="2.12"/><circle cx="75.8" cy="663.9" r="2.12"/><circle cx="80.5" cy="577.7" r="2.12"/><circle cx="80.5" cy="583.0" r="2.12"/><circle cx="80.5" cy="588.3" r="2.12"/><circle cx="80.5" cy="593.6" r="2.12"/><circle cx="80.5" cy="598.9" r="2.12"/><circle cx="80.5" cy="604.2" r="2.12"/><circle cx="80.5" cy="609.5" r="2.12"/><circle cx="80.5" cy="614.8" r="2.12"/><circle cx="80.5" cy="620.1" r="2.12"/><circle cx="80.5" cy="625.4" r="2.12"/><circle cx="80.5" cy="630.7" r="2.12"/><circle cx="80.5" cy="636.0" r="2.12"/><circle cx="80.5" cy="641.3" r="2.12"/><circle cx="80.5" cy="646.6" r="2.12"/><circle cx="80.5" cy="651.9" r="2.12"/><circle cx="80.5" cy="657.2" r="2.12"/><circle cx="80.5" cy="662.5" r="2.12"/><circle cx="85.3" cy="576.4" r="2.12"/><circle cx="85.3" cy="581.7" r="2.12"/><circle cx="85.3" cy="587.0" r="2.12"/><circle cx="85.3" cy="592.3" r="2.12"/><circle cx="85.3" cy="597.6" r="2.12"/><circle cx="85.3" cy="602.9" r="2.12"/><circle cx="85.3" cy="608.2" r="2.12"/><circle cx="85.3" cy="613.5" r="2.12"/><circle cx="85.3" cy="618.8" r="2.12"/><circle cx="85.3" cy="624.1" r="2.12"/><circle cx="85.3" cy="629.4" r="2.12"/><circle cx="85.3" cy="634.7" r="2.12"/><circle cx="85.3" cy="640.0" r="2.12"/><circle cx="85.3" cy="645.3" r="2.12"/><circle cx="85.3" cy="650.6" r="2.12"/><circle cx="85.3" cy="655.9" r="2.12"/><circle cx="85.3" cy="661.2" r="2.12"/><circle cx="85.3" cy="666.5" r="2.12"/><circle cx="90.0" cy="580.3" r="2.12"/><circle cx="90.0" cy="585.6" r="2.12"/><circle cx="90.0" cy="590.9" r="2.12"/><circle cx="90.0" cy="596.2" r="2.12"/><circle cx="90.0" cy="601.5" r="2.12"/><circle cx="90.0" cy="606.8" r="2.12"/><circle cx="90.0" cy="612.1" r="2.12"/><circle cx="90.0" cy="617.4" r="2.12"/><circle cx="90.0" cy="622.7" r="2.12"/><circle cx="90.0" cy="628.0" r="2.12"/><circle cx="90.0" cy="633.3" r="2.12"/><circle cx="90.0" cy="638.6" r="2.12"/><circle cx="90.0" cy="643.9" r="2.12"/><circle cx="90.0" cy="649.2" r="2.12"/><circle cx="90.0" cy="654.5" r="2.12"/><circle cx="90.0" cy="659.8" r="2.12"/><circle cx="90.0" cy="665.1" r="2.12"/><circle cx="94.8" cy="579.0" r="2.12"/><circle cx="94.8" cy="584.3" r="2.12"/><circle cx="94.8" cy="589.6" r="2.12"/><circle cx="94.8" cy="594.9" r="2.12"/><circle cx="94.8" cy="600.2" r="2.12"/><circle cx="94.8" cy="605.5" r="2.12"/><circle cx="94.8" cy="610.8" r="2.12"/><circle cx="94.8" cy="616.1" r="2.12"/><circle cx="94.8" cy="621.4" r="2.12"/><circle cx="94.8" cy="626.7" r="2.12"/><circle cx="94.8" cy="632.0" r="2.12"/><circle cx="94.8" cy="637.3" r="2.12"/><circle cx="94.8" cy="642.6" r="2.12"/><circle cx="94.8" cy="647.9" r="2.12"/><circle cx="94.8" cy="653.2" r="2.12"/><circle cx="94.8" cy="658.5" r="2.12"/><circle cx="94.8" cy="663.8" r="2.12"/><circle cx="94.8" cy="669.1" r="2.12"/><circle cx="99.5" cy="582.9" r="2.12"/><circle cx="99.5" cy="588.2" r="2.12"/><circle cx="99.5" cy="593.5" r="2.12"/><circle cx="99.5" cy="598.8" r="2.12"/><circle cx="99.5" cy="604.1" r="2.12"/><circle cx="99.5" cy="609.4" r="2.12"/><circle cx="99.5" cy="614.7" r="2.12"/><circle cx="99.5" cy="620.0" r="2.12"/><circle cx="99.5" cy="625.3" r="2.12"/><circle cx="99.5" cy="630.6" r="2.12"/><circle cx="99.5" cy="635.9" r="2.12"/><circle cx="99.5" cy="641.2" r="2.12"/><circle cx="99.5" cy="646.5" r="2.12"/><circle cx="99.5" cy="651.8" r="2.12"/><circle cx="99.5" cy="657.1" r="2.12"/><circle cx="99.5" cy="662.4" r="2.12"/><circle cx="99.5" cy="667.7" r="2.12"/><circle cx="104.3" cy="581.6" r="2.12"/><circle cx="104.3" cy="586.9" r="2.12"/><circle cx="104.3" cy="592.2" r="2.12"/><circle cx="104.3" cy="597.5" r="2.12"/><circle cx="104.3" cy="602.8" r="2.12"/><circle cx="104.3" cy="608.1" r="2.12"/><circle cx="104.3" cy="613.4" r="2.12"/><circle cx="104.3" cy="618.7" r="2.12"/><circle cx="104.3" cy="624.0" r="2.12"/><circle cx="104.3" cy="629.3" r="2.12"/><circle cx="104.3" cy="634.6" r="2.12"/><circle cx="104.3" cy="639.9" r="2.12"/><circle cx="104.3" cy="645.2" r="2.12"/><circle cx="104.3" cy="650.5" r="2.12"/><circle cx="104.3" cy="655.8" r="2.12"/><circle cx="104.3" cy="661.1" r="2.12"/><circle cx="104.3" cy="666.4" r="2.12"/><circle cx="104.3" cy="671.7" r="2.12"/><circle cx="109.0" cy="585.5" r="2.12"/><circle cx="109.0" cy="590.8" r="2.12"/><circle cx="109.0" cy="596.1" r="2.12"/><circle cx="109.0" cy="601.4" r="2.12"/><circle cx="109.0" cy="606.7" r="2.12"/><circle cx="109.0" cy="612.0" r="2.12"/><circle cx="109.0" cy="617.3" r="2.12"/><circle cx="109.0" cy="622.6" r="2.12"/><circle cx="109.0" cy="627.9" r="2.12"/><circle cx="109.0" cy="633.2" r="2.12"/><circle cx="109.0" cy="638.5" r="2.12"/><circle cx="109.0" cy="643.8" r="2.12"/><circle cx="109.0" cy="649.1" r="2.12"/><circle cx="109.0" cy="654.4" r="2.12"/><circle cx="109.0" cy="659.7" r="2.12"/><circle cx="109.0" cy="665.0" r="2.12"/><circle cx="109.0" cy="670.3" r="2.12"/><circle cx="113.8" cy="584.2" r="2.12"/><circle cx="113.8" cy="589.5" r="2.12"/><circle cx="113.8" cy="594.8" r="2.12"/><circle cx="113.8" cy="600.1" r="2.12"/><circle cx="113.8" cy="605.4" r="2.12"/><circle cx="113.8" cy="610.7" r="2.12"/><circle cx="113.8" cy="616.0" r="2.12"/><circle cx="113.8" cy="621.3" r="2.12"/><circle cx="113.8" cy="626.6" r="2.12"/><circle cx="113.8" cy="631.9" r="2.12"/><circle cx="113.8" cy="637.2" r="2.12"/><circle cx="113.8" cy="642.5" r="2.12"/><circle cx="113.8" cy="647.8" r="2.12"/><circle cx="113.8" cy="653.1" r="2.12"/><circle cx="113.8" cy="658.4" r="2.12"/><circle cx="113.8" cy="663.7" r="2.12"/><circle cx="113.8" cy="669.0" r="2.12"/><circle cx="113.8" cy="674.3" r="2.12"/><circle cx="118.5" cy="588.1" r="2.12"/><circle cx="118.5" cy="593.4" r="2.12"/><circle cx="118.5" cy="598.7" r="2.12"/><circle cx="118.5" cy="604.0" r="2.12"/><circle cx="118.5" cy="609.3" r="2.12"/><circle cx="118.5" cy="614.6" r="2.12"/><circle cx="118.5" cy="619.9" r="2.12"/><circle cx="118.5" cy="625.2" r="2.12"/><circle cx="118.5" cy="630.5" r="2.12"/><circle cx="118.5" cy="635.8" r="2.12"/><circle cx="118.5" cy="641.1" r="2.12"/><circle cx="118.5" cy="646.4" r="2.12"/><circle cx="118.5" cy="651.7" r="2.12"/><circle cx="118.5" cy="657.0" r="2.12"/><circle cx="118.5" cy="662.3" r="2.12"/><circle cx="118.5" cy="667.6" r="2.12"/><circle cx="118.5" cy="672.9" r="2.12"/><circle cx="123.2" cy="586.8" r="2.12"/><circle cx="123.2" cy="592.1" r="2.12"/><circle cx="123.2" cy="597.4" r="2.12"/><circle cx="123.2" cy="602.7" r="2.12"/><circle cx="123.2" cy="608.0" r="2.12"/><circle cx="123.2" cy="613.3" r="2.12"/><circle cx="123.2" cy="618.6" r="2.12"/><circle cx="123.2" cy="623.9" r="2.12"/><circle cx="123.2" cy="629.2" r="2.12"/><circle cx="123.2" cy="634.5" r="2.12"/><circle cx="123.2" cy="639.8" r="2.12"/><circle cx="123.2" cy="645.1" r="2.12"/><circle cx="123.2" cy="650.4" r="2.12"/><circle cx="123.2" cy="655.7" r="2.12"/><circle cx="123.2" cy="661.0" r="2.12"/><circle cx="123.2" cy="666.3" r="2.12"/><circle cx="123.2" cy="671.6" r="2.12"/><circle cx="123.2" cy="676.9" r="2.12"/><circle cx="128.0" cy="590.7" r="2.12"/><circle cx="128.0" cy="596.0" r="2.12"/><circle cx="128.0" cy="601.3" r="2.12"/><circle cx="128.0" cy="606.6" r="2.12"/><circle cx="128.0" cy="611.9" r="2.12"/><circle cx="128.0" cy="617.2" r="2.12"/><circle cx="128.0" cy="622.5" r="2.12"/><circle cx="128.0" cy="627.8" r="2.12"/><circle cx="128.0" cy="633.1" r="2.12"/><circle cx="128.0" cy="638.4" r="2.12"/><circle cx="128.0" cy="643.7" r="2.12"/><circle cx="128.0" cy="649.0" r="2.12"/><circle cx="128.0" cy="654.3" r="2.12"/><circle cx="128.0" cy="659.6" r="2.12"/><circle cx="128.0" cy="664.9" r="2.12"/><circle cx="128.0" cy="670.2" r="2.12"/><circle cx="128.0" cy="675.5" r="2.12"/><circle cx="132.7" cy="589.4" r="2.12"/><circle cx="132.7" cy="594.7" r="2.12"/><circle cx="132.7" cy="600.0" r="2.12"/><circle cx="132.7" cy="605.3" r="2.12"/><circle cx="132.7" cy="610.6" r="2.12"/><circle cx="132.7" cy="615.9" r="2.12"/><circle cx="132.7" cy="621.2" r="2.12"/><circle cx="132.7" cy="626.5" r="2.12"/><circle cx="132.7" cy="631.8" r="2.12"/><circle cx="132.7" cy="637.1" r="2.12"/><circle cx="132.7" cy="642.4" r="2.12"/><circle cx="132.7" cy="647.7" r="2.12"/><circle cx="132.7" cy="653.0" r="2.12"/><circle cx="132.7" cy="658.3" r="2.12"/><circle cx="132.7" cy="663.6" r="2.12"/><circle cx="132.7" cy="668.9" r="2.12"/><circle cx="132.7" cy="674.2" r="2.12"/><circle cx="132.7" cy="679.5" r="2.12"/><circle cx="137.5" cy="593.3" r="2.12"/><circle cx="137.5" cy="598.6" r="2.12"/><circle cx="137.5" cy="603.9" r="2.12"/><circle cx="137.5" cy="609.2" r="2.12"/><circle cx="137.5" cy="614.5" r="2.12"/><circle cx="137.5" cy="619.8" r="2.12"/><circle cx="137.5" cy="625.1" r="2.12"/><circle cx="137.5" cy="630.4" r="2.12"/><circle cx="137.5" cy="635.7" r="2.12"/><circle cx="137.5" cy="641.0" r="2.12"/><circle cx="137.5" cy="646.3" r="2.12"/><circle cx="137.5" cy="651.6" r="2.12"/><circle cx="137.5" cy="656.9" r="2.12"/><circle cx="137.5" cy="662.2" r="2.12"/><circle cx="137.5" cy="667.5" r="2.12"/><circle cx="137.5" cy="672.8" r="2.12"/><circle cx="137.5" cy="678.1" r="2.12"/><circle cx="142.2" cy="592.0" r="2.12"/><circle cx="142.2" cy="597.3" r="2.12"/><circle cx="142.2" cy="602.6" r="2.12"/><circle cx="142.2" cy="607.9" r="2.12"/><circle cx="142.2" cy="613.2" r="2.12"/><circle cx="142.2" cy="618.5" r="2.12"/><circle cx="142.2" cy="623.8" r="2.12"/><circle cx="142.2" cy="629.1" r="2.12"/><circle cx="142.2" cy="634.4" r="2.12"/><circle cx="142.2" cy="639.7" r="2.12"/><circle cx="142.2" cy="645.0" r="2.12"/><circle cx="142.2" cy="650.3" r="2.12"/><circle cx="142.2" cy="655.6" r="2.12"/><circle cx="142.2" cy="660.9" r="2.12"/><circle cx="142.2" cy="666.2" r="2.12"/><circle cx="142.2" cy="671.5" r="2.12"/><circle cx="142.2" cy="676.8" r="2.12"/><circle cx="142.2" cy="682.1" r="2.12"/><circle cx="147.0" cy="595.9" r="2.12"/><circle cx="147.0" cy="601.2" r="2.12"/><circle cx="147.0" cy="606.5" r="2.12"/><circle cx="147.0" cy="611.8" r="2.12"/><circle cx="147.0" cy="617.1" r="2.12"/><circle cx="147.0" cy="622.4" r="2.12"/><circle cx="147.0" cy="627.7" r="2.12"/><circle cx="147.0" cy="633.0" r="2.12"/><circle cx="147.0" cy="638.3" r="2.12"/><circle cx="147.0" cy="643.6" r="2.12"/><circle cx="147.0" cy="648.9" r="2.12"/><circle cx="147.0" cy="654.2" r="2.12"/><circle cx="147.0" cy="659.5" r="2.12"/><circle cx="147.0" cy="664.8" r="2.12"/><circle cx="147.0" cy="670.1" r="2.12"/><circle cx="147.0" cy="675.4" r="2.12"/><circle cx="147.0" cy="680.7" r="2.12"/><circle cx="151.7" cy="594.6" r="2.12"/><circle cx="151.7" cy="599.9" r="2.12"/><circle cx="151.7" cy="605.2" r="2.12"/><circle cx="151.7" cy="610.5" r="2.12"/><circle cx="151.7" cy="615.8" r="2.12"/><circle cx="151.7" cy="621.1" r="2.12"/><circle cx="151.7" cy="626.4" r="2.12"/><circle cx="151.7" cy="631.7" r="2.12"/><circle cx="151.7" cy="637.0" r="2.12"/><circle cx="151.7" cy="642.3" r="2.12"/><circle cx="151.7" cy="647.6" r="2.12"/><circle cx="151.7" cy="652.9" r="2.12"/><circle cx="151.7" cy="658.2" r="2.12"/><circle cx="151.7" cy="663.5" r="2.12"/><circle cx="151.7" cy="668.8" r="2.12"/><circle cx="151.7" cy="674.1" r="2.12"/><circle cx="151.7" cy="679.4" r="2.12"/><circle cx="151.7" cy="684.7" r="2.12"/><circle cx="156.5" cy="598.5" r="2.12"/><circle cx="156.5" cy="603.8" r="2.12"/><circle cx="156.5" cy="609.1" r="2.12"/><circle cx="156.5" cy="614.4" r="2.12"/><circle cx="156.5" cy="619.7" r="2.12"/><circle cx="156.5" cy="625.0" r="2.12"/><circle cx="156.5" cy="630.3" r="2.12"/><circle cx="156.5" cy="635.6" r="2.12"/><circle cx="156.5" cy="640.9" r="2.12"/><circle cx="156.5" cy="646.2" r="2.12"/><circle cx="156.5" cy="651.5" r="2.12"/><circle cx="156.5" cy="656.8" r="2.12"/><circle cx="156.5" cy="662.1" r="2.12"/><circle cx="156.5" cy="667.4" r="2.12"/><circle cx="156.5" cy="672.7" r="2.12"/><circle cx="156.5" cy="678.0" r="2.12"/><circle cx="156.5" cy="683.3" r="2.12"/><circle cx="161.2" cy="597.2" r="2.12"/><circle cx="161.2" cy="602.5" r="2.12"/><circle cx="161.2" cy="607.8" r="2.12"/><circle cx="161.2" cy="613.1" r="2.12"/><circle cx="161.2" cy="618.4" r="2.12"/><circle cx="161.2" cy="623.7" r="2.12"/><circle cx="161.2" cy="629.0" r="2.12"/><circle cx="161.2" cy="634.3" r="2.12"/><circle cx="161.2" cy="639.6" r="2.12"/><circle cx="161.2" cy="644.9" r="2.12"/><circle cx="161.2" cy="650.2" r="2.12"/><circle cx="161.2" cy="655.5" r="2.12"/><circle cx="161.2" cy="660.8" r="2.12"/><circle cx="161.2" cy="666.1" r="2.12"/><circle cx="161.2" cy="671.4" r="2.12"/><circle cx="161.2" cy="676.7" r="2.12"/><circle cx="161.2" cy="682.0" r="2.12"/><circle cx="161.2" cy="687.3" r="2.12"/><circle cx="165.9" cy="601.1" r="2.12"/><circle cx="165.9" cy="606.4" r="2.12"/><circle cx="165.9" cy="611.7" r="2.12"/><circle cx="165.9" cy="617.0" r="2.12"/><circle cx="165.9" cy="622.3" r="2.12"/><circle cx="165.9" cy="627.6" r="2.12"/><circle cx="165.9" cy="632.9" r="2.12"/><circle cx="165.9" cy="638.2" r="2.12"/><circle cx="165.9" cy="643.5" r="2.12"/><circle cx="165.9" cy="648.8" r="2.12"/><circle cx="165.9" cy="654.1" r="2.12"/><circle cx="165.9" cy="659.4" r="2.12"/><circle cx="165.9" cy="664.7" r="2.12"/><circle cx="165.9" cy="670.0" r="2.12"/><circle cx="165.9" cy="675.3" r="2.12"/><circle cx="165.9" cy="680.6" r="2.12"/><circle cx="165.9" cy="685.9" r="2.12"/><circle cx="170.7" cy="599.8" r="2.12"/><circle cx="170.7" cy="605.1" r="2.12"/><circle cx="170.7" cy="610.4" r="2.12"/><circle cx="170.7" cy="615.7" r="2.12"/><circle cx="170.7" cy="621.0" r="2.12"/><circle cx="170.7" cy="626.3" r="2.12"/><circle cx="170.7" cy="631.6" r="2.12"/><circle cx="170.7" cy="636.9" r="2.12"/><circle cx="170.7" cy="642.2" r="2.12"/><circle cx="170.7" cy="647.5" r="2.12"/><circle cx="170.7" cy="652.8" r="2.12"/><circle cx="170.7" cy="658.1" r="2.12"/><circle cx="170.7" cy="663.4" r="2.12"/><circle cx="170.7" cy="668.7" r="2.12"/><circle cx="170.7" cy="674.0" r="2.12"/><circle cx="170.7" cy="679.3" r="2.12"/><circle cx="170.7" cy="684.6" r="2.12"/><circle cx="170.7" cy="689.9" r="2.12"/><circle cx="175.4" cy="603.7" r="2.12"/><circle cx="175.4" cy="609.0" r="2.12"/><circle cx="175.4" cy="614.3" r="2.12"/><circle cx="175.4" cy="619.6" r="2.12"/><circle cx="175.4" cy="624.9" r="2.12"/><circle cx="175.4" cy="630.2" r="2.12"/><circle cx="175.4" cy="635.5" r="2.12"/><circle cx="175.4" cy="640.8" r="2.12"/><circle cx="175.4" cy="646.1" r="2.12"/><circle cx="175.4" cy="651.4" r="2.12"/><circle cx="175.4" cy="656.7" r="2.12"/><circle cx="175.4" cy="662.0" r="2.12"/><circle cx="175.4" cy="667.3" r="2.12"/><circle cx="175.4" cy="672.6" r="2.12"/><circle cx="175.4" cy="677.9" r="2.12"/><circle cx="175.4" cy="683.2" r="2.12"/><circle cx="175.4" cy="688.5" r="2.12"/><circle cx="180.2" cy="602.4" r="2.12"/><circle cx="180.2" cy="607.7" r="2.12"/><circle cx="180.2" cy="613.0" r="2.12"/><circle cx="180.2" cy="618.3" r="2.12"/><circle cx="180.2" cy="623.6" r="2.12"/><circle cx="180.2" cy="628.9" r="2.12"/><circle cx="180.2" cy="634.2" r="2.12"/><circle cx="180.2" cy="639.5" r="2.12"/><circle cx="180.2" cy="644.8" r="2.12"/><circle cx="180.2" cy="650.1" r="2.12"/><circle cx="180.2" cy="655.4" r="2.12"/><circle cx="180.2" cy="660.7" r="2.12"/><circle cx="180.2" cy="666.0" r="2.12"/><circle cx="180.2" cy="671.3" r="2.12"/><circle cx="180.2" cy="676.6" r="2.12"/><circle cx="180.2" cy="681.9" r="2.12"/><circle cx="180.2" cy="687.2" r="2.12"/><circle cx="180.2" cy="692.5" r="2.12"/><circle cx="184.9" cy="606.3" r="2.12"/><circle cx="184.9" cy="611.6" r="2.12"/><circle cx="184.9" cy="616.9" r="2.12"/><circle cx="184.9" cy="622.2" r="2.12"/><circle cx="184.9" cy="627.5" r="2.12"/><circle cx="184.9" cy="632.8" r="2.12"/><circle cx="184.9" cy="638.1" r="2.12"/><circle cx="184.9" cy="643.4" r="2.12"/><circle cx="184.9" cy="648.7" r="2.12"/><circle cx="184.9" cy="654.0" r="2.12"/><circle cx="184.9" cy="659.3" r="2.12"/><circle cx="184.9" cy="664.6" r="2.12"/><circle cx="184.9" cy="669.9" r="2.12"/><circle cx="184.9" cy="675.2" r="2.12"/><circle cx="184.9" cy="680.5" r="2.12"/><circle cx="184.9" cy="685.8" r="2.12"/><circle cx="184.9" cy="691.1" r="2.12"/><circle cx="189.7" cy="605.0" r="2.12"/><circle cx="189.7" cy="610.3" r="2.12"/><circle cx="189.7" cy="615.6" r="2.12"/><circle cx="189.7" cy="620.9" r="2.12"/><circle cx="189.7" cy="626.2" r="2.12"/><circle cx="189.7" cy="631.5" r="2.12"/><circle cx="189.7" cy="636.8" r="2.12"/><circle cx="189.7" cy="642.1" r="2.12"/><circle cx="189.7" cy="647.4" r="2.12"/><circle cx="189.7" cy="652.7" r="2.12"/><circle cx="189.7" cy="658.0" r="2.12"/><circle cx="189.7" cy="663.3" r="2.12"/><circle cx="189.7" cy="668.6" r="2.12"/><circle cx="189.7" cy="673.9" r="2.12"/><circle cx="189.7" cy="679.2" r="2.12"/><circle cx="189.7" cy="684.5" r="2.12"/><circle cx="189.7" cy="689.8" r="2.12"/><circle cx="189.7" cy="695.1" r="2.12"/><circle cx="194.4" cy="608.9" r="2.12"/><circle cx="194.4" cy="614.2" r="2.12"/><circle cx="194.4" cy="619.5" r="2.12"/><circle cx="194.4" cy="624.8" r="2.12"/><circle cx="194.4" cy="630.1" r="2.12"/><circle cx="194.4" cy="635.4" r="2.12"/><circle cx="194.4" cy="640.7" r="2.12"/><circle cx="194.4" cy="646.0" r="2.12"/><circle cx="194.4" cy="651.3" r="2.12"/><circle cx="194.4" cy="656.6" r="2.12"/><circle cx="194.4" cy="661.9" r="2.12"/><circle cx="194.4" cy="667.2" r="2.12"/><circle cx="194.4" cy="672.5" r="2.12"/><circle cx="194.4" cy="677.8" r="2.12"/><circle cx="194.4" cy="683.1" r="2.12"/><circle cx="194.4" cy="688.4" r="2.12"/><circle cx="194.4" cy="693.7" r="2.12"/><circle cx="199.2" cy="607.6" r="2.12"/><circle cx="199.2" cy="612.9" r="2.12"/><circle cx="199.2" cy="618.2" r="2.12"/><circle cx="199.2" cy="623.5" r="2.12"/><circle cx="199.2" cy="628.8" r="2.12"/><circle cx="199.2" cy="634.1" r="2.12"/><circle cx="199.2" cy="639.4" r="2.12"/><circle cx="199.2" cy="644.7" r="2.12"/><circle cx="199.2" cy="650.0" r="2.12"/><circle cx="199.2" cy="655.3" r="2.12"/><circle cx="199.2" cy="660.6" r="2.12"/><circle cx="199.2" cy="665.9" r="2.12"/><circle cx="199.2" cy="671.2" r="2.12"/><circle cx="199.2" cy="676.5" r="2.12"/><circle cx="199.2" cy="681.8" r="2.12"/><circle cx="199.2" cy="687.1" r="2.12"/><circle cx="199.2" cy="692.4" r="2.12"/><circle cx="199.2" cy="697.7" r="2.12"/><circle cx="203.9" cy="611.5" r="2.12"/><circle cx="203.9" cy="616.8" r="2.12"/><circle cx="203.9" cy="622.1" r="2.12"/><circle cx="203.9" cy="627.4" r="2.12"/><circle cx="203.9" cy="632.7" r="2.12"/><circle cx="203.9" cy="638.0" r="2.12"/><circle cx="203.9" cy="643.3" r="2.12"/><circle cx="203.9" cy="648.6" r="2.12"/><circle cx="203.9" cy="653.9" r="2.12"/><circle cx="203.9" cy="659.2" r="2.12"/><circle cx="203.9" cy="664.5" r="2.12"/><circle cx="203.9" cy="669.8" r="2.12"/><circle cx="203.9" cy="675.1" r="2.12"/><circle cx="203.9" cy="680.4" r="2.12"/><circle cx="203.9" cy="685.7" r="2.12"/><circle cx="203.9" cy="691.0" r="2.12"/><circle cx="203.9" cy="696.3" r="2.12"/><circle cx="208.6" cy="610.1" r="2.12"/><circle cx="208.6" cy="615.4" r="2.12"/><circle cx="208.6" cy="620.7" r="2.12"/><circle cx="208.6" cy="626.0" r="2.12"/><circle cx="208.6" cy="631.3" r="2.12"/><circle cx="208.6" cy="636.6" r="2.12"/><circle cx="208.6" cy="641.9" r="2.12"/><circle cx="208.6" cy="647.2" r="2.12"/><circle cx="208.6" cy="652.5" r="2.12"/><circle cx="208.6" cy="657.8" r="2.12"/><circle cx="208.6" cy="663.1" r="2.12"/><circle cx="208.6" cy="668.4" r="2.12"/><circle cx="208.6" cy="673.7" r="2.12"/><circle cx="208.6" cy="679.0" r="2.12"/><circle cx="208.6" cy="684.3" r="2.12"/><circle cx="208.6" cy="689.6" r="2.12"/><circle cx="208.6" cy="694.9" r="2.12"/><circle cx="208.6" cy="700.2" r="2.12"/><circle cx="213.4" cy="614.1" r="2.12"/><circle cx="213.4" cy="619.4" r="2.12"/><circle cx="213.4" cy="624.7" r="2.12"/><circle cx="213.4" cy="630.0" r="2.12"/><circle cx="213.4" cy="635.3" r="2.12"/><circle cx="213.4" cy="640.6" r="2.12"/><circle cx="213.4" cy="645.9" r="2.12"/><circle cx="213.4" cy="651.2" r="2.12"/><circle cx="213.4" cy="656.5" r="2.12"/><circle cx="213.4" cy="661.8" r="2.12"/><circle cx="213.4" cy="667.1" r="2.12"/><circle cx="213.4" cy="672.4" r="2.12"/><circle cx="213.4" cy="677.7" r="2.12"/><circle cx="213.4" cy="683.0" r="2.12"/><circle cx="213.4" cy="688.3" r="2.12"/><circle cx="213.4" cy="693.6" r="2.12"/><circle cx="213.4" cy="698.9" r="2.12"/><circle cx="218.1" cy="612.7" r="2.12"/><circle cx="218.1" cy="618.0" r="2.12"/><circle cx="218.1" cy="623.3" r="2.12"/><circle cx="218.1" cy="628.6" r="2.12"/><circle cx="218.1" cy="633.9" r="2.12"/><circle cx="218.1" cy="639.2" r="2.12"/><circle cx="218.1" cy="644.5" r="2.12"/><circle cx="218.1" cy="649.8" r="2.12"/><circle cx="218.1" cy="655.1" r="2.12"/><circle cx="218.1" cy="660.4" r="2.12"/><circle cx="218.1" cy="665.7" r="2.12"/><circle cx="218.1" cy="671.0" r="2.12"/><circle cx="218.1" cy="676.3" r="2.12"/><circle cx="218.1" cy="681.6" r="2.12"/><circle cx="218.1" cy="686.9" r="2.12"/><circle cx="218.1" cy="692.2" r="2.12"/><circle cx="218.1" cy="697.5" r="2.12"/><circle cx="218.1" cy="702.8" r="2.12"/><circle cx="222.9" cy="616.7" r="2.12"/><circle cx="222.9" cy="622.0" r="2.12"/><circle cx="222.9" cy="627.3" r="2.12"/><circle cx="222.9" cy="632.6" r="2.12"/><circle cx="222.9" cy="637.9" r="2.12"/><circle cx="222.9" cy="643.2" r="2.12"/><circle cx="222.9" cy="648.5" r="2.12"/><circle cx="222.9" cy="653.8" r="2.12"/><circle cx="222.9" cy="659.1" r="2.12"/><circle cx="222.9" cy="664.4" r="2.12"/><circle cx="222.9" cy="669.7" r="2.12"/><circle cx="222.9" cy="675.0" r="2.12"/><circle cx="222.9" cy="680.3" r="2.12"/><circle cx="222.9" cy="685.6" r="2.12"/><circle cx="222.9" cy="690.9" r="2.12"/><circle cx="222.9" cy="696.2" r="2.12"/><circle cx="222.9" cy="701.5" r="2.12"/><circle cx="227.6" cy="615.3" r="2.12"/><circle cx="227.6" cy="620.6" r="2.12"/><circle cx="227.6" cy="625.9" r="2.12"/><circle cx="227.6" cy="631.2" r="2.12"/><circle cx="227.6" cy="636.5" r="2.12"/><circle cx="227.6" cy="641.8" r="2.12"/><circle cx="227.6" cy="647.1" r="2.12"/><circle cx="227.6" cy="652.4" r="2.12"/><circle cx="227.6" cy="657.7" r="2.12"/><circle cx="227.6" cy="663.0" r="2.12"/><circle cx="227.6" cy="668.3" r="2.12"/><circle cx="227.6" cy="673.6" r="2.12"/><circle cx="227.6" cy="678.9" r="2.12"/><circle cx="227.6" cy="684.2" r="2.12"/><circle cx="227.6" cy="689.5" r="2.12"/><circle cx="227.6" cy="694.8" r="2.12"/><circle cx="227.6" cy="700.1" r="2.12"/><circle cx="227.6" cy="705.4" r="2.12"/><circle cx="232.4" cy="619.3" r="2.12"/><circle cx="232.4" cy="624.6" r="2.12"/><circle cx="232.4" cy="629.9" r="2.12"/><circle cx="232.4" cy="635.2" r="2.12"/><circle cx="232.4" cy="640.5" r="2.12"/><circle cx="232.4" cy="645.8" r="2.12"/><circle cx="232.4" cy="651.1" r="2.12"/><circle cx="232.4" cy="656.4" r="2.12"/><circle cx="232.4" cy="661.7" r="2.12"/><circle cx="232.4" cy="667.0" r="2.12"/><circle cx="232.4" cy="672.3" r="2.12"/><circle cx="232.4" cy="677.6" r="2.12"/><circle cx="232.4" cy="682.9" r="2.12"/><circle cx="232.4" cy="688.2" r="2.12"/><circle cx="232.4" cy="693.5" r="2.12"/><circle cx="232.4" cy="698.8" r="2.12"/><circle cx="232.4" cy="704.1" r="2.12"/></g>
<path d="M581.6 415.9 L685.0 315.7 L702.3 320.6 L702.5 385.0 L610.4 470.0 L610.4 562.6 L599.6 573.3 L581.6 568.7 Z" fill="#fff" stroke="none"/>
<path d="M581.6 568.7 L581.6 415.9 L685.0 315.7 L702.3 320.6 L702.5 378.0" fill="none" stroke="#222" stroke-width="1.08" />
<path d="M581.6 415.9 L599.6 420.0 L702.3 320.6" fill="none" stroke="#222" stroke-width="1.08" />
<path d="M581.6 475.8 L583.4 475.8 L583.4 508.4 L581.6 508.4" fill="none" stroke="#222" stroke-width="1.08" />
<line x1="599.6" y1="420.0" x2="599.6" y2="573.3" stroke="#222" stroke-width="1.08" />
<line x1="581.6" y1="568.7" x2="599.6" y2="573.3" stroke="#222" stroke-width="1.08" />
<line x1="599.6" y1="573.3" x2="610.4" y2="562.8" stroke="#222" stroke-width="1.08" />
<line x1="608.7" y1="413.4" x2="608.7" y2="564.2" stroke="#222" stroke-width="1.08" />
<line x1="610.5" y1="415.6" x2="610.5" y2="562.6" stroke="#222" stroke-width="1.08" />
<line x1="609.5" y1="413.2" x2="692.6" y2="332.0" stroke="#222" stroke-width="1.08" />
<line x1="610.4" y1="415.6" x2="680.2" y2="347.0" stroke="#333" stroke-width="1.68" />
<line x1="599.6" y1="420.0" x2="609.4" y2="413.3" stroke="#222" stroke-width="0.84" />
<line x1="693.3" y1="329.6" x2="693.3" y2="388.8" stroke="#222" stroke-width="1.08" />
<line x1="698.2" y1="326.5" x2="698.2" y2="385.4" stroke="#222" stroke-width="1.08" />
<line x1="687.0" y1="342.0" x2="687.0" y2="394.6" stroke="#222" stroke-width="1.08" />
<line x1="679.3" y1="348.0" x2="679.3" y2="402.8" stroke="#222" stroke-width="1.08" />
<line x1="681.0" y1="346.4" x2="681.0" y2="401.0" stroke="#222" stroke-width="0.96" />
<path d="M687.0 337.4 L693.3 335.4" fill="none" stroke="#222" stroke-width="0.96" />
<path d="M687.0 342.0 L693.3 342.0" fill="none" stroke="#222" stroke-width="0.96" />
<ellipse cx="697.9" cy="333.7" rx="0.70" ry="0.90" fill="#222" stroke="none" stroke-width="0.96"/>
<ellipse cx="681.9" cy="361.7" rx="0.60" ry="1.30" fill="#fff" stroke="#2a2a2a" stroke-width="0.96" transform="rotate(10.0 681.9 361.7)"/>
<ellipse cx="604.6" cy="424.1" rx="0.70" ry="0.80" fill="#222" stroke="none" stroke-width="0.96"/>
<ellipse cx="604.8" cy="560.4" rx="0.70" ry="0.80" fill="#222" stroke="none" stroke-width="0.96"/>
<ellipse cx="690.8" cy="321.9" rx="3.20" ry="2.30" fill="#fff" stroke="#222" stroke-width="0.84"/>
<ellipse cx="690.8" cy="321.9" rx="1.76" ry="1.26" fill="#555" stroke="#222" stroke-width="0.60"/>
<ellipse cx="679.3" cy="333.3" rx="3.20" ry="2.30" fill="#fff" stroke="#222" stroke-width="0.84"/>
<ellipse cx="679.3" cy="333.3" rx="1.76" ry="1.26" fill="#555" stroke="#222" stroke-width="0.60"/>
<ellipse cx="608.7" cy="402.2" rx="3.20" ry="2.30" fill="#fff" stroke="#222" stroke-width="0.84"/>
<ellipse cx="608.7" cy="402.2" rx="1.76" ry="1.26" fill="#555" stroke="#222" stroke-width="0.60"/>
<ellipse cx="596.8" cy="413.4" rx="3.20" ry="2.30" fill="#fff" stroke="#222" stroke-width="0.84"/>
<ellipse cx="596.8" cy="413.4" rx="1.76" ry="1.26" fill="#555" stroke="#222" stroke-width="0.60"/>
<line x1="610.4" y1="528.3" x2="650.0" y2="489.6" stroke="#222" stroke-width="1.08" />
<rect x="613.0" y="521.9" width="9.4" height="2.8" rx="1.4" fill="#fff" stroke="#222" stroke-width="1.02" transform="rotate(-44 617.7 523.3)"/>
<rect x="620.9" y="514.2" width="9.4" height="2.8" rx="1.4" fill="#fff" stroke="#222" stroke-width="1.02" transform="rotate(-44 625.6 515.6)"/>
<rect x="628.9" y="506.6" width="9.4" height="2.8" rx="1.4" fill="#fff" stroke="#222" stroke-width="1.02" transform="rotate(-44 633.6 508.0)"/>
<rect x="636.8" y="498.9" width="9.4" height="2.8" rx="1.4" fill="#fff" stroke="#222" stroke-width="1.02" transform="rotate(-44 641.5 500.3)"/>
<line x1="610.4" y1="524.0" x2="616.0" y2="518.6" stroke="#222" stroke-width="0.96" />
<line x1="610.4" y1="536.7" x2="650.0" y2="498.4" stroke="#222" stroke-width="1.08" />
<line x1="610.4" y1="540.8" x2="650.0" y2="503.4" stroke="#222" stroke-width="1.08" />
<line x1="624.0" y1="525.4" x2="650.0" y2="500.6" stroke="#555" stroke-width="2.16" />
<line x1="611.0" y1="557.4" x2="650.0" y2="519.4" stroke="#222" stroke-width="1.08" />
<line x1="610.4" y1="560.6" x2="650.0" y2="521.8" stroke="#444" stroke-width="1.56" />
<path d="M647.3 433.8 L729.4 353.9 L735.6 356.2 L735.6 478.2 L654.7 559.3 L647.3 557.2 Z" fill="#fff" stroke="#222" stroke-width="1.08" />
<path d="M647.3 433.8 L653.8 436.3 L735.6 356.2" fill="none" stroke="#222" stroke-width="1.08" />
<line x1="653.8" y1="436.3" x2="654.7" y2="559.3" stroke="#222" stroke-width="1.08" />
<path d="M698.0 386.2 L698.8 384.2 L700.4 384.0" fill="none" stroke="#222" stroke-width="0.96" />
<ellipse cx="650.9" cy="442.9" rx="0.80" ry="0.90" fill="#222" stroke="none" stroke-width="0.96"/>
<ellipse cx="650.9" cy="551.0" rx="0.80" ry="0.90" fill="#222" stroke="none" stroke-width="0.96"/>
<ellipse cx="695.4" cy="408.5" rx="1.50" ry="2.60" fill="#fff" stroke="#222" stroke-width="1.08" transform="rotate(20.0 695.4 408.5)"/>
<path d="M724.7 424.3 L733.7 415.3 L733.7 425.3 L724.7 434.3 Z" fill="none" stroke="#222" stroke-width="0.96" />
<path d="M726.7 424.3 L731.8 419.3 L731.8 424.4 L726.7 429.4 Z" fill="none" stroke="#222" stroke-width="1.20" />
<path d="M656.9 490.4 L665.9 481.4 L665.9 491.4 L656.9 500.4 Z" fill="none" stroke="#222" stroke-width="0.96" />
<path d="M658.9 490.4 L664.0 485.4 L664.0 490.5 L658.9 495.5 Z" fill="none" stroke="#222" stroke-width="1.20" />
<rect x="647.4" y="490.6" width="4.0" height="11.2" fill="#fff" stroke="#222" stroke-width="0.84"/>
<line x1="647.6" y1="493.0" x2="651.2" y2="492.2" stroke="#444" stroke-width="0.96" />
<line x1="647.6" y1="495.4" x2="651.2" y2="494.6" stroke="#444" stroke-width="0.96" />
<line x1="647.6" y1="497.8" x2="651.2" y2="497.0" stroke="#444" stroke-width="0.96" />
<line x1="647.6" y1="500.2" x2="651.2" y2="499.4" stroke="#444" stroke-width="0.96" />
<rect x="537.0" y="590.4" width="3.6" height="11" rx="1.4" fill="#fff" stroke="#222" stroke-width="1.08"/>
<ellipse cx="538.8" cy="603.0" rx="5.70" ry="2.90" fill="#fff" stroke="#222" stroke-width="1.08"/>
<ellipse cx="538.8" cy="602.0" rx="5.70" ry="2.90" fill="#fff" stroke="#222" stroke-width="1.08"/>
<ellipse cx="538.8" cy="601.4" rx="2.60" ry="1.30" fill="#fff" stroke="#222" stroke-width="0.84"/>
<rect x="537.0" y="595.4" width="3.6" height="6" fill="#fff" stroke="none"/>
<line x1="537.0" y1="595.0" x2="537.0" y2="601.0" stroke="#222" stroke-width="1.08" />
<line x1="540.6" y1="595.0" x2="540.6" y2="601.0" stroke="#222" stroke-width="1.08" />
<rect x="455.4" y="681.4" width="3.6" height="11" rx="1.4" fill="#fff" stroke="#222" stroke-width="1.08"/>
<ellipse cx="457.2" cy="694.0" rx="5.70" ry="2.90" fill="#fff" stroke="#222" stroke-width="1.08"/>
<ellipse cx="457.2" cy="693.0" rx="5.70" ry="2.90" fill="#fff" stroke="#222" stroke-width="1.08"/>
<ellipse cx="457.2" cy="692.4" rx="2.60" ry="1.30" fill="#fff" stroke="#222" stroke-width="0.84"/>
<rect x="455.4" y="686.4" width="3.6" height="6" fill="#fff" stroke="none"/>
<line x1="455.4" y1="686.0" x2="455.4" y2="692.0" stroke="#222" stroke-width="1.08" />
<line x1="459.0" y1="686.0" x2="459.0" y2="692.0" stroke="#222" stroke-width="1.08" />
<path d="M541 604.4 L541.2 622.2 L548.4 620 Z" fill="#222" stroke="#222" stroke-width="0.72"/>
<path d="M478.0 85.8 L459.9 85.8 L391.3 117.7" fill="none" stroke="#222" stroke-width="1.08" />
<path d="M547.8 88.1 L522.2 88.1 L500.6 154.9" fill="none" stroke="#222" stroke-width="1.08" />
<path d="M593.0 212.7 L567.2 212.7 L498.0 275.5" fill="none" stroke="#222" stroke-width="1.08" />
<path d="M604.7 259.5 L619.0 259.5 L654.2 348.2" fill="none" stroke="#222" stroke-width="1.08" />
<path d="M311.6 745.4 L289.0 745.4 L263.9 679.3" fill="none" stroke="#222" stroke-width="1.08" />
<path d="M356.0 745.4 L334.2 745.4 L307.2 631.5" fill="none" stroke="#222" stroke-width="1.08" />
<path d="M401.3 745.4 L379.4 745.4 L345.5 543.2" fill="none" stroke="#222" stroke-width="1.08" />
<path d="M434.7 745.4 L415.9 745.4 L403.8 614.0" fill="none" stroke="#222" stroke-width="1.08" />
<path d="M470.0 745.4 L451.0 745.4 L422.9 555.3" fill="none" stroke="#222" stroke-width="1.08" />
<path d="M503.5 745.4 L482.9 745.4 L455.3 479.1" fill="none" stroke="#222" stroke-width="1.08" />
<path d="M560.8 745.4 L543.2 745.4 L482.4 429.5" fill="none" stroke="#222" stroke-width="1.08" />
<path d="M604.8 745.4 L577.1 745.4 L542.5 608.5" fill="none" stroke="#222" stroke-width="1.08" />
<path d="M660.0 745.4 L627.4 745.4 L665.5 515.0" fill="none" stroke="#222" stroke-width="1.08" />
</g>
<g class="lg">
<text x="713" y="29.0" textLength="104.0" lengthAdjust="spacingAndGlyphs">1 Рама /Frame</text>
<text x="713" y="51.7" textLength="215.0" lengthAdjust="spacingAndGlyphs">2 Панель боковая / Side panel</text>
<text x="713" y="74.4" textLength="298.6" lengthAdjust="spacingAndGlyphs">3 Профиль вертикальный / Vertical profile</text>
<text x="713" y="97.2" textLength="302.5" lengthAdjust="spacingAndGlyphs">4 Планка горизонтальная / Horizontal strip</text>
<text x="713" y="119.9" textLength="244.3" lengthAdjust="spacingAndGlyphs">5 Кабеледержатель / Cable holder</text>
<text x="713" y="142.6" textLength="105.8" lengthAdjust="spacingAndGlyphs">6 Дно / Bottom</text>
<text x="713" y="165.3" textLength="274.0" lengthAdjust="spacingAndGlyphs">7 Дверь металлическая / Metallic door</text>
<text x="713" y="188.0" textLength="229.7" lengthAdjust="spacingAndGlyphs">8 Дверь со стеклом / Glass door</text>
<text x="713" y="210.8" textLength="317.0" lengthAdjust="spacingAndGlyphs">9 Дверь перфорированная / Perforated door</text>
<text x="713" y="233.5" textLength="316.0" lengthAdjust="spacingAndGlyphs">10 Опора регулирующая / Adjusting support</text>
<text x="713" y="256.2" textLength="135.2" lengthAdjust="spacingAndGlyphs">11 Крышка / Cover</text>
<text x="713" y="278.9" textLength="119.0" lengthAdjust="spacingAndGlyphs">12 Крыша / Roof</text>
<text x="713" y="301.6" textLength="260.5" lengthAdjust="spacingAndGlyphs">13 Стенка задняя / Back wall (panel)</text>
</g>
<g class="nm">
<text x="458.3" y="71.8" textLength="17.2" lengthAdjust="spacingAndGlyphs">11</text>
<text x="522.6" y="74.8" textLength="17.2" lengthAdjust="spacingAndGlyphs">12</text>
<text x="569.5" y="200.0" textLength="17.2" lengthAdjust="spacingAndGlyphs">13</text>
<text x="608.0" y="245.3" textLength="6.0" lengthAdjust="spacingAndGlyphs">1</text>
<text x="294.5" y="734.0" textLength="8.5" lengthAdjust="spacingAndGlyphs">9</text>
<text x="340.0" y="734.0" textLength="8.5" lengthAdjust="spacingAndGlyphs">8</text>
<text x="386.5" y="734.0" textLength="8.5" lengthAdjust="spacingAndGlyphs">7</text>
<text x="419.5" y="734.0" textLength="8.6" lengthAdjust="spacingAndGlyphs">6</text>
<text x="454.0" y="734.0" textLength="8.5" lengthAdjust="spacingAndGlyphs">5</text>
<text x="486.8" y="734.0" textLength="8.8" lengthAdjust="spacingAndGlyphs">4</text>
<text x="546.6" y="734.0" textLength="8.6" lengthAdjust="spacingAndGlyphs">3</text>
<text x="581.6" y="734.0" textLength="16.2" lengthAdjust="spacingAndGlyphs">10</text>
<text x="641.3" y="734.0" textLength="8.6" lengthAdjust="spacingAndGlyphs">2</text>
</g>
</svg>
</body></html>
